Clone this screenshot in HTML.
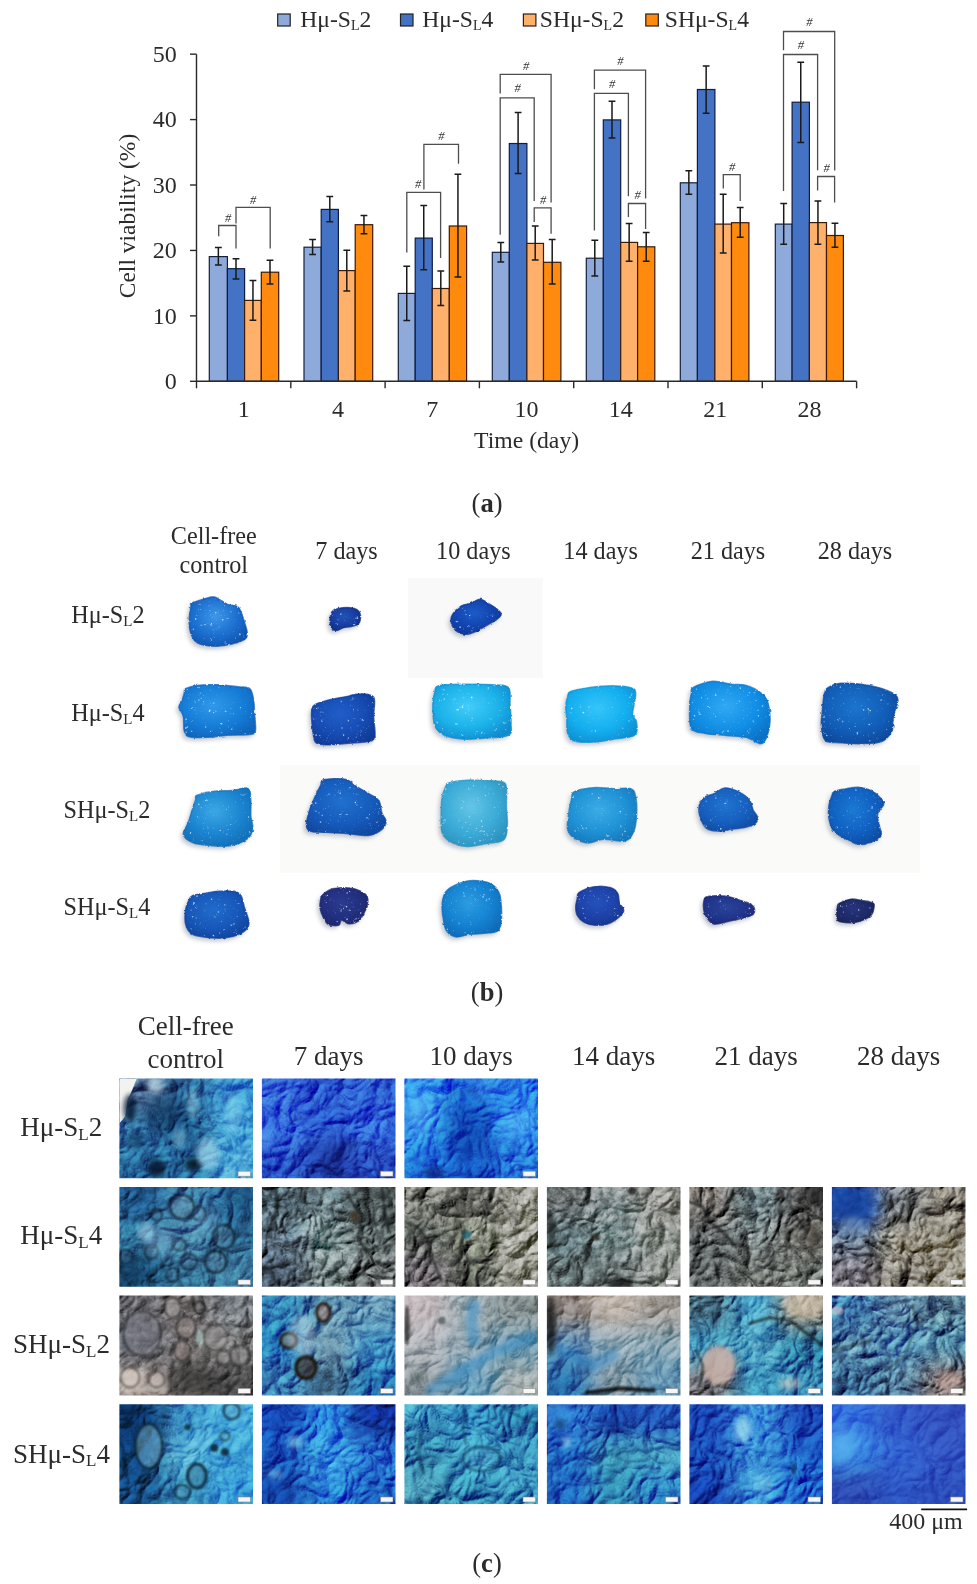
<!DOCTYPE html>
<html><head><meta charset="utf-8"><title>Figure</title>
<style>html,body{margin:0;padding:0;background:#fff;}body{width:977px;height:1584px;position:relative;overflow:hidden;font-family:'Liberation Serif', serif;}</style>
</head><body>
<div style="position:absolute;left:0;top:0;width:977px;height:1584px;opacity:0.995"><svg width="977" height="1584" viewBox="0 0 977 1584" style="position:absolute;left:0;top:0;font-family:'Liberation Serif', serif" fill="#2b2b2b"><defs><filter color-interpolation-filters="sRGB" id="bsh" x="-20%" y="-20%" width="140%" height="140%"><feGaussianBlur stdDeviation="2.2"/></filter><filter color-interpolation-filters="sRGB" id="bed" x="-10%" y="-10%" width="120%" height="120%"><feGaussianBlur stdDeviation="0.6"/></filter><filter color-interpolation-filters="sRGB" id="tbl" x="-30%" y="-30%" width="160%" height="160%"><feGaussianBlur stdDeviation="7"/></filter><filter color-interpolation-filters="sRGB" id="vein0" x="0" y="0" width="100%" height="100%" filterUnits="objectBoundingBox"><feTurbulence type="turbulence" baseFrequency="0.035" numOctaves="3" seed="3"/><feColorMatrix type="matrix" values="0 0 0 0 0.03  0 0 0 0 0.05  0 0 0 0 0.08  -9 0 0 0 1.0"/></filter><filter color-interpolation-filters="sRGB" id="grain0" x="0" y="0" width="100%" height="100%" filterUnits="objectBoundingBox"><feTurbulence type="fractalNoise" baseFrequency="0.7" numOctaves="1" seed="11"/><feColorMatrix type="matrix" values="0 0 0 0 1  0 0 0 0 1  0 0 0 0 1  2.2 0 0 0 -1.25"/></filter><filter color-interpolation-filters="sRGB" id="vein1" x="0" y="0" width="100%" height="100%" filterUnits="objectBoundingBox"><feTurbulence type="turbulence" baseFrequency="0.035" numOctaves="3" seed="4"/><feColorMatrix type="matrix" values="0 0 0 0 0.03  0 0 0 0 0.05  0 0 0 0 0.08  -9 0 0 0 1.0"/></filter><filter color-interpolation-filters="sRGB" id="grain1" x="0" y="0" width="100%" height="100%" filterUnits="objectBoundingBox"><feTurbulence type="fractalNoise" baseFrequency="0.7" numOctaves="1" seed="12"/><feColorMatrix type="matrix" values="0 0 0 0 1  0 0 0 0 1  0 0 0 0 1  2.2 0 0 0 -1.25"/></filter><filter color-interpolation-filters="sRGB" id="vein2" x="0" y="0" width="100%" height="100%" filterUnits="objectBoundingBox"><feTurbulence type="turbulence" baseFrequency="0.035" numOctaves="3" seed="5"/><feColorMatrix type="matrix" values="0 0 0 0 0.03  0 0 0 0 0.05  0 0 0 0 0.08  -9 0 0 0 1.0"/></filter><filter color-interpolation-filters="sRGB" id="grain2" x="0" y="0" width="100%" height="100%" filterUnits="objectBoundingBox"><feTurbulence type="fractalNoise" baseFrequency="0.7" numOctaves="1" seed="13"/><feColorMatrix type="matrix" values="0 0 0 0 1  0 0 0 0 1  0 0 0 0 1  2.2 0 0 0 -1.25"/></filter><filter color-interpolation-filters="sRGB" id="vein3" x="0" y="0" width="100%" height="100%" filterUnits="objectBoundingBox"><feTurbulence type="turbulence" baseFrequency="0.035" numOctaves="3" seed="6"/><feColorMatrix type="matrix" values="0 0 0 0 0.03  0 0 0 0 0.05  0 0 0 0 0.08  -9 0 0 0 1.0"/></filter><filter color-interpolation-filters="sRGB" id="grain3" x="0" y="0" width="100%" height="100%" filterUnits="objectBoundingBox"><feTurbulence type="fractalNoise" baseFrequency="0.7" numOctaves="1" seed="14"/><feColorMatrix type="matrix" values="0 0 0 0 1  0 0 0 0 1  0 0 0 0 1  2.2 0 0 0 -1.25"/></filter><filter color-interpolation-filters="sRGB" id="vein4" x="0" y="0" width="100%" height="100%" filterUnits="objectBoundingBox"><feTurbulence type="turbulence" baseFrequency="0.035" numOctaves="3" seed="7"/><feColorMatrix type="matrix" values="0 0 0 0 0.03  0 0 0 0 0.05  0 0 0 0 0.08  -9 0 0 0 1.0"/></filter><filter color-interpolation-filters="sRGB" id="grain4" x="0" y="0" width="100%" height="100%" filterUnits="objectBoundingBox"><feTurbulence type="fractalNoise" baseFrequency="0.7" numOctaves="1" seed="15"/><feColorMatrix type="matrix" values="0 0 0 0 1  0 0 0 0 1  0 0 0 0 1  2.2 0 0 0 -1.25"/></filter><filter color-interpolation-filters="sRGB" id="vein5" x="0" y="0" width="100%" height="100%" filterUnits="objectBoundingBox"><feTurbulence type="turbulence" baseFrequency="0.035" numOctaves="3" seed="8"/><feColorMatrix type="matrix" values="0 0 0 0 0.03  0 0 0 0 0.05  0 0 0 0 0.08  -9 0 0 0 1.0"/></filter><filter color-interpolation-filters="sRGB" id="grain5" x="0" y="0" width="100%" height="100%" filterUnits="objectBoundingBox"><feTurbulence type="fractalNoise" baseFrequency="0.7" numOctaves="1" seed="16"/><feColorMatrix type="matrix" values="0 0 0 0 1  0 0 0 0 1  0 0 0 0 1  2.2 0 0 0 -1.25"/></filter><filter color-interpolation-filters="sRGB" id="vein6" x="0" y="0" width="100%" height="100%" filterUnits="objectBoundingBox"><feTurbulence type="turbulence" baseFrequency="0.035" numOctaves="3" seed="9"/><feColorMatrix type="matrix" values="0 0 0 0 0.03  0 0 0 0 0.05  0 0 0 0 0.08  -9 0 0 0 1.0"/></filter><filter color-interpolation-filters="sRGB" id="grain6" x="0" y="0" width="100%" height="100%" filterUnits="objectBoundingBox"><feTurbulence type="fractalNoise" baseFrequency="0.7" numOctaves="1" seed="17"/><feColorMatrix type="matrix" values="0 0 0 0 1  0 0 0 0 1  0 0 0 0 1  2.2 0 0 0 -1.25"/></filter><filter color-interpolation-filters="sRGB" id="vein7" x="0" y="0" width="100%" height="100%" filterUnits="objectBoundingBox"><feTurbulence type="turbulence" baseFrequency="0.035" numOctaves="3" seed="10"/><feColorMatrix type="matrix" values="0 0 0 0 0.03  0 0 0 0 0.05  0 0 0 0 0.08  -9 0 0 0 1.0"/></filter><filter color-interpolation-filters="sRGB" id="grain7" x="0" y="0" width="100%" height="100%" filterUnits="objectBoundingBox"><feTurbulence type="fractalNoise" baseFrequency="0.7" numOctaves="1" seed="18"/><feColorMatrix type="matrix" values="0 0 0 0 1  0 0 0 0 1  0 0 0 0 1  2.2 0 0 0 -1.25"/></filter><filter color-interpolation-filters="sRGB" id="vein8" x="0" y="0" width="100%" height="100%" filterUnits="objectBoundingBox"><feTurbulence type="turbulence" baseFrequency="0.035" numOctaves="3" seed="11"/><feColorMatrix type="matrix" values="0 0 0 0 0.03  0 0 0 0 0.05  0 0 0 0 0.08  -9 0 0 0 1.0"/></filter><filter color-interpolation-filters="sRGB" id="grain8" x="0" y="0" width="100%" height="100%" filterUnits="objectBoundingBox"><feTurbulence type="fractalNoise" baseFrequency="0.7" numOctaves="1" seed="19"/><feColorMatrix type="matrix" values="0 0 0 0 1  0 0 0 0 1  0 0 0 0 1  2.2 0 0 0 -1.25"/></filter><filter color-interpolation-filters="sRGB" id="vein9" x="0" y="0" width="100%" height="100%" filterUnits="objectBoundingBox"><feTurbulence type="turbulence" baseFrequency="0.035" numOctaves="3" seed="12"/><feColorMatrix type="matrix" values="0 0 0 0 0.03  0 0 0 0 0.05  0 0 0 0 0.08  -9 0 0 0 1.0"/></filter><filter color-interpolation-filters="sRGB" id="grain9" x="0" y="0" width="100%" height="100%" filterUnits="objectBoundingBox"><feTurbulence type="fractalNoise" baseFrequency="0.7" numOctaves="1" seed="20"/><feColorMatrix type="matrix" values="0 0 0 0 1  0 0 0 0 1  0 0 0 0 1  2.2 0 0 0 -1.25"/></filter><filter color-interpolation-filters="sRGB" id="vein10" x="0" y="0" width="100%" height="100%" filterUnits="objectBoundingBox"><feTurbulence type="turbulence" baseFrequency="0.035" numOctaves="3" seed="13"/><feColorMatrix type="matrix" values="0 0 0 0 0.03  0 0 0 0 0.05  0 0 0 0 0.08  -9 0 0 0 1.0"/></filter><filter color-interpolation-filters="sRGB" id="grain10" x="0" y="0" width="100%" height="100%" filterUnits="objectBoundingBox"><feTurbulence type="fractalNoise" baseFrequency="0.7" numOctaves="1" seed="21"/><feColorMatrix type="matrix" values="0 0 0 0 1  0 0 0 0 1  0 0 0 0 1  2.2 0 0 0 -1.25"/></filter><filter color-interpolation-filters="sRGB" id="vein11" x="0" y="0" width="100%" height="100%" filterUnits="objectBoundingBox"><feTurbulence type="turbulence" baseFrequency="0.035" numOctaves="3" seed="14"/><feColorMatrix type="matrix" values="0 0 0 0 0.03  0 0 0 0 0.05  0 0 0 0 0.08  -9 0 0 0 1.0"/></filter><filter color-interpolation-filters="sRGB" id="grain11" x="0" y="0" width="100%" height="100%" filterUnits="objectBoundingBox"><feTurbulence type="fractalNoise" baseFrequency="0.7" numOctaves="1" seed="22"/><feColorMatrix type="matrix" values="0 0 0 0 1  0 0 0 0 1  0 0 0 0 1  2.2 0 0 0 -1.25"/></filter><filter color-interpolation-filters="sRGB" id="vein12" x="0" y="0" width="100%" height="100%" filterUnits="objectBoundingBox"><feTurbulence type="turbulence" baseFrequency="0.035" numOctaves="3" seed="15"/><feColorMatrix type="matrix" values="0 0 0 0 0.03  0 0 0 0 0.05  0 0 0 0 0.08  -9 0 0 0 1.0"/></filter><filter color-interpolation-filters="sRGB" id="grain12" x="0" y="0" width="100%" height="100%" filterUnits="objectBoundingBox"><feTurbulence type="fractalNoise" baseFrequency="0.7" numOctaves="1" seed="23"/><feColorMatrix type="matrix" values="0 0 0 0 1  0 0 0 0 1  0 0 0 0 1  2.2 0 0 0 -1.25"/></filter><filter color-interpolation-filters="sRGB" id="vein13" x="0" y="0" width="100%" height="100%" filterUnits="objectBoundingBox"><feTurbulence type="turbulence" baseFrequency="0.035" numOctaves="3" seed="16"/><feColorMatrix type="matrix" values="0 0 0 0 0.03  0 0 0 0 0.05  0 0 0 0 0.08  -9 0 0 0 1.0"/></filter><filter color-interpolation-filters="sRGB" id="grain13" x="0" y="0" width="100%" height="100%" filterUnits="objectBoundingBox"><feTurbulence type="fractalNoise" baseFrequency="0.7" numOctaves="1" seed="24"/><feColorMatrix type="matrix" values="0 0 0 0 1  0 0 0 0 1  0 0 0 0 1  2.2 0 0 0 -1.25"/></filter><filter color-interpolation-filters="sRGB" id="vein14" x="0" y="0" width="100%" height="100%" filterUnits="objectBoundingBox"><feTurbulence type="turbulence" baseFrequency="0.035" numOctaves="3" seed="17"/><feColorMatrix type="matrix" values="0 0 0 0 0.03  0 0 0 0 0.05  0 0 0 0 0.08  -9 0 0 0 1.0"/></filter><filter color-interpolation-filters="sRGB" id="grain14" x="0" y="0" width="100%" height="100%" filterUnits="objectBoundingBox"><feTurbulence type="fractalNoise" baseFrequency="0.7" numOctaves="1" seed="25"/><feColorMatrix type="matrix" values="0 0 0 0 1  0 0 0 0 1  0 0 0 0 1  2.2 0 0 0 -1.25"/></filter><filter color-interpolation-filters="sRGB" id="vein15" x="0" y="0" width="100%" height="100%" filterUnits="objectBoundingBox"><feTurbulence type="turbulence" baseFrequency="0.035" numOctaves="3" seed="18"/><feColorMatrix type="matrix" values="0 0 0 0 0.03  0 0 0 0 0.05  0 0 0 0 0.08  -9 0 0 0 1.0"/></filter><filter color-interpolation-filters="sRGB" id="grain15" x="0" y="0" width="100%" height="100%" filterUnits="objectBoundingBox"><feTurbulence type="fractalNoise" baseFrequency="0.7" numOctaves="1" seed="26"/><feColorMatrix type="matrix" values="0 0 0 0 1  0 0 0 0 1  0 0 0 0 1  2.2 0 0 0 -1.25"/></filter><filter color-interpolation-filters="sRGB" id="vein16" x="0" y="0" width="100%" height="100%" filterUnits="objectBoundingBox"><feTurbulence type="turbulence" baseFrequency="0.035" numOctaves="3" seed="19"/><feColorMatrix type="matrix" values="0 0 0 0 0.03  0 0 0 0 0.05  0 0 0 0 0.08  -9 0 0 0 1.0"/></filter><filter color-interpolation-filters="sRGB" id="grain16" x="0" y="0" width="100%" height="100%" filterUnits="objectBoundingBox"><feTurbulence type="fractalNoise" baseFrequency="0.7" numOctaves="1" seed="27"/><feColorMatrix type="matrix" values="0 0 0 0 1  0 0 0 0 1  0 0 0 0 1  2.2 0 0 0 -1.25"/></filter><filter color-interpolation-filters="sRGB" id="vein17" x="0" y="0" width="100%" height="100%" filterUnits="objectBoundingBox"><feTurbulence type="turbulence" baseFrequency="0.035" numOctaves="3" seed="20"/><feColorMatrix type="matrix" values="0 0 0 0 0.03  0 0 0 0 0.05  0 0 0 0 0.08  -9 0 0 0 1.0"/></filter><filter color-interpolation-filters="sRGB" id="grain17" x="0" y="0" width="100%" height="100%" filterUnits="objectBoundingBox"><feTurbulence type="fractalNoise" baseFrequency="0.7" numOctaves="1" seed="28"/><feColorMatrix type="matrix" values="0 0 0 0 1  0 0 0 0 1  0 0 0 0 1  2.2 0 0 0 -1.25"/></filter><filter color-interpolation-filters="sRGB" id="vein18" x="0" y="0" width="100%" height="100%" filterUnits="objectBoundingBox"><feTurbulence type="turbulence" baseFrequency="0.035" numOctaves="3" seed="21"/><feColorMatrix type="matrix" values="0 0 0 0 0.03  0 0 0 0 0.05  0 0 0 0 0.08  -9 0 0 0 1.0"/></filter><filter color-interpolation-filters="sRGB" id="grain18" x="0" y="0" width="100%" height="100%" filterUnits="objectBoundingBox"><feTurbulence type="fractalNoise" baseFrequency="0.7" numOctaves="1" seed="29"/><feColorMatrix type="matrix" values="0 0 0 0 1  0 0 0 0 1  0 0 0 0 1  2.2 0 0 0 -1.25"/></filter><filter color-interpolation-filters="sRGB" id="vein19" x="0" y="0" width="100%" height="100%" filterUnits="objectBoundingBox"><feTurbulence type="turbulence" baseFrequency="0.035" numOctaves="3" seed="22"/><feColorMatrix type="matrix" values="0 0 0 0 0.03  0 0 0 0 0.05  0 0 0 0 0.08  -9 0 0 0 1.0"/></filter><filter color-interpolation-filters="sRGB" id="grain19" x="0" y="0" width="100%" height="100%" filterUnits="objectBoundingBox"><feTurbulence type="fractalNoise" baseFrequency="0.7" numOctaves="1" seed="30"/><feColorMatrix type="matrix" values="0 0 0 0 1  0 0 0 0 1  0 0 0 0 1  2.2 0 0 0 -1.25"/></filter><filter color-interpolation-filters="sRGB" id="vein20" x="0" y="0" width="100%" height="100%" filterUnits="objectBoundingBox"><feTurbulence type="turbulence" baseFrequency="0.035" numOctaves="3" seed="23"/><feColorMatrix type="matrix" values="0 0 0 0 0.03  0 0 0 0 0.05  0 0 0 0 0.08  -9 0 0 0 1.0"/></filter><filter color-interpolation-filters="sRGB" id="grain20" x="0" y="0" width="100%" height="100%" filterUnits="objectBoundingBox"><feTurbulence type="fractalNoise" baseFrequency="0.7" numOctaves="1" seed="31"/><feColorMatrix type="matrix" values="0 0 0 0 1  0 0 0 0 1  0 0 0 0 1  2.2 0 0 0 -1.25"/></filter><filter color-interpolation-filters="sRGB" id="vein21" x="0" y="0" width="100%" height="100%" filterUnits="objectBoundingBox"><feTurbulence type="turbulence" baseFrequency="0.035" numOctaves="3" seed="24"/><feColorMatrix type="matrix" values="0 0 0 0 0.03  0 0 0 0 0.05  0 0 0 0 0.08  -9 0 0 0 1.0"/></filter><filter color-interpolation-filters="sRGB" id="grain21" x="0" y="0" width="100%" height="100%" filterUnits="objectBoundingBox"><feTurbulence type="fractalNoise" baseFrequency="0.7" numOctaves="1" seed="32"/><feColorMatrix type="matrix" values="0 0 0 0 1  0 0 0 0 1  0 0 0 0 1  2.2 0 0 0 -1.25"/></filter><filter color-interpolation-filters="sRGB" id="vein22" x="0" y="0" width="100%" height="100%" filterUnits="objectBoundingBox"><feTurbulence type="turbulence" baseFrequency="0.035" numOctaves="3" seed="25"/><feColorMatrix type="matrix" values="0 0 0 0 0.03  0 0 0 0 0.05  0 0 0 0 0.08  -9 0 0 0 1.0"/></filter><filter color-interpolation-filters="sRGB" id="grain22" x="0" y="0" width="100%" height="100%" filterUnits="objectBoundingBox"><feTurbulence type="fractalNoise" baseFrequency="0.7" numOctaves="1" seed="33"/><feColorMatrix type="matrix" values="0 0 0 0 1  0 0 0 0 1  0 0 0 0 1  2.2 0 0 0 -1.25"/></filter><filter color-interpolation-filters="sRGB" id="vein23" x="0" y="0" width="100%" height="100%" filterUnits="objectBoundingBox"><feTurbulence type="turbulence" baseFrequency="0.035" numOctaves="3" seed="26"/><feColorMatrix type="matrix" values="0 0 0 0 0.03  0 0 0 0 0.05  0 0 0 0 0.08  -9 0 0 0 1.0"/></filter><filter color-interpolation-filters="sRGB" id="grain23" x="0" y="0" width="100%" height="100%" filterUnits="objectBoundingBox"><feTurbulence type="fractalNoise" baseFrequency="0.7" numOctaves="1" seed="34"/><feColorMatrix type="matrix" values="0 0 0 0 1  0 0 0 0 1  0 0 0 0 1  2.2 0 0 0 -1.25"/></filter><filter color-interpolation-filters="sRGB" id="tbl2" x="-30%" y="-30%" width="160%" height="160%"><feGaussianBlur stdDeviation="2.5"/></filter><filter color-interpolation-filters="sRGB" id="rough" x="-10%" y="-10%" width="120%" height="120%"><feTurbulence type="fractalNoise" baseFrequency="0.3" numOctaves="2" seed="5" result="n"/><feDisplacementMap in="SourceGraphic" in2="n" scale="2.5" xChannelSelector="R" yChannelSelector="G"/></filter><filter color-interpolation-filters="sRGB" id="speck" x="0" y="0" width="100%" height="100%" filterUnits="objectBoundingBox"><feTurbulence type="fractalNoise" baseFrequency="0.6" numOctaves="1" seed="9"/><feColorMatrix type="matrix" values="0 0 0 0 0.85  0 0 0 0 0.93  0 0 0 0 1  12 0 0 0 -8.2"/></filter><filter color-interpolation-filters="sRGB" id="mott" x="0" y="0" width="100%" height="100%" filterUnits="objectBoundingBox"><feTurbulence type="fractalNoise" baseFrequency="0.15" numOctaves="2" seed="21"/><feColorMatrix type="matrix" values="2 0 0 0 -0.5  2 0 0 0 -0.5  2 0 0 0 -0.5  0 0 0 0 1"/></filter><clipPath id="bc0"><path d="M192.0 603.0C195.4 601.5 207.4 597.7 211.8 597.0C216.2 596.3 215.7 597.6 218.3 598.8C220.9 600.0 224.3 603.0 227.5 604.3C230.7 605.6 235.3 605.2 237.6 606.6C239.9 608.0 240.1 609.8 241.3 612.6C242.5 615.5 244.0 620.3 245.0 623.7C246.0 627.1 247.3 630.3 247.3 632.9C247.3 635.5 247.5 637.4 245.0 639.3C242.5 641.1 236.8 642.8 232.1 644.0C227.3 645.2 221.4 646.1 216.5 646.3C211.6 646.4 206.3 645.9 202.6 644.9C198.9 643.9 196.5 642.9 194.3 640.3C192.2 637.7 190.5 633.2 189.7 629.2C188.9 625.2 189.1 620.1 189.3 616.3C189.5 612.5 190.7 608.4 191.1 606.2C191.5 604.0 188.6 604.5 192.0 603.0Z"/></clipPath><radialGradient id="bg0" cx="0.45" cy="0.4" r="0.65"><stop offset="0" stop-color="#3d97e9"/><stop offset="0.6" stop-color="#1b6ece"/><stop offset="1" stop-color="#1053af"/></radialGradient><clipPath id="bc1"><path d="M333.5 610.2C335.5 609.0 339.1 608.0 342.5 607.7C345.9 607.4 351.0 607.5 353.8 608.2C356.6 608.9 358.3 610.2 359.4 611.9C360.5 613.6 360.7 616.5 360.5 618.6C360.3 620.7 359.8 623.0 358.3 624.3C356.8 625.6 353.9 625.9 351.5 626.5C349.1 627.1 346.0 627.0 343.6 627.7C341.2 628.4 338.9 630.3 336.9 630.5C334.9 630.7 333.0 630.3 331.8 628.8C330.6 627.3 330.1 623.9 329.9 621.5C329.7 619.1 330.1 616.6 330.7 614.7C331.3 612.8 331.5 611.4 333.5 610.2Z"/></clipPath><radialGradient id="bg1" cx="0.45" cy="0.4" r="0.65"><stop offset="0" stop-color="#2252b7"/><stop offset="0.6" stop-color="#173ea2"/><stop offset="1" stop-color="#102e85"/></radialGradient><clipPath id="bc2"><path d="M452.2 615.1C453.9 612.1 458.4 607.8 461.5 605.8C464.6 603.8 467.7 604.4 470.8 603.3C473.9 602.2 477.1 599.2 480.1 599.3C483.1 599.3 485.8 601.9 488.7 603.6C491.6 605.3 495.2 607.5 497.3 609.3C499.4 611.1 501.5 612.6 501.3 614.4C501.1 616.2 498.5 618.2 495.9 620.1C493.3 622.0 489.2 623.9 485.9 625.8C482.5 627.7 479.1 630.2 475.8 631.6C472.5 633.0 468.9 634.4 465.8 634.4C462.7 634.4 459.6 633.4 457.2 631.6C454.8 629.8 452.3 626.5 451.5 623.7C450.7 621.0 450.5 618.1 452.2 615.1Z"/></clipPath><radialGradient id="bg2" cx="0.45" cy="0.4" r="0.65"><stop offset="0" stop-color="#1c5cc8"/><stop offset="0.6" stop-color="#1243af"/><stop offset="1" stop-color="#0d3692"/></radialGradient><clipPath id="bc3"><path d="M185.6 688.6C188.1 687.2 193.7 685.9 199.2 685.2C204.7 684.6 212.1 684.5 218.6 684.7C225.1 685.0 232.9 686.1 238.1 686.7C243.3 687.4 247.1 686.5 249.7 688.6C252.3 690.7 252.8 695.1 253.6 699.3C254.4 703.5 254.3 708.9 254.6 713.9C254.9 718.9 256.1 726.1 255.6 729.5C255.1 732.9 256.2 733.3 251.7 734.3C247.1 735.3 235.4 734.8 228.3 735.3C221.2 735.8 215.1 736.9 208.9 737.2C202.8 737.5 195.5 738.0 191.4 737.2C187.3 736.4 186.0 736.0 184.6 732.4C183.2 728.8 184.1 720.0 183.1 715.8C182.1 711.6 179.0 709.5 178.8 707.1C178.6 704.7 180.8 703.6 181.7 701.3C182.6 699.0 183.4 695.6 184.1 693.5C184.8 691.4 183.1 690.0 185.6 688.6Z"/></clipPath><radialGradient id="bg3" cx="0.45" cy="0.4" r="0.65"><stop offset="0" stop-color="#3099e9"/><stop offset="0.6" stop-color="#157dd7"/><stop offset="1" stop-color="#1064bb"/></radialGradient><clipPath id="bc4"><path d="M314.7 704.9C317.4 702.9 322.4 701.7 327.6 700.3C332.8 698.9 340.7 697.7 346.1 696.6C351.5 695.5 355.6 693.9 359.9 693.8C364.2 693.6 369.4 694.5 371.9 695.7C374.3 696.9 374.3 697.7 374.6 701.2C374.9 704.7 373.6 711.3 373.7 716.8C373.8 722.3 375.4 730.3 375.1 734.3C374.8 738.3 376.6 739.2 371.8 740.8C367.0 742.3 353.8 742.9 346.1 743.6C338.4 744.3 330.9 745.1 325.8 744.9C320.7 744.7 317.9 744.8 315.7 742.6C313.5 740.4 313.6 736.7 312.9 731.6C312.2 726.5 311.2 716.7 311.5 712.2C311.8 707.8 312.0 706.9 314.7 704.9Z"/></clipPath><radialGradient id="bg4" cx="0.45" cy="0.4" r="0.65"><stop offset="0" stop-color="#215ec8"/><stop offset="0.6" stop-color="#164cb4"/><stop offset="1" stop-color="#113a96"/></radialGradient><clipPath id="bc5"><path d="M438.6 685.7C443.5 684.3 454.8 684.4 463.9 684.2C473.0 684.0 485.7 684.1 493.1 684.7C500.6 685.3 505.8 684.4 508.6 687.6C511.4 690.9 509.7 698.2 510.1 704.2C510.5 710.2 511.4 718.4 511.1 723.6C510.9 728.8 513.2 732.9 508.6 735.3C504.0 737.7 490.8 737.6 483.3 738.2C475.9 738.9 470.4 739.7 463.9 739.2C457.4 738.7 449.3 737.6 444.4 735.3C439.5 733.0 436.6 730.8 434.7 725.6C432.8 720.4 432.8 709.7 432.8 704.2C432.8 698.7 433.7 695.6 434.7 692.5C435.7 689.4 433.7 687.1 438.6 685.7Z"/></clipPath><radialGradient id="bg5" cx="0.45" cy="0.4" r="0.65"><stop offset="0" stop-color="#43ccfa"/><stop offset="0.6" stop-color="#1bb2e9"/><stop offset="1" stop-color="#0f8bd0"/></radialGradient><clipPath id="bc6"><path d="M570.6 691.5C574.2 690.0 582.2 688.6 589.0 687.6C595.8 686.6 604.4 685.7 611.4 685.7C618.4 685.7 626.8 686.5 630.8 687.6C634.8 688.7 635.2 689.4 635.7 692.5C636.2 695.6 634.3 702.5 633.8 706.1C633.3 709.7 632.3 711.1 632.8 713.9C633.3 716.6 636.4 719.0 636.7 722.6C637.0 726.2 638.6 732.5 634.7 735.3C630.8 738.1 620.1 738.1 613.3 739.2C606.5 740.3 600.4 741.8 593.9 742.1C587.4 742.4 578.8 742.6 574.4 741.1C570.0 739.6 568.9 737.0 567.6 733.3C566.3 729.6 567.0 723.3 566.7 718.8C566.4 714.3 565.6 709.8 565.7 706.1C565.9 702.4 566.8 698.8 567.6 696.4C568.4 694.0 567.0 693.0 570.6 691.5Z"/></clipPath><radialGradient id="bg6" cx="0.45" cy="0.4" r="0.65"><stop offset="0" stop-color="#35c5fa"/><stop offset="0.6" stop-color="#14afef"/><stop offset="1" stop-color="#0d90d4"/></radialGradient><clipPath id="bc7"><path d="M693.3 687.4C696.9 685.4 706.5 681.8 712.8 681.3C719.1 680.8 725.6 683.6 731.2 684.3C736.8 685.0 741.4 683.9 746.5 685.4C751.6 686.9 758.3 690.6 761.9 693.5C765.5 696.4 766.6 698.2 768.0 702.8C769.4 707.4 770.3 715.6 770.1 721.2C769.9 726.8 768.5 732.8 767.0 736.5C765.5 740.2 764.3 743.5 760.9 743.7C757.5 743.9 752.3 739.0 746.5 737.6C740.7 736.2 732.9 736.2 726.1 735.5C719.3 734.8 711.4 734.7 705.6 733.5C699.8 732.3 693.9 732.9 691.3 728.3C688.6 723.7 689.7 711.6 689.7 705.8C689.7 700.0 690.7 696.6 691.3 693.5C691.9 690.4 689.7 689.4 693.3 687.4Z"/></clipPath><radialGradient id="bg7" cx="0.45" cy="0.4" r="0.65"><stop offset="0" stop-color="#31a8f3"/><stop offset="0.6" stop-color="#108ee5"/><stop offset="1" stop-color="#0a71c8"/></radialGradient><clipPath id="bc8"><path d="M828.4 687.4C831.1 685.7 835.2 683.8 840.7 683.3C846.2 682.8 854.4 683.4 861.2 684.3C868.0 685.1 876.0 686.7 881.6 688.4C887.2 690.1 892.3 692.5 895.0 694.6C897.7 696.7 898.0 698.0 898.0 700.7C898.0 703.4 895.9 707.5 895.0 710.9C894.1 714.3 893.4 717.8 892.9 721.2C892.4 724.6 893.8 728.0 891.9 731.4C890.0 734.8 886.7 739.5 881.6 741.6C876.5 743.7 868.0 743.5 861.2 743.7C854.4 743.9 846.7 743.2 840.7 742.7C834.7 742.2 828.6 743.3 825.4 740.6C822.2 737.9 821.8 731.2 821.3 726.3C820.8 721.3 821.8 716.4 822.3 710.9C822.8 705.4 823.3 697.4 824.3 693.5C825.3 689.6 825.7 689.1 828.4 687.4Z"/></clipPath><radialGradient id="bg8" cx="0.45" cy="0.4" r="0.65"><stop offset="0" stop-color="#1c75cc"/><stop offset="0.6" stop-color="#115eb9"/><stop offset="1" stop-color="#0e489a"/></radialGradient><clipPath id="bc9"><path d="M196.6 795.5C199.5 794.1 207.2 792.2 213.0 791.4C218.8 790.5 225.6 790.9 231.4 790.4C237.2 789.9 244.6 786.6 247.8 788.3C251.1 790.0 250.4 796.0 250.9 800.6C251.4 805.2 250.6 811.3 250.9 815.9C251.2 820.5 253.4 824.4 252.9 828.2C252.4 832.0 251.4 835.6 247.8 838.5C244.2 841.4 237.6 844.4 231.4 845.6C225.2 846.8 217.4 846.1 210.9 845.6C204.4 845.1 197.1 844.5 192.5 842.6C187.9 840.7 184.0 837.8 183.3 834.4C182.6 831.0 186.9 826.4 188.4 822.1C189.9 817.8 191.3 812.5 192.5 808.8C193.7 805.0 194.9 801.8 195.6 799.6C196.3 797.4 193.7 796.9 196.6 795.5Z"/></clipPath><radialGradient id="bg9" cx="0.45" cy="0.4" r="0.65"><stop offset="0" stop-color="#3ba7e5"/><stop offset="0.6" stop-color="#1b84d0"/><stop offset="1" stop-color="#126eb7"/></radialGradient><clipPath id="bc10"><path d="M323.7 779.7C327.8 778.7 339.8 778.1 345.2 779.2C350.6 780.3 352.5 784.0 356.4 786.4C360.3 788.8 364.9 791.1 368.7 793.5C372.4 795.9 376.7 797.5 378.9 800.7C381.1 804.0 380.8 809.6 382.0 813.0C383.2 816.4 386.1 818.5 386.1 821.2C386.1 823.9 384.9 827.0 382.0 829.4C379.1 831.8 374.7 834.8 368.7 835.5C362.7 836.2 353.4 834.0 346.2 833.5C339.0 833.0 331.7 832.8 325.7 832.4C319.7 832.0 313.6 832.6 310.4 831.4C307.2 830.2 306.5 828.7 306.3 825.3C306.1 821.9 307.8 816.0 309.3 811.0C310.8 806.0 313.6 799.9 315.5 795.6C317.4 791.3 319.2 788.0 320.6 785.4C322.0 782.8 319.6 780.7 323.7 779.7Z"/></clipPath><radialGradient id="bg10" cx="0.45" cy="0.4" r="0.65"><stop offset="0" stop-color="#2070ce"/><stop offset="0.6" stop-color="#155bbc"/><stop offset="1" stop-color="#1047a0"/></radialGradient><clipPath id="bc11"><path d="M448.4 782.9C451.9 781.8 460.6 780.5 466.8 780.1C473.0 779.7 479.3 780.3 485.3 780.6C491.3 780.9 499.3 780.7 502.8 782.0C506.3 783.3 505.9 784.3 506.5 788.4C507.1 792.5 506.4 800.6 506.5 806.8C506.6 812.9 507.9 819.8 507.4 825.3C506.9 830.8 507.4 836.9 503.7 840.0C500.0 843.1 491.4 842.6 485.3 843.7C479.2 844.8 472.6 846.8 466.8 846.5C461.0 846.2 454.4 844.1 450.3 841.8C446.2 839.5 443.5 836.9 442.0 832.6C440.5 828.3 441.1 821.9 441.1 816.1C441.1 810.3 441.2 802.5 442.0 797.6C442.8 792.7 444.6 789.1 445.7 786.6C446.8 784.1 444.9 784.0 448.4 782.9Z"/></clipPath><radialGradient id="bg11" cx="0.45" cy="0.4" r="0.65"><stop offset="0" stop-color="#65c5e5"/><stop offset="0.6" stop-color="#3babd7"/><stop offset="1" stop-color="#2d92bf"/></radialGradient><clipPath id="bc12"><path d="M574.4 791.5C578.1 789.5 587.4 788.1 593.9 787.6C600.4 787.1 607.1 788.4 613.3 788.6C619.4 788.8 627.1 787.3 630.8 788.6C634.5 789.9 634.7 792.2 635.7 796.4C636.7 800.6 637.0 808.1 636.7 813.9C636.4 819.7 635.8 826.9 633.8 831.4C631.8 835.9 630.0 839.8 625.0 841.1C620.0 842.4 609.8 838.9 603.6 839.2C597.5 839.5 593.0 843.3 588.1 843.1C583.2 842.9 577.8 840.5 574.4 838.2C571.0 835.9 568.6 833.5 567.6 829.5C566.6 825.5 568.0 818.9 568.6 813.9C569.2 808.9 570.5 803.0 571.5 799.3C572.5 795.6 570.7 793.5 574.4 791.5Z"/></clipPath><radialGradient id="bg12" cx="0.45" cy="0.4" r="0.65"><stop offset="0" stop-color="#3bace5"/><stop offset="0.6" stop-color="#1f92d6"/><stop offset="1" stop-color="#1677bb"/></radialGradient><clipPath id="bc13"><path d="M703.4 798.0C706.0 795.5 711.0 795.1 714.5 793.4C718.0 791.7 720.6 788.2 724.6 787.9C728.6 787.6 734.2 789.6 738.4 791.6C742.5 793.6 747.0 796.8 749.5 799.9C752.0 803.0 751.8 807.1 753.2 810.0C754.6 812.9 757.5 815.1 757.8 817.4C758.1 819.7 757.1 822.1 755.0 823.8C752.9 825.5 748.9 826.6 744.9 827.5C740.9 828.4 735.2 828.7 731.1 829.3C727.0 829.9 723.9 831.2 720.0 831.2C716.1 831.2 711.1 831.0 708.0 829.3C704.9 827.6 703.1 824.6 701.6 821.1C700.1 817.6 698.5 812.1 698.8 808.2C699.1 804.4 700.8 800.5 703.4 798.0Z"/></clipPath><radialGradient id="bg13" cx="0.45" cy="0.4" r="0.65"><stop offset="0" stop-color="#2074d0"/><stop offset="0.6" stop-color="#165fbf"/><stop offset="1" stop-color="#104ba2"/></radialGradient><clipPath id="bc14"><path d="M834.1 791.5C836.4 790.2 841.4 789.6 845.5 788.9C849.6 788.2 854.1 786.9 858.5 787.2C862.9 787.5 867.8 788.8 871.6 790.7C875.4 792.6 879.1 796.2 881.1 798.5C883.1 800.8 884.3 802.0 883.7 804.6C883.1 807.2 878.3 810.7 877.6 814.2C876.9 817.7 878.8 821.9 879.4 825.5C880.0 829.1 882.4 833.1 881.1 835.9C879.8 838.6 875.1 840.5 871.6 842.0C868.1 843.5 863.8 844.8 860.2 844.6C856.6 844.5 854.1 843.3 849.8 841.1C845.4 838.9 837.6 835.4 834.1 831.6C830.6 827.8 829.8 822.9 828.9 818.5C828.0 814.1 828.5 809.1 828.9 805.5C829.3 801.9 830.6 799.1 831.5 796.8C832.4 794.5 831.8 792.8 834.1 791.5Z"/></clipPath><radialGradient id="bg14" cx="0.45" cy="0.4" r="0.65"><stop offset="0" stop-color="#1b79d4"/><stop offset="0.6" stop-color="#1061c1"/><stop offset="1" stop-color="#0e4ba2"/></radialGradient><clipPath id="bc15"><path d="M192.4 895.7C195.3 894.2 201.2 893.8 205.5 893.1C209.8 892.4 213.7 891.6 218.5 891.3C223.3 891.0 230.4 890.6 234.2 891.3C238.0 892.0 239.4 893.0 241.1 895.7C242.8 898.5 243.3 903.4 244.6 907.8C245.9 912.1 248.7 918.2 249.0 921.8C249.3 925.4 248.5 927.3 246.3 929.6C244.1 931.9 240.5 934.2 235.9 935.7C231.3 937.2 224.3 938.1 218.5 938.3C212.7 938.4 205.7 937.5 201.1 936.6C196.5 935.7 193.3 935.3 190.7 933.1C188.1 930.9 186.3 927.3 185.4 923.5C184.5 919.7 185.0 914.1 185.4 910.5C185.8 906.9 186.9 904.3 188.1 901.8C189.3 899.3 189.5 897.2 192.4 895.7Z"/></clipPath><radialGradient id="bg15" cx="0.45" cy="0.4" r="0.65"><stop offset="0" stop-color="#206ccc"/><stop offset="0.6" stop-color="#1757b9"/><stop offset="1" stop-color="#10439c"/></radialGradient><clipPath id="bc16"><path d="M322.9 894.5C324.9 892.8 328.5 889.8 332.9 888.7C337.3 887.6 344.8 887.6 349.4 888.0C353.9 888.4 357.2 889.5 360.2 890.9C363.2 892.3 366.1 894.2 367.3 896.6C368.5 899.0 367.9 902.3 367.3 905.2C366.7 908.1 365.1 911.2 363.7 913.8C362.3 916.4 361.1 919.3 358.7 921.0C356.3 922.7 352.3 924.0 349.4 923.9C346.5 923.8 343.3 920.1 341.5 920.3C339.7 920.5 340.8 924.6 338.7 925.3C336.6 926.0 331.1 925.8 328.6 924.6C326.1 923.4 325.0 920.9 323.6 918.1C322.2 915.4 320.5 911.3 320.0 908.1C319.5 904.9 320.2 901.1 320.7 898.8C321.2 896.5 320.9 896.2 322.9 894.5Z"/></clipPath><radialGradient id="bg16" cx="0.45" cy="0.4" r="0.65"><stop offset="0" stop-color="#2b3990"/><stop offset="0.6" stop-color="#222f7f"/><stop offset="1" stop-color="#1c256a"/></radialGradient><clipPath id="bc17"><path d="M447.4 890.0C451.4 886.4 460.7 882.8 466.5 881.3C472.3 879.8 477.8 880.7 482.2 881.3C486.6 881.9 489.9 883.0 492.6 884.8C495.4 886.5 497.2 888.5 498.7 891.8C500.1 895.1 500.9 900.0 501.3 904.8C501.7 909.6 501.9 916.1 501.3 920.5C500.7 924.9 501.1 928.7 497.9 930.9C494.7 933.1 487.0 932.9 482.2 933.5C477.4 934.1 473.5 933.8 469.2 934.4C464.9 935.0 459.9 937.6 456.1 937.0C452.3 936.4 448.7 934.1 446.5 930.9C444.3 927.7 443.8 922.5 443.1 917.9C442.4 913.3 441.5 907.8 442.2 903.1C442.9 898.5 443.3 893.6 447.4 890.0Z"/></clipPath><radialGradient id="bg17" cx="0.45" cy="0.4" r="0.65"><stop offset="0" stop-color="#2c9ce1"/><stop offset="0.6" stop-color="#1482d1"/><stop offset="1" stop-color="#1069b7"/></radialGradient><clipPath id="bc18"><path d="M579.3 892.3C582.3 890.3 589.7 887.3 595.1 886.6C600.5 885.9 607.8 886.8 611.6 888.0C615.4 889.2 616.7 891.4 618.0 893.8C619.3 896.2 618.5 899.7 619.5 902.4C620.5 905.1 623.8 907.8 623.8 910.2C623.8 912.6 622.1 914.4 619.5 916.7C616.9 919.0 612.1 922.5 608.0 923.9C603.9 925.3 599.1 925.5 595.1 925.3C591.1 925.0 587.3 924.1 584.3 922.4C581.3 920.7 578.6 917.9 577.2 915.3C575.8 912.7 575.7 909.5 575.7 906.7C575.7 904.0 576.6 901.2 577.2 898.8C577.8 896.4 576.3 894.3 579.3 892.3Z"/></clipPath><radialGradient id="bg18" cx="0.45" cy="0.4" r="0.65"><stop offset="0" stop-color="#2452bb"/><stop offset="0.6" stop-color="#1d42a8"/><stop offset="1" stop-color="#16348d"/></radialGradient><clipPath id="bc19"><path d="M703.9 900.5C704.6 898.0 704.6 897.1 708.0 896.4C711.4 895.6 719.8 895.6 724.4 896.0C729.0 896.4 732.1 897.6 735.9 898.8C739.7 899.9 744.3 901.5 747.3 902.9C750.3 904.3 752.9 905.1 753.9 907.0C754.9 908.9 755.3 912.5 753.1 914.4C750.9 916.3 745.2 917.3 740.8 918.5C736.4 919.7 731.2 920.8 726.8 921.8C722.4 922.8 717.7 924.6 714.6 924.2C711.5 923.8 709.8 921.5 708.0 919.3C706.2 917.1 704.6 914.2 703.9 911.1C703.2 908.0 703.2 903.0 703.9 900.5Z"/></clipPath><radialGradient id="bg19" cx="0.45" cy="0.4" r="0.65"><stop offset="0" stop-color="#2a439a"/><stop offset="0.6" stop-color="#21348b"/><stop offset="1" stop-color="#1b2974"/></radialGradient><clipPath id="bc20"><path d="M839.1 903.4C841.4 902.1 847.0 899.6 850.8 899.1C854.6 898.6 858.1 899.8 861.8 900.4C865.5 901.0 870.8 901.7 872.9 902.8C875.0 903.9 874.3 905.1 874.1 907.1C873.9 909.1 873.2 912.5 871.7 914.5C870.2 916.5 867.8 918.1 864.9 919.4C862.0 920.7 857.9 922.0 854.5 922.5C851.1 923.0 847.5 922.8 844.7 922.5C841.9 922.2 839.2 922.1 837.9 920.6C836.6 919.1 836.8 915.5 836.7 913.3C836.6 911.0 836.9 908.8 837.3 907.1C837.7 905.5 836.9 904.7 839.1 903.4Z"/></clipPath><radialGradient id="bg20" cx="0.45" cy="0.4" r="0.65"><stop offset="0" stop-color="#26347d"/><stop offset="0.6" stop-color="#1f2a6a"/><stop offset="1" stop-color="#192359"/></radialGradient><filter color-interpolation-filters="sRGB" id="gbl" x="-20%" y="-20%" width="140%" height="140%"><feGaussianBlur stdDeviation="11"/></filter><filter color-interpolation-filters="sRGB" id="fb1" x="-50%" y="-50%" width="200%" height="200%"><feGaussianBlur stdDeviation="2.5"/></filter><filter color-interpolation-filters="sRGB" id="fb2" x="-50%" y="-50%" width="200%" height="200%"><feGaussianBlur stdDeviation="7"/></filter><filter color-interpolation-filters="sRGB" id="fb0" x="-50%" y="-50%" width="200%" height="200%"><feGaussianBlur stdDeviation="1.1"/></filter><filter color-interpolation-filters="sRGB" id="cr0" x="0" y="0" width="100%" height="100%" filterUnits="objectBoundingBox"><feTurbulence type="turbulence" baseFrequency="0.032" numOctaves="3" seed="60" result="n"/><feDiffuseLighting in="n" surfaceScale="5" lighting-color="#fff" diffuseConstant="0.72"><feDistantLight azimuth="225" elevation="45"/></feDiffuseLighting></filter><filter color-interpolation-filters="sRGB" id="nz0" x="0" y="0" width="100%" height="100%" filterUnits="objectBoundingBox"><feTurbulence type="fractalNoise" baseFrequency="0.13" numOctaves="3" seed="40"/><feColorMatrix type="matrix" values="2.2 0 0 0 -0.6  2.2 0 0 0 -0.6  2.2 0 0 0 -0.6  0 0 0 0 1"/></filter><filter color-interpolation-filters="sRGB" id="cr1" x="0" y="0" width="100%" height="100%" filterUnits="objectBoundingBox"><feTurbulence type="turbulence" baseFrequency="0.032" numOctaves="3" seed="61" result="n"/><feDiffuseLighting in="n" surfaceScale="5" lighting-color="#fff" diffuseConstant="0.72"><feDistantLight azimuth="225" elevation="45"/></feDiffuseLighting></filter><filter color-interpolation-filters="sRGB" id="nz1" x="0" y="0" width="100%" height="100%" filterUnits="objectBoundingBox"><feTurbulence type="fractalNoise" baseFrequency="0.13" numOctaves="3" seed="41"/><feColorMatrix type="matrix" values="2.2 0 0 0 -0.6  2.2 0 0 0 -0.6  2.2 0 0 0 -0.6  0 0 0 0 1"/></filter><filter color-interpolation-filters="sRGB" id="cr2" x="0" y="0" width="100%" height="100%" filterUnits="objectBoundingBox"><feTurbulence type="turbulence" baseFrequency="0.032" numOctaves="3" seed="62" result="n"/><feDiffuseLighting in="n" surfaceScale="5" lighting-color="#fff" diffuseConstant="0.72"><feDistantLight azimuth="225" elevation="45"/></feDiffuseLighting></filter><filter color-interpolation-filters="sRGB" id="nz2" x="0" y="0" width="100%" height="100%" filterUnits="objectBoundingBox"><feTurbulence type="fractalNoise" baseFrequency="0.13" numOctaves="3" seed="42"/><feColorMatrix type="matrix" values="2.2 0 0 0 -0.6  2.2 0 0 0 -0.6  2.2 0 0 0 -0.6  0 0 0 0 1"/></filter><filter color-interpolation-filters="sRGB" id="cr3" x="0" y="0" width="100%" height="100%" filterUnits="objectBoundingBox"><feTurbulence type="turbulence" baseFrequency="0.032" numOctaves="3" seed="63" result="n"/><feDiffuseLighting in="n" surfaceScale="5" lighting-color="#fff" diffuseConstant="0.72"><feDistantLight azimuth="225" elevation="45"/></feDiffuseLighting></filter><filter color-interpolation-filters="sRGB" id="nz3" x="0" y="0" width="100%" height="100%" filterUnits="objectBoundingBox"><feTurbulence type="fractalNoise" baseFrequency="0.13" numOctaves="3" seed="43"/><feColorMatrix type="matrix" values="2.2 0 0 0 -0.6  2.2 0 0 0 -0.6  2.2 0 0 0 -0.6  0 0 0 0 1"/></filter><filter color-interpolation-filters="sRGB" id="cr4" x="0" y="0" width="100%" height="100%" filterUnits="objectBoundingBox"><feTurbulence type="turbulence" baseFrequency="0.032" numOctaves="3" seed="64" result="n"/><feDiffuseLighting in="n" surfaceScale="5" lighting-color="#fff" diffuseConstant="0.72"><feDistantLight azimuth="225" elevation="45"/></feDiffuseLighting></filter><filter color-interpolation-filters="sRGB" id="nz4" x="0" y="0" width="100%" height="100%" filterUnits="objectBoundingBox"><feTurbulence type="fractalNoise" baseFrequency="0.13" numOctaves="3" seed="44"/><feColorMatrix type="matrix" values="2.2 0 0 0 -0.6  2.2 0 0 0 -0.6  2.2 0 0 0 -0.6  0 0 0 0 1"/></filter><filter color-interpolation-filters="sRGB" id="cr5" x="0" y="0" width="100%" height="100%" filterUnits="objectBoundingBox"><feTurbulence type="turbulence" baseFrequency="0.032" numOctaves="3" seed="65" result="n"/><feDiffuseLighting in="n" surfaceScale="5" lighting-color="#fff" diffuseConstant="0.72"><feDistantLight azimuth="225" elevation="45"/></feDiffuseLighting></filter><filter color-interpolation-filters="sRGB" id="nz5" x="0" y="0" width="100%" height="100%" filterUnits="objectBoundingBox"><feTurbulence type="fractalNoise" baseFrequency="0.13" numOctaves="3" seed="45"/><feColorMatrix type="matrix" values="2.2 0 0 0 -0.6  2.2 0 0 0 -0.6  2.2 0 0 0 -0.6  0 0 0 0 1"/></filter><filter color-interpolation-filters="sRGB" id="cr6" x="0" y="0" width="100%" height="100%" filterUnits="objectBoundingBox"><feTurbulence type="turbulence" baseFrequency="0.032" numOctaves="3" seed="66" result="n"/><feDiffuseLighting in="n" surfaceScale="5" lighting-color="#fff" diffuseConstant="0.72"><feDistantLight azimuth="225" elevation="45"/></feDiffuseLighting></filter><filter color-interpolation-filters="sRGB" id="nz6" x="0" y="0" width="100%" height="100%" filterUnits="objectBoundingBox"><feTurbulence type="fractalNoise" baseFrequency="0.13" numOctaves="3" seed="46"/><feColorMatrix type="matrix" values="2.2 0 0 0 -0.6  2.2 0 0 0 -0.6  2.2 0 0 0 -0.6  0 0 0 0 1"/></filter><filter color-interpolation-filters="sRGB" id="cr7" x="0" y="0" width="100%" height="100%" filterUnits="objectBoundingBox"><feTurbulence type="turbulence" baseFrequency="0.032" numOctaves="3" seed="67" result="n"/><feDiffuseLighting in="n" surfaceScale="5" lighting-color="#fff" diffuseConstant="0.72"><feDistantLight azimuth="225" elevation="45"/></feDiffuseLighting></filter><filter color-interpolation-filters="sRGB" id="nz7" x="0" y="0" width="100%" height="100%" filterUnits="objectBoundingBox"><feTurbulence type="fractalNoise" baseFrequency="0.13" numOctaves="3" seed="47"/><feColorMatrix type="matrix" values="2.2 0 0 0 -0.6  2.2 0 0 0 -0.6  2.2 0 0 0 -0.6  0 0 0 0 1"/></filter><filter color-interpolation-filters="sRGB" id="cr8" x="0" y="0" width="100%" height="100%" filterUnits="objectBoundingBox"><feTurbulence type="turbulence" baseFrequency="0.032" numOctaves="3" seed="68" result="n"/><feDiffuseLighting in="n" surfaceScale="5" lighting-color="#fff" diffuseConstant="0.72"><feDistantLight azimuth="225" elevation="45"/></feDiffuseLighting></filter><filter color-interpolation-filters="sRGB" id="nz8" x="0" y="0" width="100%" height="100%" filterUnits="objectBoundingBox"><feTurbulence type="fractalNoise" baseFrequency="0.13" numOctaves="3" seed="48"/><feColorMatrix type="matrix" values="2.2 0 0 0 -0.6  2.2 0 0 0 -0.6  2.2 0 0 0 -0.6  0 0 0 0 1"/></filter><filter color-interpolation-filters="sRGB" id="cr9" x="0" y="0" width="100%" height="100%" filterUnits="objectBoundingBox"><feTurbulence type="turbulence" baseFrequency="0.032" numOctaves="3" seed="69" result="n"/><feDiffuseLighting in="n" surfaceScale="5" lighting-color="#fff" diffuseConstant="0.72"><feDistantLight azimuth="225" elevation="45"/></feDiffuseLighting></filter><filter color-interpolation-filters="sRGB" id="nz9" x="0" y="0" width="100%" height="100%" filterUnits="objectBoundingBox"><feTurbulence type="fractalNoise" baseFrequency="0.13" numOctaves="3" seed="49"/><feColorMatrix type="matrix" values="2.2 0 0 0 -0.6  2.2 0 0 0 -0.6  2.2 0 0 0 -0.6  0 0 0 0 1"/></filter><filter color-interpolation-filters="sRGB" id="cr10" x="0" y="0" width="100%" height="100%" filterUnits="objectBoundingBox"><feTurbulence type="turbulence" baseFrequency="0.032" numOctaves="3" seed="70" result="n"/><feDiffuseLighting in="n" surfaceScale="5" lighting-color="#fff" diffuseConstant="0.72"><feDistantLight azimuth="225" elevation="45"/></feDiffuseLighting></filter><filter color-interpolation-filters="sRGB" id="nz10" x="0" y="0" width="100%" height="100%" filterUnits="objectBoundingBox"><feTurbulence type="fractalNoise" baseFrequency="0.13" numOctaves="3" seed="50"/><feColorMatrix type="matrix" values="2.2 0 0 0 -0.6  2.2 0 0 0 -0.6  2.2 0 0 0 -0.6  0 0 0 0 1"/></filter><filter color-interpolation-filters="sRGB" id="cr11" x="0" y="0" width="100%" height="100%" filterUnits="objectBoundingBox"><feTurbulence type="turbulence" baseFrequency="0.032" numOctaves="3" seed="71" result="n"/><feDiffuseLighting in="n" surfaceScale="5" lighting-color="#fff" diffuseConstant="0.72"><feDistantLight azimuth="225" elevation="45"/></feDiffuseLighting></filter><filter color-interpolation-filters="sRGB" id="nz11" x="0" y="0" width="100%" height="100%" filterUnits="objectBoundingBox"><feTurbulence type="fractalNoise" baseFrequency="0.13" numOctaves="3" seed="51"/><feColorMatrix type="matrix" values="2.2 0 0 0 -0.6  2.2 0 0 0 -0.6  2.2 0 0 0 -0.6  0 0 0 0 1"/></filter><filter color-interpolation-filters="sRGB" id="cr12" x="0" y="0" width="100%" height="100%" filterUnits="objectBoundingBox"><feTurbulence type="turbulence" baseFrequency="0.032" numOctaves="3" seed="72" result="n"/><feDiffuseLighting in="n" surfaceScale="5" lighting-color="#fff" diffuseConstant="0.72"><feDistantLight azimuth="225" elevation="45"/></feDiffuseLighting></filter><filter color-interpolation-filters="sRGB" id="nz12" x="0" y="0" width="100%" height="100%" filterUnits="objectBoundingBox"><feTurbulence type="fractalNoise" baseFrequency="0.13" numOctaves="3" seed="52"/><feColorMatrix type="matrix" values="2.2 0 0 0 -0.6  2.2 0 0 0 -0.6  2.2 0 0 0 -0.6  0 0 0 0 1"/></filter><filter color-interpolation-filters="sRGB" id="cr13" x="0" y="0" width="100%" height="100%" filterUnits="objectBoundingBox"><feTurbulence type="turbulence" baseFrequency="0.032" numOctaves="3" seed="73" result="n"/><feDiffuseLighting in="n" surfaceScale="5" lighting-color="#fff" diffuseConstant="0.72"><feDistantLight azimuth="225" elevation="45"/></feDiffuseLighting></filter><filter color-interpolation-filters="sRGB" id="nz13" x="0" y="0" width="100%" height="100%" filterUnits="objectBoundingBox"><feTurbulence type="fractalNoise" baseFrequency="0.13" numOctaves="3" seed="53"/><feColorMatrix type="matrix" values="2.2 0 0 0 -0.6  2.2 0 0 0 -0.6  2.2 0 0 0 -0.6  0 0 0 0 1"/></filter><filter color-interpolation-filters="sRGB" id="cr14" x="0" y="0" width="100%" height="100%" filterUnits="objectBoundingBox"><feTurbulence type="turbulence" baseFrequency="0.032" numOctaves="3" seed="74" result="n"/><feDiffuseLighting in="n" surfaceScale="5" lighting-color="#fff" diffuseConstant="0.72"><feDistantLight azimuth="225" elevation="45"/></feDiffuseLighting></filter><filter color-interpolation-filters="sRGB" id="nz14" x="0" y="0" width="100%" height="100%" filterUnits="objectBoundingBox"><feTurbulence type="fractalNoise" baseFrequency="0.13" numOctaves="3" seed="54"/><feColorMatrix type="matrix" values="2.2 0 0 0 -0.6  2.2 0 0 0 -0.6  2.2 0 0 0 -0.6  0 0 0 0 1"/></filter><filter color-interpolation-filters="sRGB" id="cr15" x="0" y="0" width="100%" height="100%" filterUnits="objectBoundingBox"><feTurbulence type="turbulence" baseFrequency="0.032" numOctaves="3" seed="75" result="n"/><feDiffuseLighting in="n" surfaceScale="5" lighting-color="#fff" diffuseConstant="0.72"><feDistantLight azimuth="225" elevation="45"/></feDiffuseLighting></filter><filter color-interpolation-filters="sRGB" id="nz15" x="0" y="0" width="100%" height="100%" filterUnits="objectBoundingBox"><feTurbulence type="fractalNoise" baseFrequency="0.13" numOctaves="3" seed="55"/><feColorMatrix type="matrix" values="2.2 0 0 0 -0.6  2.2 0 0 0 -0.6  2.2 0 0 0 -0.6  0 0 0 0 1"/></filter><filter color-interpolation-filters="sRGB" id="cr16" x="0" y="0" width="100%" height="100%" filterUnits="objectBoundingBox"><feTurbulence type="turbulence" baseFrequency="0.032" numOctaves="3" seed="76" result="n"/><feDiffuseLighting in="n" surfaceScale="5" lighting-color="#fff" diffuseConstant="0.72"><feDistantLight azimuth="225" elevation="45"/></feDiffuseLighting></filter><filter color-interpolation-filters="sRGB" id="nz16" x="0" y="0" width="100%" height="100%" filterUnits="objectBoundingBox"><feTurbulence type="fractalNoise" baseFrequency="0.13" numOctaves="3" seed="56"/><feColorMatrix type="matrix" values="2.2 0 0 0 -0.6  2.2 0 0 0 -0.6  2.2 0 0 0 -0.6  0 0 0 0 1"/></filter><filter color-interpolation-filters="sRGB" id="cr17" x="0" y="0" width="100%" height="100%" filterUnits="objectBoundingBox"><feTurbulence type="turbulence" baseFrequency="0.032" numOctaves="3" seed="77" result="n"/><feDiffuseLighting in="n" surfaceScale="5" lighting-color="#fff" diffuseConstant="0.72"><feDistantLight azimuth="225" elevation="45"/></feDiffuseLighting></filter><filter color-interpolation-filters="sRGB" id="nz17" x="0" y="0" width="100%" height="100%" filterUnits="objectBoundingBox"><feTurbulence type="fractalNoise" baseFrequency="0.13" numOctaves="3" seed="57"/><feColorMatrix type="matrix" values="2.2 0 0 0 -0.6  2.2 0 0 0 -0.6  2.2 0 0 0 -0.6  0 0 0 0 1"/></filter><filter color-interpolation-filters="sRGB" id="cr18" x="0" y="0" width="100%" height="100%" filterUnits="objectBoundingBox"><feTurbulence type="turbulence" baseFrequency="0.032" numOctaves="3" seed="78" result="n"/><feDiffuseLighting in="n" surfaceScale="5" lighting-color="#fff" diffuseConstant="0.72"><feDistantLight azimuth="225" elevation="45"/></feDiffuseLighting></filter><filter color-interpolation-filters="sRGB" id="nz18" x="0" y="0" width="100%" height="100%" filterUnits="objectBoundingBox"><feTurbulence type="fractalNoise" baseFrequency="0.13" numOctaves="3" seed="58"/><feColorMatrix type="matrix" values="2.2 0 0 0 -0.6  2.2 0 0 0 -0.6  2.2 0 0 0 -0.6  0 0 0 0 1"/></filter><filter color-interpolation-filters="sRGB" id="cr19" x="0" y="0" width="100%" height="100%" filterUnits="objectBoundingBox"><feTurbulence type="turbulence" baseFrequency="0.032" numOctaves="3" seed="79" result="n"/><feDiffuseLighting in="n" surfaceScale="5" lighting-color="#fff" diffuseConstant="0.72"><feDistantLight azimuth="225" elevation="45"/></feDiffuseLighting></filter><filter color-interpolation-filters="sRGB" id="nz19" x="0" y="0" width="100%" height="100%" filterUnits="objectBoundingBox"><feTurbulence type="fractalNoise" baseFrequency="0.13" numOctaves="3" seed="59"/><feColorMatrix type="matrix" values="2.2 0 0 0 -0.6  2.2 0 0 0 -0.6  2.2 0 0 0 -0.6  0 0 0 0 1"/></filter><filter color-interpolation-filters="sRGB" id="cr20" x="0" y="0" width="100%" height="100%" filterUnits="objectBoundingBox"><feTurbulence type="turbulence" baseFrequency="0.032" numOctaves="3" seed="80" result="n"/><feDiffuseLighting in="n" surfaceScale="5" lighting-color="#fff" diffuseConstant="0.72"><feDistantLight azimuth="225" elevation="45"/></feDiffuseLighting></filter><filter color-interpolation-filters="sRGB" id="nz20" x="0" y="0" width="100%" height="100%" filterUnits="objectBoundingBox"><feTurbulence type="fractalNoise" baseFrequency="0.13" numOctaves="3" seed="60"/><feColorMatrix type="matrix" values="2.2 0 0 0 -0.6  2.2 0 0 0 -0.6  2.2 0 0 0 -0.6  0 0 0 0 1"/></filter><filter color-interpolation-filters="sRGB" id="cr21" x="0" y="0" width="100%" height="100%" filterUnits="objectBoundingBox"><feTurbulence type="turbulence" baseFrequency="0.032" numOctaves="3" seed="81" result="n"/><feDiffuseLighting in="n" surfaceScale="5" lighting-color="#fff" diffuseConstant="0.72"><feDistantLight azimuth="225" elevation="45"/></feDiffuseLighting></filter><filter color-interpolation-filters="sRGB" id="nz21" x="0" y="0" width="100%" height="100%" filterUnits="objectBoundingBox"><feTurbulence type="fractalNoise" baseFrequency="0.13" numOctaves="3" seed="61"/><feColorMatrix type="matrix" values="2.2 0 0 0 -0.6  2.2 0 0 0 -0.6  2.2 0 0 0 -0.6  0 0 0 0 1"/></filter><filter color-interpolation-filters="sRGB" id="cr22" x="0" y="0" width="100%" height="100%" filterUnits="objectBoundingBox"><feTurbulence type="turbulence" baseFrequency="0.032" numOctaves="3" seed="82" result="n"/><feDiffuseLighting in="n" surfaceScale="5" lighting-color="#fff" diffuseConstant="0.72"><feDistantLight azimuth="225" elevation="45"/></feDiffuseLighting></filter><filter color-interpolation-filters="sRGB" id="nz22" x="0" y="0" width="100%" height="100%" filterUnits="objectBoundingBox"><feTurbulence type="fractalNoise" baseFrequency="0.13" numOctaves="3" seed="62"/><feColorMatrix type="matrix" values="2.2 0 0 0 -0.6  2.2 0 0 0 -0.6  2.2 0 0 0 -0.6  0 0 0 0 1"/></filter><filter color-interpolation-filters="sRGB" id="cr23" x="0" y="0" width="100%" height="100%" filterUnits="objectBoundingBox"><feTurbulence type="turbulence" baseFrequency="0.032" numOctaves="3" seed="83" result="n"/><feDiffuseLighting in="n" surfaceScale="5" lighting-color="#fff" diffuseConstant="0.72"><feDistantLight azimuth="225" elevation="45"/></feDiffuseLighting></filter><filter color-interpolation-filters="sRGB" id="nz23" x="0" y="0" width="100%" height="100%" filterUnits="objectBoundingBox"><feTurbulence type="fractalNoise" baseFrequency="0.13" numOctaves="3" seed="63"/><feColorMatrix type="matrix" values="2.2 0 0 0 -0.6  2.2 0 0 0 -0.6  2.2 0 0 0 -0.6  0 0 0 0 1"/></filter><clipPath id="tc00"><rect x="119.4" y="1078.4" width="133.6" height="99.8"/></clipPath><filter color-interpolation-filters="sRGB" id="fb0_00" filterUnits="userSpaceOnUse" x="104.4" y="1063.4" width="163.6" height="129.8"><feGaussianBlur stdDeviation="1.1"/></filter><filter color-interpolation-filters="sRGB" id="fb1_00" filterUnits="userSpaceOnUse" x="104.4" y="1063.4" width="163.6" height="129.8"><feGaussianBlur stdDeviation="2.5"/></filter><filter color-interpolation-filters="sRGB" id="fb2_00" filterUnits="userSpaceOnUse" x="104.4" y="1063.4" width="163.6" height="129.8"><feGaussianBlur stdDeviation="7"/></filter><filter color-interpolation-filters="sRGB" id="tf00" filterUnits="userSpaceOnUse" x="104.4" y="1063.4" width="163.6" height="129.8"><feGaussianBlur in="SourceGraphic" stdDeviation="11" result="b"/><feTurbulence type="turbulence" baseFrequency="0.032" numOctaves="3" seed="60" result="n0"/><feTurbulence type="fractalNoise" baseFrequency="0.02" numOctaves="2" seed="90" result="w"/><feDisplacementMap in="n0" in2="w" scale="28" xChannelSelector="R" yChannelSelector="G" result="n"/><feDiffuseLighting in="n" surfaceScale="6" lighting-color="#fff" diffuseConstant="0.72" result="l"><feDistantLight azimuth="225" elevation="45"/></feDiffuseLighting><feBlend mode="overlay" in="l" in2="b" result="o1"/><feComposite in="o1" in2="b" operator="arithmetic" k1="0" k2="0.8" k3="0.200" k4="0" result="m1"/><feTurbulence type="fractalNoise" baseFrequency="0.13" numOctaves="3" seed="40" result="n2"/><feColorMatrix in="n2" type="matrix" values="2.2 0 0 0 -0.6  2.2 0 0 0 -0.6  2.2 0 0 0 -0.6  0 0 0 0 1" result="g2"/><feBlend mode="overlay" in="g2" in2="m1" result="o2"/><feComposite in="o2" in2="m1" operator="arithmetic" k1="0" k2="0.125" k3="0.875" k4="0"/></filter><clipPath id="tc01"><rect x="261.9" y="1078.4" width="133.6" height="99.8"/></clipPath><filter color-interpolation-filters="sRGB" id="fb0_01" filterUnits="userSpaceOnUse" x="246.9" y="1063.4" width="163.6" height="129.8"><feGaussianBlur stdDeviation="1.1"/></filter><filter color-interpolation-filters="sRGB" id="fb1_01" filterUnits="userSpaceOnUse" x="246.9" y="1063.4" width="163.6" height="129.8"><feGaussianBlur stdDeviation="2.5"/></filter><filter color-interpolation-filters="sRGB" id="fb2_01" filterUnits="userSpaceOnUse" x="246.9" y="1063.4" width="163.6" height="129.8"><feGaussianBlur stdDeviation="7"/></filter><filter color-interpolation-filters="sRGB" id="tf01" filterUnits="userSpaceOnUse" x="246.9" y="1063.4" width="163.6" height="129.8"><feGaussianBlur in="SourceGraphic" stdDeviation="11" result="b"/><feTurbulence type="turbulence" baseFrequency="0.032" numOctaves="3" seed="61" result="n0"/><feTurbulence type="fractalNoise" baseFrequency="0.02" numOctaves="2" seed="91" result="w"/><feDisplacementMap in="n0" in2="w" scale="28" xChannelSelector="R" yChannelSelector="G" result="n"/><feDiffuseLighting in="n" surfaceScale="6" lighting-color="#fff" diffuseConstant="0.72" result="l"><feDistantLight azimuth="225" elevation="45"/></feDiffuseLighting><feBlend mode="overlay" in="l" in2="b" result="o1"/><feComposite in="o1" in2="b" operator="arithmetic" k1="0" k2="0.95" k3="0.050" k4="0" result="m1"/><feTurbulence type="fractalNoise" baseFrequency="0.13" numOctaves="3" seed="41" result="n2"/><feColorMatrix in="n2" type="matrix" values="2.2 0 0 0 -0.6  2.2 0 0 0 -0.6  2.2 0 0 0 -0.6  0 0 0 0 1" result="g2"/><feBlend mode="overlay" in="g2" in2="m1" result="o2"/><feComposite in="o2" in2="m1" operator="arithmetic" k1="0" k2="0.075" k3="0.925" k4="0"/></filter><clipPath id="tc02"><rect x="404.4" y="1078.4" width="133.6" height="99.8"/></clipPath><filter color-interpolation-filters="sRGB" id="fb0_02" filterUnits="userSpaceOnUse" x="389.4" y="1063.4" width="163.6" height="129.8"><feGaussianBlur stdDeviation="1.1"/></filter><filter color-interpolation-filters="sRGB" id="fb1_02" filterUnits="userSpaceOnUse" x="389.4" y="1063.4" width="163.6" height="129.8"><feGaussianBlur stdDeviation="2.5"/></filter><filter color-interpolation-filters="sRGB" id="fb2_02" filterUnits="userSpaceOnUse" x="389.4" y="1063.4" width="163.6" height="129.8"><feGaussianBlur stdDeviation="7"/></filter><filter color-interpolation-filters="sRGB" id="tf02" filterUnits="userSpaceOnUse" x="389.4" y="1063.4" width="163.6" height="129.8"><feGaussianBlur in="SourceGraphic" stdDeviation="11" result="b"/><feTurbulence type="turbulence" baseFrequency="0.032" numOctaves="3" seed="62" result="n0"/><feTurbulence type="fractalNoise" baseFrequency="0.02" numOctaves="2" seed="92" result="w"/><feDisplacementMap in="n0" in2="w" scale="28" xChannelSelector="R" yChannelSelector="G" result="n"/><feDiffuseLighting in="n" surfaceScale="6" lighting-color="#fff" diffuseConstant="0.72" result="l"><feDistantLight azimuth="225" elevation="45"/></feDiffuseLighting><feBlend mode="overlay" in="l" in2="b" result="o1"/><feComposite in="o1" in2="b" operator="arithmetic" k1="0" k2="0.9" k3="0.100" k4="0" result="m1"/><feTurbulence type="fractalNoise" baseFrequency="0.13" numOctaves="3" seed="42" result="n2"/><feColorMatrix in="n2" type="matrix" values="2.2 0 0 0 -0.6  2.2 0 0 0 -0.6  2.2 0 0 0 -0.6  0 0 0 0 1" result="g2"/><feBlend mode="overlay" in="g2" in2="m1" result="o2"/><feComposite in="o2" in2="m1" operator="arithmetic" k1="0" k2="0.075" k3="0.925" k4="0"/></filter><clipPath id="tc10"><rect x="119.4" y="1187.0" width="133.6" height="99.8"/></clipPath><filter color-interpolation-filters="sRGB" id="fb0_10" filterUnits="userSpaceOnUse" x="104.4" y="1172.0" width="163.6" height="129.8"><feGaussianBlur stdDeviation="1.1"/></filter><filter color-interpolation-filters="sRGB" id="fb1_10" filterUnits="userSpaceOnUse" x="104.4" y="1172.0" width="163.6" height="129.8"><feGaussianBlur stdDeviation="2.5"/></filter><filter color-interpolation-filters="sRGB" id="fb2_10" filterUnits="userSpaceOnUse" x="104.4" y="1172.0" width="163.6" height="129.8"><feGaussianBlur stdDeviation="7"/></filter><filter color-interpolation-filters="sRGB" id="tf10" filterUnits="userSpaceOnUse" x="104.4" y="1172.0" width="163.6" height="129.8"><feGaussianBlur in="SourceGraphic" stdDeviation="11" result="b"/><feTurbulence type="turbulence" baseFrequency="0.032" numOctaves="3" seed="66" result="n0"/><feTurbulence type="fractalNoise" baseFrequency="0.02" numOctaves="2" seed="96" result="w"/><feDisplacementMap in="n0" in2="w" scale="28" xChannelSelector="R" yChannelSelector="G" result="n"/><feDiffuseLighting in="n" surfaceScale="6" lighting-color="#fff" diffuseConstant="0.72" result="l"><feDistantLight azimuth="225" elevation="45"/></feDiffuseLighting><feBlend mode="overlay" in="l" in2="b" result="o1"/><feComposite in="o1" in2="b" operator="arithmetic" k1="0" k2="0.7" k3="0.300" k4="0" result="m1"/><feTurbulence type="fractalNoise" baseFrequency="0.13" numOctaves="3" seed="46" result="n2"/><feColorMatrix in="n2" type="matrix" values="2.2 0 0 0 -0.6  2.2 0 0 0 -0.6  2.2 0 0 0 -0.6  0 0 0 0 1" result="g2"/><feBlend mode="overlay" in="g2" in2="m1" result="o2"/><feComposite in="o2" in2="m1" operator="arithmetic" k1="0" k2="0.125" k3="0.875" k4="0"/></filter><clipPath id="tc11"><rect x="261.9" y="1187.0" width="133.6" height="99.8"/></clipPath><filter color-interpolation-filters="sRGB" id="fb0_11" filterUnits="userSpaceOnUse" x="246.9" y="1172.0" width="163.6" height="129.8"><feGaussianBlur stdDeviation="1.1"/></filter><filter color-interpolation-filters="sRGB" id="fb1_11" filterUnits="userSpaceOnUse" x="246.9" y="1172.0" width="163.6" height="129.8"><feGaussianBlur stdDeviation="2.5"/></filter><filter color-interpolation-filters="sRGB" id="fb2_11" filterUnits="userSpaceOnUse" x="246.9" y="1172.0" width="163.6" height="129.8"><feGaussianBlur stdDeviation="7"/></filter><filter color-interpolation-filters="sRGB" id="tf11" filterUnits="userSpaceOnUse" x="246.9" y="1172.0" width="163.6" height="129.8"><feGaussianBlur in="SourceGraphic" stdDeviation="11" result="b"/><feTurbulence type="turbulence" baseFrequency="0.032" numOctaves="3" seed="67" result="n0"/><feTurbulence type="fractalNoise" baseFrequency="0.02" numOctaves="2" seed="97" result="w"/><feDisplacementMap in="n0" in2="w" scale="28" xChannelSelector="R" yChannelSelector="G" result="n"/><feDiffuseLighting in="n" surfaceScale="6" lighting-color="#fff" diffuseConstant="0.72" result="l"><feDistantLight azimuth="225" elevation="45"/></feDiffuseLighting><feBlend mode="overlay" in="l" in2="b" result="o1"/><feComposite in="o1" in2="b" operator="arithmetic" k1="0" k2="1.0" k3="0.000" k4="0" result="m1"/><feTurbulence type="fractalNoise" baseFrequency="0.13" numOctaves="3" seed="47" result="n2"/><feColorMatrix in="n2" type="matrix" values="2.2 0 0 0 -0.6  2.2 0 0 0 -0.6  2.2 0 0 0 -0.6  0 0 0 0 1" result="g2"/><feBlend mode="overlay" in="g2" in2="m1" result="o2"/><feComposite in="o2" in2="m1" operator="arithmetic" k1="0" k2="0.250" k3="0.750" k4="0"/></filter><clipPath id="tc12"><rect x="404.4" y="1187.0" width="133.6" height="99.8"/></clipPath><filter color-interpolation-filters="sRGB" id="fb0_12" filterUnits="userSpaceOnUse" x="389.4" y="1172.0" width="163.6" height="129.8"><feGaussianBlur stdDeviation="1.1"/></filter><filter color-interpolation-filters="sRGB" id="fb1_12" filterUnits="userSpaceOnUse" x="389.4" y="1172.0" width="163.6" height="129.8"><feGaussianBlur stdDeviation="2.5"/></filter><filter color-interpolation-filters="sRGB" id="fb2_12" filterUnits="userSpaceOnUse" x="389.4" y="1172.0" width="163.6" height="129.8"><feGaussianBlur stdDeviation="7"/></filter><filter color-interpolation-filters="sRGB" id="tf12" filterUnits="userSpaceOnUse" x="389.4" y="1172.0" width="163.6" height="129.8"><feGaussianBlur in="SourceGraphic" stdDeviation="11" result="b"/><feTurbulence type="turbulence" baseFrequency="0.032" numOctaves="3" seed="68" result="n0"/><feTurbulence type="fractalNoise" baseFrequency="0.02" numOctaves="2" seed="98" result="w"/><feDisplacementMap in="n0" in2="w" scale="28" xChannelSelector="R" yChannelSelector="G" result="n"/><feDiffuseLighting in="n" surfaceScale="6" lighting-color="#fff" diffuseConstant="0.72" result="l"><feDistantLight azimuth="225" elevation="45"/></feDiffuseLighting><feBlend mode="overlay" in="l" in2="b" result="o1"/><feComposite in="o1" in2="b" operator="arithmetic" k1="0" k2="1.0" k3="0.000" k4="0" result="m1"/><feTurbulence type="fractalNoise" baseFrequency="0.13" numOctaves="3" seed="48" result="n2"/><feColorMatrix in="n2" type="matrix" values="2.2 0 0 0 -0.6  2.2 0 0 0 -0.6  2.2 0 0 0 -0.6  0 0 0 0 1" result="g2"/><feBlend mode="overlay" in="g2" in2="m1" result="o2"/><feComposite in="o2" in2="m1" operator="arithmetic" k1="0" k2="0.250" k3="0.750" k4="0"/></filter><clipPath id="tc13"><rect x="546.9" y="1187.0" width="133.6" height="99.8"/></clipPath><filter color-interpolation-filters="sRGB" id="fb0_13" filterUnits="userSpaceOnUse" x="531.9" y="1172.0" width="163.6" height="129.8"><feGaussianBlur stdDeviation="1.1"/></filter><filter color-interpolation-filters="sRGB" id="fb1_13" filterUnits="userSpaceOnUse" x="531.9" y="1172.0" width="163.6" height="129.8"><feGaussianBlur stdDeviation="2.5"/></filter><filter color-interpolation-filters="sRGB" id="fb2_13" filterUnits="userSpaceOnUse" x="531.9" y="1172.0" width="163.6" height="129.8"><feGaussianBlur stdDeviation="7"/></filter><filter color-interpolation-filters="sRGB" id="tf13" filterUnits="userSpaceOnUse" x="531.9" y="1172.0" width="163.6" height="129.8"><feGaussianBlur in="SourceGraphic" stdDeviation="11" result="b"/><feTurbulence type="turbulence" baseFrequency="0.032" numOctaves="3" seed="69" result="n0"/><feTurbulence type="fractalNoise" baseFrequency="0.02" numOctaves="2" seed="99" result="w"/><feDisplacementMap in="n0" in2="w" scale="28" xChannelSelector="R" yChannelSelector="G" result="n"/><feDiffuseLighting in="n" surfaceScale="6" lighting-color="#fff" diffuseConstant="0.72" result="l"><feDistantLight azimuth="225" elevation="45"/></feDiffuseLighting><feBlend mode="overlay" in="l" in2="b" result="o1"/><feComposite in="o1" in2="b" operator="arithmetic" k1="0" k2="0.8" k3="0.200" k4="0" result="m1"/><feTurbulence type="fractalNoise" baseFrequency="0.13" numOctaves="3" seed="49" result="n2"/><feColorMatrix in="n2" type="matrix" values="2.2 0 0 0 -0.6  2.2 0 0 0 -0.6  2.2 0 0 0 -0.6  0 0 0 0 1" result="g2"/><feBlend mode="overlay" in="g2" in2="m1" result="o2"/><feComposite in="o2" in2="m1" operator="arithmetic" k1="0" k2="0.250" k3="0.750" k4="0"/></filter><clipPath id="tc14"><rect x="689.4" y="1187.0" width="133.6" height="99.8"/></clipPath><filter color-interpolation-filters="sRGB" id="fb0_14" filterUnits="userSpaceOnUse" x="674.4" y="1172.0" width="163.6" height="129.8"><feGaussianBlur stdDeviation="1.1"/></filter><filter color-interpolation-filters="sRGB" id="fb1_14" filterUnits="userSpaceOnUse" x="674.4" y="1172.0" width="163.6" height="129.8"><feGaussianBlur stdDeviation="2.5"/></filter><filter color-interpolation-filters="sRGB" id="fb2_14" filterUnits="userSpaceOnUse" x="674.4" y="1172.0" width="163.6" height="129.8"><feGaussianBlur stdDeviation="7"/></filter><filter color-interpolation-filters="sRGB" id="tf14" filterUnits="userSpaceOnUse" x="674.4" y="1172.0" width="163.6" height="129.8"><feGaussianBlur in="SourceGraphic" stdDeviation="11" result="b"/><feTurbulence type="turbulence" baseFrequency="0.032" numOctaves="3" seed="70" result="n0"/><feTurbulence type="fractalNoise" baseFrequency="0.02" numOctaves="2" seed="100" result="w"/><feDisplacementMap in="n0" in2="w" scale="28" xChannelSelector="R" yChannelSelector="G" result="n"/><feDiffuseLighting in="n" surfaceScale="6" lighting-color="#fff" diffuseConstant="0.72" result="l"><feDistantLight azimuth="225" elevation="45"/></feDiffuseLighting><feBlend mode="overlay" in="l" in2="b" result="o1"/><feComposite in="o1" in2="b" operator="arithmetic" k1="0" k2="1.0" k3="0.000" k4="0" result="m1"/><feTurbulence type="fractalNoise" baseFrequency="0.13" numOctaves="3" seed="50" result="n2"/><feColorMatrix in="n2" type="matrix" values="2.2 0 0 0 -0.6  2.2 0 0 0 -0.6  2.2 0 0 0 -0.6  0 0 0 0 1" result="g2"/><feBlend mode="overlay" in="g2" in2="m1" result="o2"/><feComposite in="o2" in2="m1" operator="arithmetic" k1="0" k2="0.250" k3="0.750" k4="0"/></filter><clipPath id="tc15"><rect x="831.9" y="1187.0" width="133.6" height="99.8"/></clipPath><filter color-interpolation-filters="sRGB" id="fb0_15" filterUnits="userSpaceOnUse" x="816.9" y="1172.0" width="163.6" height="129.8"><feGaussianBlur stdDeviation="1.1"/></filter><filter color-interpolation-filters="sRGB" id="fb1_15" filterUnits="userSpaceOnUse" x="816.9" y="1172.0" width="163.6" height="129.8"><feGaussianBlur stdDeviation="2.5"/></filter><filter color-interpolation-filters="sRGB" id="fb2_15" filterUnits="userSpaceOnUse" x="816.9" y="1172.0" width="163.6" height="129.8"><feGaussianBlur stdDeviation="7"/></filter><filter color-interpolation-filters="sRGB" id="tf15" filterUnits="userSpaceOnUse" x="816.9" y="1172.0" width="163.6" height="129.8"><feGaussianBlur in="SourceGraphic" stdDeviation="11" result="b"/><feTurbulence type="turbulence" baseFrequency="0.032" numOctaves="3" seed="71" result="n0"/><feTurbulence type="fractalNoise" baseFrequency="0.02" numOctaves="2" seed="101" result="w"/><feDisplacementMap in="n0" in2="w" scale="28" xChannelSelector="R" yChannelSelector="G" result="n"/><feDiffuseLighting in="n" surfaceScale="6" lighting-color="#fff" diffuseConstant="0.72" result="l"><feDistantLight azimuth="225" elevation="45"/></feDiffuseLighting><feBlend mode="overlay" in="l" in2="b" result="o1"/><feComposite in="o1" in2="b" operator="arithmetic" k1="0" k2="1.0" k3="0.000" k4="0" result="m1"/><feTurbulence type="fractalNoise" baseFrequency="0.13" numOctaves="3" seed="51" result="n2"/><feColorMatrix in="n2" type="matrix" values="2.2 0 0 0 -0.6  2.2 0 0 0 -0.6  2.2 0 0 0 -0.6  0 0 0 0 1" result="g2"/><feBlend mode="overlay" in="g2" in2="m1" result="o2"/><feComposite in="o2" in2="m1" operator="arithmetic" k1="0" k2="0.225" k3="0.775" k4="0"/></filter><clipPath id="tc20"><rect x="119.4" y="1295.6" width="133.6" height="99.8"/></clipPath><filter color-interpolation-filters="sRGB" id="fb0_20" filterUnits="userSpaceOnUse" x="104.4" y="1280.6" width="163.6" height="129.8"><feGaussianBlur stdDeviation="1.1"/></filter><filter color-interpolation-filters="sRGB" id="fb1_20" filterUnits="userSpaceOnUse" x="104.4" y="1280.6" width="163.6" height="129.8"><feGaussianBlur stdDeviation="2.5"/></filter><filter color-interpolation-filters="sRGB" id="fb2_20" filterUnits="userSpaceOnUse" x="104.4" y="1280.6" width="163.6" height="129.8"><feGaussianBlur stdDeviation="7"/></filter><filter color-interpolation-filters="sRGB" id="tf20" filterUnits="userSpaceOnUse" x="104.4" y="1280.6" width="163.6" height="129.8"><feGaussianBlur in="SourceGraphic" stdDeviation="11" result="b"/><feTurbulence type="turbulence" baseFrequency="0.032" numOctaves="3" seed="72" result="n0"/><feTurbulence type="fractalNoise" baseFrequency="0.02" numOctaves="2" seed="102" result="w"/><feDisplacementMap in="n0" in2="w" scale="28" xChannelSelector="R" yChannelSelector="G" result="n"/><feDiffuseLighting in="n" surfaceScale="6" lighting-color="#fff" diffuseConstant="0.72" result="l"><feDistantLight azimuth="225" elevation="45"/></feDiffuseLighting><feBlend mode="overlay" in="l" in2="b" result="o1"/><feComposite in="o1" in2="b" operator="arithmetic" k1="0" k2="0.6" k3="0.400" k4="0" result="m1"/><feTurbulence type="fractalNoise" baseFrequency="0.13" numOctaves="3" seed="52" result="n2"/><feColorMatrix in="n2" type="matrix" values="2.2 0 0 0 -0.6  2.2 0 0 0 -0.6  2.2 0 0 0 -0.6  0 0 0 0 1" result="g2"/><feBlend mode="overlay" in="g2" in2="m1" result="o2"/><feComposite in="o2" in2="m1" operator="arithmetic" k1="0" k2="0.200" k3="0.800" k4="0"/></filter><clipPath id="tc21"><rect x="261.9" y="1295.6" width="133.6" height="99.8"/></clipPath><filter color-interpolation-filters="sRGB" id="fb0_21" filterUnits="userSpaceOnUse" x="246.9" y="1280.6" width="163.6" height="129.8"><feGaussianBlur stdDeviation="1.1"/></filter><filter color-interpolation-filters="sRGB" id="fb1_21" filterUnits="userSpaceOnUse" x="246.9" y="1280.6" width="163.6" height="129.8"><feGaussianBlur stdDeviation="2.5"/></filter><filter color-interpolation-filters="sRGB" id="fb2_21" filterUnits="userSpaceOnUse" x="246.9" y="1280.6" width="163.6" height="129.8"><feGaussianBlur stdDeviation="7"/></filter><filter color-interpolation-filters="sRGB" id="tf21" filterUnits="userSpaceOnUse" x="246.9" y="1280.6" width="163.6" height="129.8"><feGaussianBlur in="SourceGraphic" stdDeviation="11" result="b"/><feTurbulence type="turbulence" baseFrequency="0.032" numOctaves="3" seed="73" result="n0"/><feTurbulence type="fractalNoise" baseFrequency="0.02" numOctaves="2" seed="103" result="w"/><feDisplacementMap in="n0" in2="w" scale="28" xChannelSelector="R" yChannelSelector="G" result="n"/><feDiffuseLighting in="n" surfaceScale="6" lighting-color="#fff" diffuseConstant="0.72" result="l"><feDistantLight azimuth="225" elevation="45"/></feDiffuseLighting><feBlend mode="overlay" in="l" in2="b" result="o1"/><feComposite in="o1" in2="b" operator="arithmetic" k1="0" k2="0.8" k3="0.200" k4="0" result="m1"/><feTurbulence type="fractalNoise" baseFrequency="0.13" numOctaves="3" seed="53" result="n2"/><feColorMatrix in="n2" type="matrix" values="2.2 0 0 0 -0.6  2.2 0 0 0 -0.6  2.2 0 0 0 -0.6  0 0 0 0 1" result="g2"/><feBlend mode="overlay" in="g2" in2="m1" result="o2"/><feComposite in="o2" in2="m1" operator="arithmetic" k1="0" k2="0.150" k3="0.850" k4="0"/></filter><clipPath id="tc22"><rect x="404.4" y="1295.6" width="133.6" height="99.8"/></clipPath><filter color-interpolation-filters="sRGB" id="fb0_22" filterUnits="userSpaceOnUse" x="389.4" y="1280.6" width="163.6" height="129.8"><feGaussianBlur stdDeviation="1.1"/></filter><filter color-interpolation-filters="sRGB" id="fb1_22" filterUnits="userSpaceOnUse" x="389.4" y="1280.6" width="163.6" height="129.8"><feGaussianBlur stdDeviation="2.5"/></filter><filter color-interpolation-filters="sRGB" id="fb2_22" filterUnits="userSpaceOnUse" x="389.4" y="1280.6" width="163.6" height="129.8"><feGaussianBlur stdDeviation="7"/></filter><filter color-interpolation-filters="sRGB" id="tf22" filterUnits="userSpaceOnUse" x="389.4" y="1280.6" width="163.6" height="129.8"><feGaussianBlur in="SourceGraphic" stdDeviation="11" result="b"/><feTurbulence type="turbulence" baseFrequency="0.032" numOctaves="3" seed="74" result="n0"/><feTurbulence type="fractalNoise" baseFrequency="0.02" numOctaves="2" seed="104" result="w"/><feDisplacementMap in="n0" in2="w" scale="28" xChannelSelector="R" yChannelSelector="G" result="n"/><feDiffuseLighting in="n" surfaceScale="6" lighting-color="#fff" diffuseConstant="0.72" result="l"><feDistantLight azimuth="225" elevation="45"/></feDiffuseLighting><feBlend mode="overlay" in="l" in2="b" result="o1"/><feComposite in="o1" in2="b" operator="arithmetic" k1="0" k2="0.6" k3="0.400" k4="0" result="m1"/><feTurbulence type="fractalNoise" baseFrequency="0.13" numOctaves="3" seed="54" result="n2"/><feColorMatrix in="n2" type="matrix" values="2.2 0 0 0 -0.6  2.2 0 0 0 -0.6  2.2 0 0 0 -0.6  0 0 0 0 1" result="g2"/><feBlend mode="overlay" in="g2" in2="m1" result="o2"/><feComposite in="o2" in2="m1" operator="arithmetic" k1="0" k2="0.060" k3="0.940" k4="0"/></filter><clipPath id="tc23"><rect x="546.9" y="1295.6" width="133.6" height="99.8"/></clipPath><filter color-interpolation-filters="sRGB" id="fb0_23" filterUnits="userSpaceOnUse" x="531.9" y="1280.6" width="163.6" height="129.8"><feGaussianBlur stdDeviation="1.1"/></filter><filter color-interpolation-filters="sRGB" id="fb1_23" filterUnits="userSpaceOnUse" x="531.9" y="1280.6" width="163.6" height="129.8"><feGaussianBlur stdDeviation="2.5"/></filter><filter color-interpolation-filters="sRGB" id="fb2_23" filterUnits="userSpaceOnUse" x="531.9" y="1280.6" width="163.6" height="129.8"><feGaussianBlur stdDeviation="7"/></filter><filter color-interpolation-filters="sRGB" id="tf23" filterUnits="userSpaceOnUse" x="531.9" y="1280.6" width="163.6" height="129.8"><feGaussianBlur in="SourceGraphic" stdDeviation="11" result="b"/><feTurbulence type="turbulence" baseFrequency="0.032" numOctaves="3" seed="75" result="n0"/><feTurbulence type="fractalNoise" baseFrequency="0.02" numOctaves="2" seed="105" result="w"/><feDisplacementMap in="n0" in2="w" scale="28" xChannelSelector="R" yChannelSelector="G" result="n"/><feDiffuseLighting in="n" surfaceScale="6" lighting-color="#fff" diffuseConstant="0.72" result="l"><feDistantLight azimuth="225" elevation="45"/></feDiffuseLighting><feBlend mode="overlay" in="l" in2="b" result="o1"/><feComposite in="o1" in2="b" operator="arithmetic" k1="0" k2="0.6" k3="0.400" k4="0" result="m1"/><feTurbulence type="fractalNoise" baseFrequency="0.13" numOctaves="3" seed="55" result="n2"/><feColorMatrix in="n2" type="matrix" values="2.2 0 0 0 -0.6  2.2 0 0 0 -0.6  2.2 0 0 0 -0.6  0 0 0 0 1" result="g2"/><feBlend mode="overlay" in="g2" in2="m1" result="o2"/><feComposite in="o2" in2="m1" operator="arithmetic" k1="0" k2="0.060" k3="0.940" k4="0"/></filter><clipPath id="tc24"><rect x="689.4" y="1295.6" width="133.6" height="99.8"/></clipPath><filter color-interpolation-filters="sRGB" id="fb0_24" filterUnits="userSpaceOnUse" x="674.4" y="1280.6" width="163.6" height="129.8"><feGaussianBlur stdDeviation="1.1"/></filter><filter color-interpolation-filters="sRGB" id="fb1_24" filterUnits="userSpaceOnUse" x="674.4" y="1280.6" width="163.6" height="129.8"><feGaussianBlur stdDeviation="2.5"/></filter><filter color-interpolation-filters="sRGB" id="fb2_24" filterUnits="userSpaceOnUse" x="674.4" y="1280.6" width="163.6" height="129.8"><feGaussianBlur stdDeviation="7"/></filter><filter color-interpolation-filters="sRGB" id="tf24" filterUnits="userSpaceOnUse" x="674.4" y="1280.6" width="163.6" height="129.8"><feGaussianBlur in="SourceGraphic" stdDeviation="11" result="b"/><feTurbulence type="turbulence" baseFrequency="0.032" numOctaves="3" seed="76" result="n0"/><feTurbulence type="fractalNoise" baseFrequency="0.02" numOctaves="2" seed="106" result="w"/><feDisplacementMap in="n0" in2="w" scale="28" xChannelSelector="R" yChannelSelector="G" result="n"/><feDiffuseLighting in="n" surfaceScale="6" lighting-color="#fff" diffuseConstant="0.72" result="l"><feDistantLight azimuth="225" elevation="45"/></feDiffuseLighting><feBlend mode="overlay" in="l" in2="b" result="o1"/><feComposite in="o1" in2="b" operator="arithmetic" k1="0" k2="0.9" k3="0.100" k4="0" result="m1"/><feTurbulence type="fractalNoise" baseFrequency="0.13" numOctaves="3" seed="56" result="n2"/><feColorMatrix in="n2" type="matrix" values="2.2 0 0 0 -0.6  2.2 0 0 0 -0.6  2.2 0 0 0 -0.6  0 0 0 0 1" result="g2"/><feBlend mode="overlay" in="g2" in2="m1" result="o2"/><feComposite in="o2" in2="m1" operator="arithmetic" k1="0" k2="0.150" k3="0.850" k4="0"/></filter><clipPath id="tc25"><rect x="831.9" y="1295.6" width="133.6" height="99.8"/></clipPath><filter color-interpolation-filters="sRGB" id="fb0_25" filterUnits="userSpaceOnUse" x="816.9" y="1280.6" width="163.6" height="129.8"><feGaussianBlur stdDeviation="1.1"/></filter><filter color-interpolation-filters="sRGB" id="fb1_25" filterUnits="userSpaceOnUse" x="816.9" y="1280.6" width="163.6" height="129.8"><feGaussianBlur stdDeviation="2.5"/></filter><filter color-interpolation-filters="sRGB" id="fb2_25" filterUnits="userSpaceOnUse" x="816.9" y="1280.6" width="163.6" height="129.8"><feGaussianBlur stdDeviation="7"/></filter><filter color-interpolation-filters="sRGB" id="tf25" filterUnits="userSpaceOnUse" x="816.9" y="1280.6" width="163.6" height="129.8"><feGaussianBlur in="SourceGraphic" stdDeviation="11" result="b"/><feTurbulence type="turbulence" baseFrequency="0.032" numOctaves="3" seed="77" result="n0"/><feTurbulence type="fractalNoise" baseFrequency="0.02" numOctaves="2" seed="107" result="w"/><feDisplacementMap in="n0" in2="w" scale="28" xChannelSelector="R" yChannelSelector="G" result="n"/><feDiffuseLighting in="n" surfaceScale="6" lighting-color="#fff" diffuseConstant="0.72" result="l"><feDistantLight azimuth="225" elevation="45"/></feDiffuseLighting><feBlend mode="overlay" in="l" in2="b" result="o1"/><feComposite in="o1" in2="b" operator="arithmetic" k1="0" k2="1.0" k3="0.000" k4="0" result="m1"/><feTurbulence type="fractalNoise" baseFrequency="0.13" numOctaves="3" seed="57" result="n2"/><feColorMatrix in="n2" type="matrix" values="2.2 0 0 0 -0.6  2.2 0 0 0 -0.6  2.2 0 0 0 -0.6  0 0 0 0 1" result="g2"/><feBlend mode="overlay" in="g2" in2="m1" result="o2"/><feComposite in="o2" in2="m1" operator="arithmetic" k1="0" k2="0.225" k3="0.775" k4="0"/></filter><clipPath id="tc30"><rect x="119.4" y="1404.2" width="133.6" height="99.8"/></clipPath><filter color-interpolation-filters="sRGB" id="fb0_30" filterUnits="userSpaceOnUse" x="104.4" y="1389.2" width="163.6" height="129.8"><feGaussianBlur stdDeviation="1.1"/></filter><filter color-interpolation-filters="sRGB" id="fb1_30" filterUnits="userSpaceOnUse" x="104.4" y="1389.2" width="163.6" height="129.8"><feGaussianBlur stdDeviation="2.5"/></filter><filter color-interpolation-filters="sRGB" id="fb2_30" filterUnits="userSpaceOnUse" x="104.4" y="1389.2" width="163.6" height="129.8"><feGaussianBlur stdDeviation="7"/></filter><filter color-interpolation-filters="sRGB" id="tf30" filterUnits="userSpaceOnUse" x="104.4" y="1389.2" width="163.6" height="129.8"><feGaussianBlur in="SourceGraphic" stdDeviation="11" result="b"/><feTurbulence type="turbulence" baseFrequency="0.032" numOctaves="3" seed="78" result="n0"/><feTurbulence type="fractalNoise" baseFrequency="0.02" numOctaves="2" seed="108" result="w"/><feDisplacementMap in="n0" in2="w" scale="28" xChannelSelector="R" yChannelSelector="G" result="n"/><feDiffuseLighting in="n" surfaceScale="6" lighting-color="#fff" diffuseConstant="0.72" result="l"><feDistantLight azimuth="225" elevation="45"/></feDiffuseLighting><feBlend mode="overlay" in="l" in2="b" result="o1"/><feComposite in="o1" in2="b" operator="arithmetic" k1="0" k2="0.7" k3="0.300" k4="0" result="m1"/><feTurbulence type="fractalNoise" baseFrequency="0.13" numOctaves="3" seed="58" result="n2"/><feColorMatrix in="n2" type="matrix" values="2.2 0 0 0 -0.6  2.2 0 0 0 -0.6  2.2 0 0 0 -0.6  0 0 0 0 1" result="g2"/><feBlend mode="overlay" in="g2" in2="m1" result="o2"/><feComposite in="o2" in2="m1" operator="arithmetic" k1="0" k2="0.100" k3="0.900" k4="0"/></filter><clipPath id="tc31"><rect x="261.9" y="1404.2" width="133.6" height="99.8"/></clipPath><filter color-interpolation-filters="sRGB" id="fb0_31" filterUnits="userSpaceOnUse" x="246.9" y="1389.2" width="163.6" height="129.8"><feGaussianBlur stdDeviation="1.1"/></filter><filter color-interpolation-filters="sRGB" id="fb1_31" filterUnits="userSpaceOnUse" x="246.9" y="1389.2" width="163.6" height="129.8"><feGaussianBlur stdDeviation="2.5"/></filter><filter color-interpolation-filters="sRGB" id="fb2_31" filterUnits="userSpaceOnUse" x="246.9" y="1389.2" width="163.6" height="129.8"><feGaussianBlur stdDeviation="7"/></filter><filter color-interpolation-filters="sRGB" id="tf31" filterUnits="userSpaceOnUse" x="246.9" y="1389.2" width="163.6" height="129.8"><feGaussianBlur in="SourceGraphic" stdDeviation="11" result="b"/><feTurbulence type="turbulence" baseFrequency="0.032" numOctaves="3" seed="79" result="n0"/><feTurbulence type="fractalNoise" baseFrequency="0.02" numOctaves="2" seed="109" result="w"/><feDisplacementMap in="n0" in2="w" scale="28" xChannelSelector="R" yChannelSelector="G" result="n"/><feDiffuseLighting in="n" surfaceScale="6" lighting-color="#fff" diffuseConstant="0.72" result="l"><feDistantLight azimuth="225" elevation="45"/></feDiffuseLighting><feBlend mode="overlay" in="l" in2="b" result="o1"/><feComposite in="o1" in2="b" operator="arithmetic" k1="0" k2="0.9" k3="0.100" k4="0" result="m1"/><feTurbulence type="fractalNoise" baseFrequency="0.13" numOctaves="3" seed="59" result="n2"/><feColorMatrix in="n2" type="matrix" values="2.2 0 0 0 -0.6  2.2 0 0 0 -0.6  2.2 0 0 0 -0.6  0 0 0 0 1" result="g2"/><feBlend mode="overlay" in="g2" in2="m1" result="o2"/><feComposite in="o2" in2="m1" operator="arithmetic" k1="0" k2="0.100" k3="0.900" k4="0"/></filter><clipPath id="tc32"><rect x="404.4" y="1404.2" width="133.6" height="99.8"/></clipPath><filter color-interpolation-filters="sRGB" id="fb0_32" filterUnits="userSpaceOnUse" x="389.4" y="1389.2" width="163.6" height="129.8"><feGaussianBlur stdDeviation="1.1"/></filter><filter color-interpolation-filters="sRGB" id="fb1_32" filterUnits="userSpaceOnUse" x="389.4" y="1389.2" width="163.6" height="129.8"><feGaussianBlur stdDeviation="2.5"/></filter><filter color-interpolation-filters="sRGB" id="fb2_32" filterUnits="userSpaceOnUse" x="389.4" y="1389.2" width="163.6" height="129.8"><feGaussianBlur stdDeviation="7"/></filter><filter color-interpolation-filters="sRGB" id="tf32" filterUnits="userSpaceOnUse" x="389.4" y="1389.2" width="163.6" height="129.8"><feGaussianBlur in="SourceGraphic" stdDeviation="11" result="b"/><feTurbulence type="turbulence" baseFrequency="0.032" numOctaves="3" seed="80" result="n0"/><feTurbulence type="fractalNoise" baseFrequency="0.02" numOctaves="2" seed="110" result="w"/><feDisplacementMap in="n0" in2="w" scale="28" xChannelSelector="R" yChannelSelector="G" result="n"/><feDiffuseLighting in="n" surfaceScale="6" lighting-color="#fff" diffuseConstant="0.72" result="l"><feDistantLight azimuth="225" elevation="45"/></feDiffuseLighting><feBlend mode="overlay" in="l" in2="b" result="o1"/><feComposite in="o1" in2="b" operator="arithmetic" k1="0" k2="1.0" k3="0.000" k4="0" result="m1"/><feTurbulence type="fractalNoise" baseFrequency="0.13" numOctaves="3" seed="60" result="n2"/><feColorMatrix in="n2" type="matrix" values="2.2 0 0 0 -0.6  2.2 0 0 0 -0.6  2.2 0 0 0 -0.6  0 0 0 0 1" result="g2"/><feBlend mode="overlay" in="g2" in2="m1" result="o2"/><feComposite in="o2" in2="m1" operator="arithmetic" k1="0" k2="0.075" k3="0.925" k4="0"/></filter><clipPath id="tc33"><rect x="546.9" y="1404.2" width="133.6" height="99.8"/></clipPath><filter color-interpolation-filters="sRGB" id="fb0_33" filterUnits="userSpaceOnUse" x="531.9" y="1389.2" width="163.6" height="129.8"><feGaussianBlur stdDeviation="1.1"/></filter><filter color-interpolation-filters="sRGB" id="fb1_33" filterUnits="userSpaceOnUse" x="531.9" y="1389.2" width="163.6" height="129.8"><feGaussianBlur stdDeviation="2.5"/></filter><filter color-interpolation-filters="sRGB" id="fb2_33" filterUnits="userSpaceOnUse" x="531.9" y="1389.2" width="163.6" height="129.8"><feGaussianBlur stdDeviation="7"/></filter><filter color-interpolation-filters="sRGB" id="tf33" filterUnits="userSpaceOnUse" x="531.9" y="1389.2" width="163.6" height="129.8"><feGaussianBlur in="SourceGraphic" stdDeviation="11" result="b"/><feTurbulence type="turbulence" baseFrequency="0.032" numOctaves="3" seed="81" result="n0"/><feTurbulence type="fractalNoise" baseFrequency="0.02" numOctaves="2" seed="111" result="w"/><feDisplacementMap in="n0" in2="w" scale="28" xChannelSelector="R" yChannelSelector="G" result="n"/><feDiffuseLighting in="n" surfaceScale="6" lighting-color="#fff" diffuseConstant="0.72" result="l"><feDistantLight azimuth="225" elevation="45"/></feDiffuseLighting><feBlend mode="overlay" in="l" in2="b" result="o1"/><feComposite in="o1" in2="b" operator="arithmetic" k1="0" k2="0.8" k3="0.200" k4="0" result="m1"/><feTurbulence type="fractalNoise" baseFrequency="0.13" numOctaves="3" seed="61" result="n2"/><feColorMatrix in="n2" type="matrix" values="2.2 0 0 0 -0.6  2.2 0 0 0 -0.6  2.2 0 0 0 -0.6  0 0 0 0 1" result="g2"/><feBlend mode="overlay" in="g2" in2="m1" result="o2"/><feComposite in="o2" in2="m1" operator="arithmetic" k1="0" k2="0.100" k3="0.900" k4="0"/></filter><clipPath id="tc34"><rect x="689.4" y="1404.2" width="133.6" height="99.8"/></clipPath><filter color-interpolation-filters="sRGB" id="fb0_34" filterUnits="userSpaceOnUse" x="674.4" y="1389.2" width="163.6" height="129.8"><feGaussianBlur stdDeviation="1.1"/></filter><filter color-interpolation-filters="sRGB" id="fb1_34" filterUnits="userSpaceOnUse" x="674.4" y="1389.2" width="163.6" height="129.8"><feGaussianBlur stdDeviation="2.5"/></filter><filter color-interpolation-filters="sRGB" id="fb2_34" filterUnits="userSpaceOnUse" x="674.4" y="1389.2" width="163.6" height="129.8"><feGaussianBlur stdDeviation="7"/></filter><filter color-interpolation-filters="sRGB" id="tf34" filterUnits="userSpaceOnUse" x="674.4" y="1389.2" width="163.6" height="129.8"><feGaussianBlur in="SourceGraphic" stdDeviation="11" result="b"/><feTurbulence type="turbulence" baseFrequency="0.032" numOctaves="3" seed="82" result="n0"/><feTurbulence type="fractalNoise" baseFrequency="0.02" numOctaves="2" seed="112" result="w"/><feDisplacementMap in="n0" in2="w" scale="28" xChannelSelector="R" yChannelSelector="G" result="n"/><feDiffuseLighting in="n" surfaceScale="6" lighting-color="#fff" diffuseConstant="0.72" result="l"><feDistantLight azimuth="225" elevation="45"/></feDiffuseLighting><feBlend mode="overlay" in="l" in2="b" result="o1"/><feComposite in="o1" in2="b" operator="arithmetic" k1="0" k2="0.9" k3="0.100" k4="0" result="m1"/><feTurbulence type="fractalNoise" baseFrequency="0.13" numOctaves="3" seed="62" result="n2"/><feColorMatrix in="n2" type="matrix" values="2.2 0 0 0 -0.6  2.2 0 0 0 -0.6  2.2 0 0 0 -0.6  0 0 0 0 1" result="g2"/><feBlend mode="overlay" in="g2" in2="m1" result="o2"/><feComposite in="o2" in2="m1" operator="arithmetic" k1="0" k2="0.100" k3="0.900" k4="0"/></filter><clipPath id="tc35"><rect x="831.9" y="1404.2" width="133.6" height="99.8"/></clipPath><filter color-interpolation-filters="sRGB" id="fb0_35" filterUnits="userSpaceOnUse" x="816.9" y="1389.2" width="163.6" height="129.8"><feGaussianBlur stdDeviation="1.1"/></filter><filter color-interpolation-filters="sRGB" id="fb1_35" filterUnits="userSpaceOnUse" x="816.9" y="1389.2" width="163.6" height="129.8"><feGaussianBlur stdDeviation="2.5"/></filter><filter color-interpolation-filters="sRGB" id="fb2_35" filterUnits="userSpaceOnUse" x="816.9" y="1389.2" width="163.6" height="129.8"><feGaussianBlur stdDeviation="7"/></filter><filter color-interpolation-filters="sRGB" id="tf35" filterUnits="userSpaceOnUse" x="816.9" y="1389.2" width="163.6" height="129.8"><feGaussianBlur in="SourceGraphic" stdDeviation="11" result="b"/><feTurbulence type="turbulence" baseFrequency="0.032" numOctaves="3" seed="83" result="n0"/><feTurbulence type="fractalNoise" baseFrequency="0.02" numOctaves="2" seed="113" result="w"/><feDisplacementMap in="n0" in2="w" scale="28" xChannelSelector="R" yChannelSelector="G" result="n"/><feDiffuseLighting in="n" surfaceScale="6" lighting-color="#fff" diffuseConstant="0.72" result="l"><feDistantLight azimuth="225" elevation="45"/></feDiffuseLighting><feBlend mode="overlay" in="l" in2="b" result="o1"/><feComposite in="o1" in2="b" operator="arithmetic" k1="0" k2="0.35" k3="0.650" k4="0" result="m1"/><feTurbulence type="fractalNoise" baseFrequency="0.13" numOctaves="3" seed="63" result="n2"/><feColorMatrix in="n2" type="matrix" values="2.2 0 0 0 -0.6  2.2 0 0 0 -0.6  2.2 0 0 0 -0.6  0 0 0 0 1" result="g2"/><feBlend mode="overlay" in="g2" in2="m1" result="o2"/><feComposite in="o2" in2="m1" operator="arithmetic" k1="0" k2="0.050" k3="0.950" k4="0"/></filter></defs><rect x="209.30" y="256.60" width="18.10" height="124.70" fill="#8eaadb" stroke="#14203c" stroke-width="1.2"/><rect x="227.40" y="268.70" width="17.20" height="112.60" fill="#4472c4" stroke="#0f1d42" stroke-width="1.2"/><rect x="244.60" y="300.40" width="16.70" height="80.90" fill="#ffb16c" stroke="#3a1c0a" stroke-width="1.2"/><rect x="261.30" y="272.20" width="17.40" height="109.10" fill="#ff8a0d" stroke="#3a1a06" stroke-width="1.2"/><rect x="304.00" y="247.20" width="17.20" height="134.10" fill="#8eaadb" stroke="#14203c" stroke-width="1.2"/><rect x="321.20" y="209.40" width="17.20" height="171.90" fill="#4472c4" stroke="#0f1d42" stroke-width="1.2"/><rect x="338.40" y="270.60" width="16.80" height="110.70" fill="#ffb16c" stroke="#3a1c0a" stroke-width="1.2"/><rect x="355.20" y="224.70" width="17.50" height="156.60" fill="#ff8a0d" stroke="#3a1a06" stroke-width="1.2"/><rect x="398.30" y="293.40" width="16.90" height="87.90" fill="#8eaadb" stroke="#14203c" stroke-width="1.2"/><rect x="415.20" y="238.10" width="17.10" height="143.20" fill="#4472c4" stroke="#0f1d42" stroke-width="1.2"/><rect x="432.30" y="288.50" width="17.00" height="92.80" fill="#ffb16c" stroke="#3a1c0a" stroke-width="1.2"/><rect x="449.30" y="226.00" width="17.30" height="155.30" fill="#ff8a0d" stroke="#3a1a06" stroke-width="1.2"/><rect x="492.30" y="252.30" width="17.00" height="129.00" fill="#8eaadb" stroke="#14203c" stroke-width="1.2"/><rect x="509.30" y="143.50" width="17.60" height="237.80" fill="#4472c4" stroke="#0f1d42" stroke-width="1.2"/><rect x="526.90" y="243.40" width="16.60" height="137.90" fill="#ffb16c" stroke="#3a1c0a" stroke-width="1.2"/><rect x="543.50" y="262.30" width="17.40" height="119.00" fill="#ff8a0d" stroke="#3a1a06" stroke-width="1.2"/><rect x="586.30" y="258.20" width="17.00" height="123.10" fill="#8eaadb" stroke="#14203c" stroke-width="1.2"/><rect x="603.30" y="119.90" width="17.40" height="261.40" fill="#4472c4" stroke="#0f1d42" stroke-width="1.2"/><rect x="620.70" y="242.40" width="16.90" height="138.90" fill="#ffb16c" stroke="#3a1c0a" stroke-width="1.2"/><rect x="637.60" y="246.80" width="17.20" height="134.50" fill="#ff8a0d" stroke="#3a1a06" stroke-width="1.2"/><rect x="680.30" y="182.80" width="17.10" height="198.50" fill="#8eaadb" stroke="#14203c" stroke-width="1.2"/><rect x="697.40" y="89.50" width="17.50" height="291.80" fill="#4472c4" stroke="#0f1d42" stroke-width="1.2"/><rect x="714.90" y="224.10" width="16.60" height="157.20" fill="#ffb16c" stroke="#3a1c0a" stroke-width="1.2"/><rect x="731.50" y="222.70" width="17.40" height="158.60" fill="#ff8a0d" stroke="#3a1a06" stroke-width="1.2"/><rect x="775.30" y="224.10" width="16.80" height="157.20" fill="#8eaadb" stroke="#14203c" stroke-width="1.2"/><rect x="792.10" y="102.20" width="17.30" height="279.10" fill="#4472c4" stroke="#0f1d42" stroke-width="1.2"/><rect x="809.40" y="222.60" width="17.10" height="158.70" fill="#ffb16c" stroke="#3a1c0a" stroke-width="1.2"/><rect x="826.50" y="235.50" width="16.90" height="145.80" fill="#ff8a0d" stroke="#3a1a06" stroke-width="1.2"/><path d="M218.35 247.40V265.00M214.95 247.40H221.75M214.95 265.00H221.75" stroke="#1a1a1a" stroke-width="1.5" fill="none"/><path d="M236.00 258.70V279.10M232.60 258.70H239.40M232.60 279.10H239.40" stroke="#1a1a1a" stroke-width="1.5" fill="none"/><path d="M252.95 280.50V320.30M249.55 280.50H256.35M249.55 320.30H256.35" stroke="#1a1a1a" stroke-width="1.5" fill="none"/><path d="M270.00 260.30V284.00M266.60 260.30H273.40M266.60 284.00H273.40" stroke="#1a1a1a" stroke-width="1.5" fill="none"/><path d="M312.60 239.40V254.40M309.20 239.40H316.00M309.20 254.40H316.00" stroke="#1a1a1a" stroke-width="1.5" fill="none"/><path d="M329.80 196.40V221.70M326.40 196.40H333.20M326.40 221.70H333.20" stroke="#1a1a1a" stroke-width="1.5" fill="none"/><path d="M346.80 250.30V290.90M343.40 250.30H350.20M343.40 290.90H350.20" stroke="#1a1a1a" stroke-width="1.5" fill="none"/><path d="M363.95 215.50V233.70M360.55 215.50H367.35M360.55 233.70H367.35" stroke="#1a1a1a" stroke-width="1.5" fill="none"/><path d="M406.75 266.30V320.50M403.35 266.30H410.15M403.35 320.50H410.15" stroke="#1a1a1a" stroke-width="1.5" fill="none"/><path d="M423.75 205.60V269.80M420.35 205.60H427.15M420.35 269.80H427.15" stroke="#1a1a1a" stroke-width="1.5" fill="none"/><path d="M440.80 270.90V305.50M437.40 270.90H444.20M437.40 305.50H444.20" stroke="#1a1a1a" stroke-width="1.5" fill="none"/><path d="M457.95 174.20V277.00M454.55 174.20H461.35M454.55 277.00H461.35" stroke="#1a1a1a" stroke-width="1.5" fill="none"/><path d="M500.80 242.40V262.00M497.40 242.40H504.20M497.40 262.00H504.20" stroke="#1a1a1a" stroke-width="1.5" fill="none"/><path d="M518.10 112.60V173.60M514.70 112.60H521.50M514.70 173.60H521.50" stroke="#1a1a1a" stroke-width="1.5" fill="none"/><path d="M535.20 226.00V260.00M531.80 226.00H538.60M531.80 260.00H538.60" stroke="#1a1a1a" stroke-width="1.5" fill="none"/><path d="M552.20 239.50V284.10M548.80 239.50H555.60M548.80 284.10H555.60" stroke="#1a1a1a" stroke-width="1.5" fill="none"/><path d="M594.80 240.30V276.10M591.40 240.30H598.20M591.40 276.10H598.20" stroke="#1a1a1a" stroke-width="1.5" fill="none"/><path d="M612.00 101.30V138.10M608.60 101.30H615.40M608.60 138.10H615.40" stroke="#1a1a1a" stroke-width="1.5" fill="none"/><path d="M629.15 223.40V261.30M625.75 223.40H632.55M625.75 261.30H632.55" stroke="#1a1a1a" stroke-width="1.5" fill="none"/><path d="M646.20 232.60V261.30M642.80 232.60H649.60M642.80 261.30H649.60" stroke="#1a1a1a" stroke-width="1.5" fill="none"/><path d="M688.85 170.70V194.20M685.45 170.70H692.25M685.45 194.20H692.25" stroke="#1a1a1a" stroke-width="1.5" fill="none"/><path d="M706.15 66.00V113.30M702.75 66.00H709.55M702.75 113.30H709.55" stroke="#1a1a1a" stroke-width="1.5" fill="none"/><path d="M723.20 194.20V252.90M719.80 194.20H726.60M719.80 252.90H726.60" stroke="#1a1a1a" stroke-width="1.5" fill="none"/><path d="M740.20 207.60V237.20M736.80 207.60H743.60M736.80 237.20H743.60" stroke="#1a1a1a" stroke-width="1.5" fill="none"/><path d="M783.70 203.40V244.30M780.30 203.40H787.10M780.30 244.30H787.10" stroke="#1a1a1a" stroke-width="1.5" fill="none"/><path d="M800.75 62.20V142.40M797.35 62.20H804.15M797.35 142.40H804.15" stroke="#1a1a1a" stroke-width="1.5" fill="none"/><path d="M817.95 200.90V244.30M814.55 200.90H821.35M814.55 244.30H821.35" stroke="#1a1a1a" stroke-width="1.5" fill="none"/><path d="M834.95 223.20V247.20M831.55 223.20H838.35M831.55 247.20H838.35" stroke="#1a1a1a" stroke-width="1.5" fill="none"/><path d="M218.7 236.3V225.5H236.0V248.6" stroke="#4d4d4d" stroke-width="1.3" fill="none"/><text x="228.0" y="222.0" font-size="12.5" text-anchor="middle" fill="#333" font-style="italic">#</text><path d="M236.0 223.5V207.4H270.2V248.6" stroke="#4d4d4d" stroke-width="1.3" fill="none"/><text x="253.1" y="203.5" font-size="12.5" text-anchor="middle" fill="#333" font-style="italic">#</text><path d="M406.8 252.6V192.4H440.6V258.1" stroke="#4d4d4d" stroke-width="1.3" fill="none"/><text x="418.1" y="188.1" font-size="12.5" text-anchor="middle" fill="#333" font-style="italic">#</text><path d="M423.9 189.6V144.4H458.5V163.8" stroke="#4d4d4d" stroke-width="1.3" fill="none"/><text x="441.4" y="140.2" font-size="12.5" text-anchor="middle" fill="#333" font-style="italic">#</text><path d="M500.2 93.5V74.4H551.1V202.4" stroke="#4d4d4d" stroke-width="1.3" fill="none"/><text x="526.0" y="69.7" font-size="12.5" text-anchor="middle" fill="#333" font-style="italic">#</text><path d="M500.2 234.7V97.8H534.2V200.9" stroke="#4d4d4d" stroke-width="1.3" fill="none"/><text x="517.7" y="92.2" font-size="12.5" text-anchor="middle" fill="#333" font-style="italic">#</text><path d="M534.2 221.9V207.8H551.1V233.7" stroke="#4d4d4d" stroke-width="1.3" fill="none"/><text x="543.0" y="204.0" font-size="12.5" text-anchor="middle" fill="#333" font-style="italic">#</text><path d="M594.4 89.2V70.1H645.6V198.5" stroke="#4d4d4d" stroke-width="1.3" fill="none"/><text x="620.3" y="65.0" font-size="12.5" text-anchor="middle" fill="#333" font-style="italic">#</text><path d="M594.4 230.6V93.3H628.4V196.3" stroke="#4d4d4d" stroke-width="1.3" fill="none"/><text x="612.0" y="88.0" font-size="12.5" text-anchor="middle" fill="#333" font-style="italic">#</text><path d="M628.4 217.0V203.5H645.6V229.0" stroke="#4d4d4d" stroke-width="1.3" fill="none"/><text x="637.5" y="199.2" font-size="12.5" text-anchor="middle" fill="#333" font-style="italic">#</text><path d="M723.3 188.6V174.6H740.2V200.9" stroke="#4d4d4d" stroke-width="1.3" fill="none"/><text x="732.2" y="170.7" font-size="12.5" text-anchor="middle" fill="#333" font-style="italic">#</text><path d="M783.5 50.2V31.5H834.7V170.6" stroke="#4d4d4d" stroke-width="1.3" fill="none"/><text x="809.3" y="26.1" font-size="12.5" text-anchor="middle" fill="#333" font-style="italic">#</text><path d="M783.5 191.0V54.5H817.6V170.2" stroke="#4d4d4d" stroke-width="1.3" fill="none"/><text x="800.9" y="48.6" font-size="12.5" text-anchor="middle" fill="#333" font-style="italic">#</text><path d="M817.6 190.4V176.5H834.6V202.4" stroke="#4d4d4d" stroke-width="1.3" fill="none"/><text x="826.6" y="171.8" font-size="12.5" text-anchor="middle" fill="#333" font-style="italic">#</text><path d="M196.5 54.2V381.3H856.6" stroke="#2a2a2a" stroke-width="1.4" fill="none"/><path d="M190.0 381.30H196.5" stroke="#2a2a2a" stroke-width="1.4"/><text x="176.7" y="389.1" font-size="24" text-anchor="end" font-weight="normal" >0</text><path d="M190.0 315.87H196.5" stroke="#2a2a2a" stroke-width="1.4"/><text x="176.7" y="323.67" font-size="24" text-anchor="end" font-weight="normal" >10</text><path d="M190.0 250.44H196.5" stroke="#2a2a2a" stroke-width="1.4"/><text x="176.7" y="258.24" font-size="24" text-anchor="end" font-weight="normal" >20</text><path d="M190.0 185.01H196.5" stroke="#2a2a2a" stroke-width="1.4"/><text x="176.7" y="192.81000000000003" font-size="24" text-anchor="end" font-weight="normal" >30</text><path d="M190.0 119.58H196.5" stroke="#2a2a2a" stroke-width="1.4"/><text x="176.7" y="127.37999999999998" font-size="24" text-anchor="end" font-weight="normal" >40</text><path d="M190.0 54.15H196.5" stroke="#2a2a2a" stroke-width="1.4"/><text x="176.7" y="61.949999999999974" font-size="24" text-anchor="end" font-weight="normal" >50</text><path d="M196.50 381.3V388.3" stroke="#2a2a2a" stroke-width="1.4"/><path d="M290.80 381.3V388.3" stroke="#2a2a2a" stroke-width="1.4"/><path d="M385.10 381.3V388.3" stroke="#2a2a2a" stroke-width="1.4"/><path d="M479.40 381.3V388.3" stroke="#2a2a2a" stroke-width="1.4"/><path d="M573.70 381.3V388.3" stroke="#2a2a2a" stroke-width="1.4"/><path d="M668.00 381.3V388.3" stroke="#2a2a2a" stroke-width="1.4"/><path d="M762.30 381.3V388.3" stroke="#2a2a2a" stroke-width="1.4"/><path d="M856.60 381.3V388.3" stroke="#2a2a2a" stroke-width="1.4"/><text x="243.65" y="417.4" font-size="24" text-anchor="middle" font-weight="normal" >1</text><text x="337.95" y="417.4" font-size="24" text-anchor="middle" font-weight="normal" >4</text><text x="432.25" y="417.4" font-size="24" text-anchor="middle" font-weight="normal" >7</text><text x="526.55" y="417.4" font-size="24" text-anchor="middle" font-weight="normal" >10</text><text x="620.85" y="417.4" font-size="24" text-anchor="middle" font-weight="normal" >14</text><text x="715.15" y="417.4" font-size="24" text-anchor="middle" font-weight="normal" >21</text><text x="809.45" y="417.4" font-size="24" text-anchor="middle" font-weight="normal" >28</text><text x="526.6" y="447.9" font-size="23.7" text-anchor="middle" font-weight="normal" >Time (day)</text><text transform="translate(135 216) rotate(-90)" font-size="23.5" text-anchor="middle">Cell viability (%)</text><rect x="277.7" y="14" width="12.5" height="12" fill="#8eaadb" stroke="#222" stroke-width="1.2"/><text x="300.3" y="27" font-size="23.6">Hμ-S<tspan font-size="14" dy="2.6">L</tspan><tspan dy="-2.6">2</tspan></text><rect x="400.5" y="14" width="12.5" height="12" fill="#4472c4" stroke="#222" stroke-width="1.2"/><text x="422.3" y="27" font-size="23.6">Hμ-S<tspan font-size="14" dy="2.6">L</tspan><tspan dy="-2.6">4</tspan></text><rect x="523.4" y="14" width="12.5" height="12" fill="#ffb16c" stroke="#222" stroke-width="1.2"/><text x="539.8" y="27" font-size="23.6">SHμ-S<tspan font-size="14" dy="2.6">L</tspan><tspan dy="-2.6">2</tspan></text><rect x="645.8" y="14" width="12.5" height="12" fill="#ff8a0d" stroke="#222" stroke-width="1.2"/><text x="664.8" y="27" font-size="23.6">SHμ-S<tspan font-size="14" dy="2.6">L</tspan><tspan dy="-2.6">4</tspan></text><text x="487" y="511.5" font-size="26.5" text-anchor="middle">(<tspan font-weight="bold">a</tspan>)</text><rect x="408" y="578" width="135" height="100" fill="#f9f9f9"/><rect x="280" y="765" width="640" height="108" fill="#fafaf9"/><path d="M192.0 603.0C195.4 601.5 207.4 597.7 211.8 597.0C216.2 596.3 215.7 597.6 218.3 598.8C220.9 600.0 224.3 603.0 227.5 604.3C230.7 605.6 235.3 605.2 237.6 606.6C239.9 608.0 240.1 609.8 241.3 612.6C242.5 615.5 244.0 620.3 245.0 623.7C246.0 627.1 247.3 630.3 247.3 632.9C247.3 635.5 247.5 637.4 245.0 639.3C242.5 641.1 236.8 642.8 232.1 644.0C227.3 645.2 221.4 646.1 216.5 646.3C211.6 646.4 206.3 645.9 202.6 644.9C198.9 643.9 196.5 642.9 194.3 640.3C192.2 637.7 190.5 633.2 189.7 629.2C188.9 625.2 189.1 620.1 189.3 616.3C189.5 612.5 190.7 608.4 191.1 606.2C191.5 604.0 188.6 604.5 192.0 603.0Z" transform="translate(-2.5 3)" fill="#7a8494" opacity="0.45" filter="url(#bsh)"/><g filter="url(#rough)"><path d="M192.0 603.0C195.4 601.5 207.4 597.7 211.8 597.0C216.2 596.3 215.7 597.6 218.3 598.8C220.9 600.0 224.3 603.0 227.5 604.3C230.7 605.6 235.3 605.2 237.6 606.6C239.9 608.0 240.1 609.8 241.3 612.6C242.5 615.5 244.0 620.3 245.0 623.7C246.0 627.1 247.3 630.3 247.3 632.9C247.3 635.5 247.5 637.4 245.0 639.3C242.5 641.1 236.8 642.8 232.1 644.0C227.3 645.2 221.4 646.1 216.5 646.3C211.6 646.4 206.3 645.9 202.6 644.9C198.9 643.9 196.5 642.9 194.3 640.3C192.2 637.7 190.5 633.2 189.7 629.2C188.9 625.2 189.1 620.1 189.3 616.3C189.5 612.5 190.7 608.4 191.1 606.2C191.5 604.0 188.6 604.5 192.0 603.0Z" fill="url(#bg0)"/><g clip-path="url(#bc0)"><rect x="187.3" y="595.0" width="62.0" height="53.3" filter="url(#speck)" opacity="0.25"/><circle cx="208.8" cy="605.8" r="0.73" fill="#dff0ff" opacity="0.39"/><circle cx="220.2" cy="615.6" r="0.43" fill="#dff0ff" opacity="0.60"/><circle cx="193.3" cy="618.6" r="0.43" fill="#dff0ff" opacity="0.40"/><circle cx="214.2" cy="636.5" r="0.46" fill="#dff0ff" opacity="0.46"/><circle cx="225.2" cy="641.9" r="0.69" fill="#dff0ff" opacity="0.55"/><circle cx="244.0" cy="601.1" r="0.83" fill="#dff0ff" opacity="0.49"/><circle cx="199.1" cy="604.3" r="0.55" fill="#dff0ff" opacity="0.76"/><circle cx="201.1" cy="625.3" r="0.72" fill="#dff0ff" opacity="0.54"/><circle cx="220.9" cy="601.8" r="0.43" fill="#dff0ff" opacity="0.45"/><circle cx="228.0" cy="618.4" r="0.56" fill="#dff0ff" opacity="0.64"/><circle cx="215.8" cy="612.6" r="0.80" fill="#dff0ff" opacity="0.70"/><circle cx="204.5" cy="625.0" r="0.66" fill="#dff0ff" opacity="0.79"/><circle cx="230.7" cy="612.0" r="0.89" fill="#dff0ff" opacity="0.41"/><circle cx="213.9" cy="633.3" r="0.48" fill="#dff0ff" opacity="0.59"/><circle cx="193.4" cy="629.3" r="0.78" fill="#dff0ff" opacity="0.64"/><circle cx="238.6" cy="613.2" r="0.75" fill="#dff0ff" opacity="0.65"/><circle cx="222.6" cy="619.7" r="0.82" fill="#dff0ff" opacity="0.82"/><circle cx="216.9" cy="629.1" r="0.43" fill="#dff0ff" opacity="0.70"/><circle cx="226.2" cy="644.0" r="0.81" fill="#dff0ff" opacity="0.49"/><circle cx="212.1" cy="629.3" r="0.41" fill="#dff0ff" opacity="0.58"/><circle cx="200.4" cy="604.3" r="0.43" fill="#dff0ff" opacity="0.73"/><circle cx="198.3" cy="610.2" r="0.60" fill="#dff0ff" opacity="0.79"/><circle cx="195.7" cy="619.3" r="0.67" fill="#dff0ff" opacity="0.79"/><circle cx="235.5" cy="638.1" r="0.54" fill="#dff0ff" opacity="0.56"/><circle cx="210.7" cy="639.1" r="0.88" fill="#dff0ff" opacity="0.43"/><circle cx="200.8" cy="609.5" r="0.52" fill="#dff0ff" opacity="0.59"/><circle cx="223.1" cy="610.9" r="0.40" fill="#dff0ff" opacity="0.56"/><circle cx="211.2" cy="624.7" r="0.88" fill="#dff0ff" opacity="0.70"/><circle cx="219.1" cy="627.0" r="0.74" fill="#dff0ff" opacity="0.38"/><circle cx="239.9" cy="634.3" r="0.84" fill="#dff0ff" opacity="0.75"/><circle cx="212.5" cy="617.1" r="0.45" fill="#dff0ff" opacity="0.67"/><circle cx="194.7" cy="602.1" r="0.50" fill="#dff0ff" opacity="0.43"/><circle cx="209.7" cy="601.4" r="0.40" fill="#dff0ff" opacity="0.43"/><circle cx="196.8" cy="615.5" r="0.41" fill="#dff0ff" opacity="0.79"/><circle cx="224.5" cy="605.7" r="0.53" fill="#dff0ff" opacity="0.52"/><circle cx="211.0" cy="604.6" r="0.82" fill="#dff0ff" opacity="0.85"/><circle cx="216.5" cy="620.9" r="0.44" fill="#dff0ff" opacity="0.40"/><circle cx="209.8" cy="611.0" r="0.81" fill="#dff0ff" opacity="0.43"/><circle cx="192.5" cy="642.1" r="0.66" fill="#dff0ff" opacity="0.42"/><circle cx="220.6" cy="600.2" r="0.66" fill="#dff0ff" opacity="0.84"/></g><path d="M192.0 603.0C195.4 601.5 207.4 597.7 211.8 597.0C216.2 596.3 215.7 597.6 218.3 598.8C220.9 600.0 224.3 603.0 227.5 604.3C230.7 605.6 235.3 605.2 237.6 606.6C239.9 608.0 240.1 609.8 241.3 612.6C242.5 615.5 244.0 620.3 245.0 623.7C246.0 627.1 247.3 630.3 247.3 632.9C247.3 635.5 247.5 637.4 245.0 639.3C242.5 641.1 236.8 642.8 232.1 644.0C227.3 645.2 221.4 646.1 216.5 646.3C211.6 646.4 206.3 645.9 202.6 644.9C198.9 643.9 196.5 642.9 194.3 640.3C192.2 637.7 190.5 633.2 189.7 629.2C188.9 625.2 189.1 620.1 189.3 616.3C189.5 612.5 190.7 608.4 191.1 606.2C191.5 604.0 188.6 604.5 192.0 603.0Z" fill="none" stroke="#1053af" stroke-width="1.4" opacity="0.7" filter="url(#bed)"/></g><path d="M333.5 610.2C335.5 609.0 339.1 608.0 342.5 607.7C345.9 607.4 351.0 607.5 353.8 608.2C356.6 608.9 358.3 610.2 359.4 611.9C360.5 613.6 360.7 616.5 360.5 618.6C360.3 620.7 359.8 623.0 358.3 624.3C356.8 625.6 353.9 625.9 351.5 626.5C349.1 627.1 346.0 627.0 343.6 627.7C341.2 628.4 338.9 630.3 336.9 630.5C334.9 630.7 333.0 630.3 331.8 628.8C330.6 627.3 330.1 623.9 329.9 621.5C329.7 619.1 330.1 616.6 330.7 614.7C331.3 612.8 331.5 611.4 333.5 610.2Z" transform="translate(-2.5 3)" fill="#7a8494" opacity="0.45" filter="url(#bsh)"/><g filter="url(#rough)"><path d="M333.5 610.2C335.5 609.0 339.1 608.0 342.5 607.7C345.9 607.4 351.0 607.5 353.8 608.2C356.6 608.9 358.3 610.2 359.4 611.9C360.5 613.6 360.7 616.5 360.5 618.6C360.3 620.7 359.8 623.0 358.3 624.3C356.8 625.6 353.9 625.9 351.5 626.5C349.1 627.1 346.0 627.0 343.6 627.7C341.2 628.4 338.9 630.3 336.9 630.5C334.9 630.7 333.0 630.3 331.8 628.8C330.6 627.3 330.1 623.9 329.9 621.5C329.7 619.1 330.1 616.6 330.7 614.7C331.3 612.8 331.5 611.4 333.5 610.2Z" fill="url(#bg1)"/><g clip-path="url(#bc1)"><rect x="327.9" y="605.7" width="34.6" height="26.8" filter="url(#speck)" opacity="0.25"/><circle cx="354.9" cy="622.8" r="0.53" fill="#dff0ff" opacity="0.53"/><circle cx="336.3" cy="624.2" r="0.67" fill="#dff0ff" opacity="0.74"/><circle cx="340.7" cy="613.9" r="0.81" fill="#dff0ff" opacity="0.84"/><circle cx="354.6" cy="624.9" r="0.81" fill="#dff0ff" opacity="0.72"/><circle cx="337.9" cy="619.4" r="0.58" fill="#dff0ff" opacity="0.36"/><circle cx="332.6" cy="615.0" r="0.53" fill="#dff0ff" opacity="0.70"/><circle cx="357.3" cy="618.1" r="0.87" fill="#dff0ff" opacity="0.84"/><circle cx="357.3" cy="616.6" r="0.51" fill="#dff0ff" opacity="0.46"/></g><path d="M333.5 610.2C335.5 609.0 339.1 608.0 342.5 607.7C345.9 607.4 351.0 607.5 353.8 608.2C356.6 608.9 358.3 610.2 359.4 611.9C360.5 613.6 360.7 616.5 360.5 618.6C360.3 620.7 359.8 623.0 358.3 624.3C356.8 625.6 353.9 625.9 351.5 626.5C349.1 627.1 346.0 627.0 343.6 627.7C341.2 628.4 338.9 630.3 336.9 630.5C334.9 630.7 333.0 630.3 331.8 628.8C330.6 627.3 330.1 623.9 329.9 621.5C329.7 619.1 330.1 616.6 330.7 614.7C331.3 612.8 331.5 611.4 333.5 610.2Z" fill="none" stroke="#102e85" stroke-width="1.4" opacity="0.7" filter="url(#bed)"/></g><path d="M452.2 615.1C453.9 612.1 458.4 607.8 461.5 605.8C464.6 603.8 467.7 604.4 470.8 603.3C473.9 602.2 477.1 599.2 480.1 599.3C483.1 599.3 485.8 601.9 488.7 603.6C491.6 605.3 495.2 607.5 497.3 609.3C499.4 611.1 501.5 612.6 501.3 614.4C501.1 616.2 498.5 618.2 495.9 620.1C493.3 622.0 489.2 623.9 485.9 625.8C482.5 627.7 479.1 630.2 475.8 631.6C472.5 633.0 468.9 634.4 465.8 634.4C462.7 634.4 459.6 633.4 457.2 631.6C454.8 629.8 452.3 626.5 451.5 623.7C450.7 621.0 450.5 618.1 452.2 615.1Z" transform="translate(-2.5 3)" fill="#7a8494" opacity="0.45" filter="url(#bsh)"/><g filter="url(#rough)"><path d="M452.2 615.1C453.9 612.1 458.4 607.8 461.5 605.8C464.6 603.8 467.7 604.4 470.8 603.3C473.9 602.2 477.1 599.2 480.1 599.3C483.1 599.3 485.8 601.9 488.7 603.6C491.6 605.3 495.2 607.5 497.3 609.3C499.4 611.1 501.5 612.6 501.3 614.4C501.1 616.2 498.5 618.2 495.9 620.1C493.3 622.0 489.2 623.9 485.9 625.8C482.5 627.7 479.1 630.2 475.8 631.6C472.5 633.0 468.9 634.4 465.8 634.4C462.7 634.4 459.6 633.4 457.2 631.6C454.8 629.8 452.3 626.5 451.5 623.7C450.7 621.0 450.5 618.1 452.2 615.1Z" fill="url(#bg2)"/><g clip-path="url(#bc2)"><rect x="449.5" y="597.3" width="53.8" height="39.1" filter="url(#speck)" opacity="0.25"/><circle cx="462.5" cy="607.7" r="0.71" fill="#dff0ff" opacity="0.80"/><circle cx="492.0" cy="616.2" r="0.73" fill="#dff0ff" opacity="0.75"/><circle cx="457.4" cy="621.8" r="0.85" fill="#dff0ff" opacity="0.74"/><circle cx="487.9" cy="616.2" r="0.49" fill="#dff0ff" opacity="0.74"/><circle cx="468.7" cy="626.2" r="0.89" fill="#dff0ff" opacity="0.55"/><circle cx="471.9" cy="630.7" r="0.76" fill="#dff0ff" opacity="0.44"/><circle cx="459.3" cy="606.0" r="0.85" fill="#dff0ff" opacity="0.75"/><circle cx="460.2" cy="627.0" r="0.89" fill="#dff0ff" opacity="0.68"/><circle cx="469.5" cy="618.4" r="0.47" fill="#dff0ff" opacity="0.36"/><circle cx="498.0" cy="621.5" r="0.66" fill="#dff0ff" opacity="0.82"/><circle cx="473.4" cy="628.4" r="0.81" fill="#dff0ff" opacity="0.46"/><circle cx="465.0" cy="610.4" r="0.52" fill="#dff0ff" opacity="0.64"/><circle cx="465.4" cy="614.3" r="0.47" fill="#dff0ff" opacity="0.81"/><circle cx="469.7" cy="615.5" r="0.69" fill="#dff0ff" opacity="0.80"/></g><path d="M452.2 615.1C453.9 612.1 458.4 607.8 461.5 605.8C464.6 603.8 467.7 604.4 470.8 603.3C473.9 602.2 477.1 599.2 480.1 599.3C483.1 599.3 485.8 601.9 488.7 603.6C491.6 605.3 495.2 607.5 497.3 609.3C499.4 611.1 501.5 612.6 501.3 614.4C501.1 616.2 498.5 618.2 495.9 620.1C493.3 622.0 489.2 623.9 485.9 625.8C482.5 627.7 479.1 630.2 475.8 631.6C472.5 633.0 468.9 634.4 465.8 634.4C462.7 634.4 459.6 633.4 457.2 631.6C454.8 629.8 452.3 626.5 451.5 623.7C450.7 621.0 450.5 618.1 452.2 615.1Z" fill="none" stroke="#0d3692" stroke-width="1.4" opacity="0.7" filter="url(#bed)"/></g><path d="M185.6 688.6C188.1 687.2 193.7 685.9 199.2 685.2C204.7 684.6 212.1 684.5 218.6 684.7C225.1 685.0 232.9 686.1 238.1 686.7C243.3 687.4 247.1 686.5 249.7 688.6C252.3 690.7 252.8 695.1 253.6 699.3C254.4 703.5 254.3 708.9 254.6 713.9C254.9 718.9 256.1 726.1 255.6 729.5C255.1 732.9 256.2 733.3 251.7 734.3C247.1 735.3 235.4 734.8 228.3 735.3C221.2 735.8 215.1 736.9 208.9 737.2C202.8 737.5 195.5 738.0 191.4 737.2C187.3 736.4 186.0 736.0 184.6 732.4C183.2 728.8 184.1 720.0 183.1 715.8C182.1 711.6 179.0 709.5 178.8 707.1C178.6 704.7 180.8 703.6 181.7 701.3C182.6 699.0 183.4 695.6 184.1 693.5C184.8 691.4 183.1 690.0 185.6 688.6Z" transform="translate(-2.5 3)" fill="#7a8494" opacity="0.45" filter="url(#bsh)"/><g filter="url(#rough)"><path d="M185.6 688.6C188.1 687.2 193.7 685.9 199.2 685.2C204.7 684.6 212.1 684.5 218.6 684.7C225.1 685.0 232.9 686.1 238.1 686.7C243.3 687.4 247.1 686.5 249.7 688.6C252.3 690.7 252.8 695.1 253.6 699.3C254.4 703.5 254.3 708.9 254.6 713.9C254.9 718.9 256.1 726.1 255.6 729.5C255.1 732.9 256.2 733.3 251.7 734.3C247.1 735.3 235.4 734.8 228.3 735.3C221.2 735.8 215.1 736.9 208.9 737.2C202.8 737.5 195.5 738.0 191.4 737.2C187.3 736.4 186.0 736.0 184.6 732.4C183.2 728.8 184.1 720.0 183.1 715.8C182.1 711.6 179.0 709.5 178.8 707.1C178.6 704.7 180.8 703.6 181.7 701.3C182.6 699.0 183.4 695.6 184.1 693.5C184.8 691.4 183.1 690.0 185.6 688.6Z" fill="url(#bg3)"/><g clip-path="url(#bc3)"><rect x="176.8" y="682.7" width="80.8" height="56.5" filter="url(#speck)" opacity="0.25"/><circle cx="211.4" cy="731.2" r="0.65" fill="#dff0ff" opacity="0.62"/><circle cx="218.9" cy="687.6" r="0.62" fill="#dff0ff" opacity="0.44"/><circle cx="181.1" cy="725.5" r="0.49" fill="#dff0ff" opacity="0.59"/><circle cx="233.6" cy="713.7" r="0.56" fill="#dff0ff" opacity="0.61"/><circle cx="221.2" cy="724.7" r="0.45" fill="#dff0ff" opacity="0.63"/><circle cx="198.9" cy="700.1" r="0.79" fill="#dff0ff" opacity="0.60"/><circle cx="221.7" cy="723.6" r="0.86" fill="#dff0ff" opacity="0.57"/><circle cx="225.4" cy="711.2" r="0.66" fill="#dff0ff" opacity="0.70"/><circle cx="213.7" cy="712.6" r="0.64" fill="#dff0ff" opacity="0.82"/><circle cx="231.7" cy="729.2" r="0.87" fill="#dff0ff" opacity="0.48"/><circle cx="221.5" cy="732.4" r="0.82" fill="#dff0ff" opacity="0.42"/><circle cx="189.7" cy="708.1" r="0.44" fill="#dff0ff" opacity="0.47"/><circle cx="186.1" cy="719.2" r="0.79" fill="#dff0ff" opacity="0.80"/><circle cx="192.0" cy="721.4" r="0.73" fill="#dff0ff" opacity="0.42"/><circle cx="245.1" cy="733.6" r="0.51" fill="#dff0ff" opacity="0.83"/><circle cx="209.8" cy="710.3" r="0.89" fill="#dff0ff" opacity="0.77"/><circle cx="192.6" cy="707.6" r="0.66" fill="#dff0ff" opacity="0.52"/><circle cx="195.1" cy="702.1" r="0.76" fill="#dff0ff" opacity="0.36"/><circle cx="221.1" cy="708.1" r="0.41" fill="#dff0ff" opacity="0.52"/><circle cx="226.2" cy="711.5" r="0.43" fill="#dff0ff" opacity="0.84"/><circle cx="238.2" cy="733.8" r="0.45" fill="#dff0ff" opacity="0.48"/><circle cx="183.7" cy="724.5" r="0.54" fill="#dff0ff" opacity="0.41"/><circle cx="211.5" cy="730.9" r="0.81" fill="#dff0ff" opacity="0.48"/><circle cx="191.7" cy="731.3" r="0.69" fill="#dff0ff" opacity="0.70"/><circle cx="187.3" cy="689.5" r="0.74" fill="#dff0ff" opacity="0.56"/><circle cx="186.1" cy="732.2" r="0.72" fill="#dff0ff" opacity="0.75"/><circle cx="186.9" cy="728.2" r="0.43" fill="#dff0ff" opacity="0.78"/><circle cx="213.8" cy="703.1" r="0.68" fill="#dff0ff" opacity="0.81"/><circle cx="200.3" cy="693.0" r="0.66" fill="#dff0ff" opacity="0.47"/><circle cx="188.8" cy="694.5" r="0.43" fill="#dff0ff" opacity="0.45"/><circle cx="203.5" cy="701.5" r="0.78" fill="#dff0ff" opacity="0.49"/><circle cx="217.2" cy="695.3" r="0.57" fill="#dff0ff" opacity="0.36"/><circle cx="199.0" cy="687.4" r="0.77" fill="#dff0ff" opacity="0.63"/><circle cx="194.6" cy="709.7" r="0.87" fill="#dff0ff" opacity="0.40"/><circle cx="240.4" cy="707.7" r="0.65" fill="#dff0ff" opacity="0.77"/><circle cx="209.4" cy="711.3" r="0.74" fill="#dff0ff" opacity="0.84"/><circle cx="205.7" cy="727.1" r="0.75" fill="#dff0ff" opacity="0.67"/><circle cx="210.3" cy="703.6" r="0.43" fill="#dff0ff" opacity="0.41"/><circle cx="185.9" cy="722.6" r="0.53" fill="#dff0ff" opacity="0.43"/><circle cx="187.0" cy="727.5" r="0.84" fill="#dff0ff" opacity="0.69"/><circle cx="201.3" cy="698.4" r="0.55" fill="#dff0ff" opacity="0.58"/><circle cx="192.3" cy="708.3" r="0.53" fill="#dff0ff" opacity="0.83"/><circle cx="251.6" cy="713.2" r="0.52" fill="#dff0ff" opacity="0.83"/><circle cx="203.3" cy="704.0" r="0.40" fill="#dff0ff" opacity="0.54"/><circle cx="215.4" cy="711.1" r="0.50" fill="#dff0ff" opacity="0.60"/></g><path d="M185.6 688.6C188.1 687.2 193.7 685.9 199.2 685.2C204.7 684.6 212.1 684.5 218.6 684.7C225.1 685.0 232.9 686.1 238.1 686.7C243.3 687.4 247.1 686.5 249.7 688.6C252.3 690.7 252.8 695.1 253.6 699.3C254.4 703.5 254.3 708.9 254.6 713.9C254.9 718.9 256.1 726.1 255.6 729.5C255.1 732.9 256.2 733.3 251.7 734.3C247.1 735.3 235.4 734.8 228.3 735.3C221.2 735.8 215.1 736.9 208.9 737.2C202.8 737.5 195.5 738.0 191.4 737.2C187.3 736.4 186.0 736.0 184.6 732.4C183.2 728.8 184.1 720.0 183.1 715.8C182.1 711.6 179.0 709.5 178.8 707.1C178.6 704.7 180.8 703.6 181.7 701.3C182.6 699.0 183.4 695.6 184.1 693.5C184.8 691.4 183.1 690.0 185.6 688.6Z" fill="none" stroke="#1064bb" stroke-width="1.4" opacity="0.7" filter="url(#bed)"/></g><path d="M314.7 704.9C317.4 702.9 322.4 701.7 327.6 700.3C332.8 698.9 340.7 697.7 346.1 696.6C351.5 695.5 355.6 693.9 359.9 693.8C364.2 693.6 369.4 694.5 371.9 695.7C374.3 696.9 374.3 697.7 374.6 701.2C374.9 704.7 373.6 711.3 373.7 716.8C373.8 722.3 375.4 730.3 375.1 734.3C374.8 738.3 376.6 739.2 371.8 740.8C367.0 742.3 353.8 742.9 346.1 743.6C338.4 744.3 330.9 745.1 325.8 744.9C320.7 744.7 317.9 744.8 315.7 742.6C313.5 740.4 313.6 736.7 312.9 731.6C312.2 726.5 311.2 716.7 311.5 712.2C311.8 707.8 312.0 706.9 314.7 704.9Z" transform="translate(-2.5 3)" fill="#7a8494" opacity="0.45" filter="url(#bsh)"/><g filter="url(#rough)"><path d="M314.7 704.9C317.4 702.9 322.4 701.7 327.6 700.3C332.8 698.9 340.7 697.7 346.1 696.6C351.5 695.5 355.6 693.9 359.9 693.8C364.2 693.6 369.4 694.5 371.9 695.7C374.3 696.9 374.3 697.7 374.6 701.2C374.9 704.7 373.6 711.3 373.7 716.8C373.8 722.3 375.4 730.3 375.1 734.3C374.8 738.3 376.6 739.2 371.8 740.8C367.0 742.3 353.8 742.9 346.1 743.6C338.4 744.3 330.9 745.1 325.8 744.9C320.7 744.7 317.9 744.8 315.7 742.6C313.5 740.4 313.6 736.7 312.9 731.6C312.2 726.5 311.2 716.7 311.5 712.2C311.8 707.8 312.0 706.9 314.7 704.9Z" fill="url(#bg4)"/><g clip-path="url(#bc4)"><rect x="309.5" y="691.8" width="67.6" height="55.1" filter="url(#speck)" opacity="0.25"/><circle cx="313.8" cy="708.2" r="0.44" fill="#dff0ff" opacity="0.55"/><circle cx="316.0" cy="696.9" r="0.55" fill="#dff0ff" opacity="0.47"/><circle cx="348.4" cy="720.7" r="0.78" fill="#dff0ff" opacity="0.68"/><circle cx="356.2" cy="737.2" r="0.59" fill="#dff0ff" opacity="0.51"/><circle cx="372.2" cy="702.8" r="0.76" fill="#dff0ff" opacity="0.67"/><circle cx="316.1" cy="735.1" r="0.85" fill="#dff0ff" opacity="0.66"/><circle cx="357.2" cy="734.1" r="0.47" fill="#dff0ff" opacity="0.61"/><circle cx="343.6" cy="735.1" r="0.80" fill="#dff0ff" opacity="0.76"/><circle cx="348.3" cy="737.9" r="0.74" fill="#dff0ff" opacity="0.70"/><circle cx="327.2" cy="697.3" r="0.47" fill="#dff0ff" opacity="0.53"/><circle cx="319.8" cy="735.2" r="0.68" fill="#dff0ff" opacity="0.66"/><circle cx="350.8" cy="727.9" r="0.64" fill="#dff0ff" opacity="0.35"/><circle cx="361.0" cy="731.0" r="0.65" fill="#dff0ff" opacity="0.62"/><circle cx="352.8" cy="698.9" r="0.77" fill="#dff0ff" opacity="0.48"/><circle cx="317.9" cy="708.3" r="0.76" fill="#dff0ff" opacity="0.45"/><circle cx="357.6" cy="741.8" r="0.65" fill="#dff0ff" opacity="0.54"/><circle cx="342.0" cy="728.0" r="0.78" fill="#dff0ff" opacity="0.66"/><circle cx="351.8" cy="699.4" r="0.47" fill="#dff0ff" opacity="0.48"/><circle cx="357.8" cy="710.1" r="0.68" fill="#dff0ff" opacity="0.36"/><circle cx="317.1" cy="708.5" r="0.74" fill="#dff0ff" opacity="0.70"/><circle cx="353.8" cy="709.5" r="0.66" fill="#dff0ff" opacity="0.58"/><circle cx="341.3" cy="701.4" r="0.85" fill="#dff0ff" opacity="0.45"/><circle cx="371.8" cy="739.9" r="0.41" fill="#dff0ff" opacity="0.58"/><circle cx="362.4" cy="741.4" r="0.62" fill="#dff0ff" opacity="0.48"/><circle cx="326.0" cy="740.3" r="0.51" fill="#dff0ff" opacity="0.64"/><circle cx="321.9" cy="720.5" r="0.88" fill="#dff0ff" opacity="0.42"/><circle cx="362.4" cy="719.8" r="0.84" fill="#dff0ff" opacity="0.70"/><circle cx="327.3" cy="738.1" r="0.64" fill="#dff0ff" opacity="0.36"/><circle cx="313.7" cy="719.0" r="0.63" fill="#dff0ff" opacity="0.50"/><circle cx="321.9" cy="712.0" r="0.56" fill="#dff0ff" opacity="0.77"/></g><path d="M314.7 704.9C317.4 702.9 322.4 701.7 327.6 700.3C332.8 698.9 340.7 697.7 346.1 696.6C351.5 695.5 355.6 693.9 359.9 693.8C364.2 693.6 369.4 694.5 371.9 695.7C374.3 696.9 374.3 697.7 374.6 701.2C374.9 704.7 373.6 711.3 373.7 716.8C373.8 722.3 375.4 730.3 375.1 734.3C374.8 738.3 376.6 739.2 371.8 740.8C367.0 742.3 353.8 742.9 346.1 743.6C338.4 744.3 330.9 745.1 325.8 744.9C320.7 744.7 317.9 744.8 315.7 742.6C313.5 740.4 313.6 736.7 312.9 731.6C312.2 726.5 311.2 716.7 311.5 712.2C311.8 707.8 312.0 706.9 314.7 704.9Z" fill="none" stroke="#113a96" stroke-width="1.4" opacity="0.7" filter="url(#bed)"/></g><path d="M438.6 685.7C443.5 684.3 454.8 684.4 463.9 684.2C473.0 684.0 485.7 684.1 493.1 684.7C500.6 685.3 505.8 684.4 508.6 687.6C511.4 690.9 509.7 698.2 510.1 704.2C510.5 710.2 511.4 718.4 511.1 723.6C510.9 728.8 513.2 732.9 508.6 735.3C504.0 737.7 490.8 737.6 483.3 738.2C475.9 738.9 470.4 739.7 463.9 739.2C457.4 738.7 449.3 737.6 444.4 735.3C439.5 733.0 436.6 730.8 434.7 725.6C432.8 720.4 432.8 709.7 432.8 704.2C432.8 698.7 433.7 695.6 434.7 692.5C435.7 689.4 433.7 687.1 438.6 685.7Z" transform="translate(-2.5 3)" fill="#7a8494" opacity="0.45" filter="url(#bsh)"/><g filter="url(#rough)"><path d="M438.6 685.7C443.5 684.3 454.8 684.4 463.9 684.2C473.0 684.0 485.7 684.1 493.1 684.7C500.6 685.3 505.8 684.4 508.6 687.6C511.4 690.9 509.7 698.2 510.1 704.2C510.5 710.2 511.4 718.4 511.1 723.6C510.9 728.8 513.2 732.9 508.6 735.3C504.0 737.7 490.8 737.6 483.3 738.2C475.9 738.9 470.4 739.7 463.9 739.2C457.4 738.7 449.3 737.6 444.4 735.3C439.5 733.0 436.6 730.8 434.7 725.6C432.8 720.4 432.8 709.7 432.8 704.2C432.8 698.7 433.7 695.6 434.7 692.5C435.7 689.4 433.7 687.1 438.6 685.7Z" fill="url(#bg5)"/><g clip-path="url(#bc5)"><rect x="430.8" y="682.2" width="82.3" height="59.0" filter="url(#speck)" opacity="0.25"/><circle cx="434.9" cy="724.5" r="0.82" fill="#dff0ff" opacity="0.41"/><circle cx="503.6" cy="722.6" r="0.85" fill="#dff0ff" opacity="0.49"/><circle cx="462.5" cy="706.2" r="0.90" fill="#dff0ff" opacity="0.64"/><circle cx="461.6" cy="708.0" r="0.54" fill="#dff0ff" opacity="0.37"/><circle cx="442.4" cy="728.8" r="0.54" fill="#dff0ff" opacity="0.82"/><circle cx="453.3" cy="699.8" r="0.66" fill="#dff0ff" opacity="0.44"/><circle cx="462.5" cy="735.0" r="0.84" fill="#dff0ff" opacity="0.76"/><circle cx="481.7" cy="732.8" r="0.87" fill="#dff0ff" opacity="0.62"/><circle cx="488.3" cy="688.7" r="0.77" fill="#dff0ff" opacity="0.58"/><circle cx="490.7" cy="719.1" r="0.54" fill="#dff0ff" opacity="0.37"/><circle cx="503.7" cy="692.7" r="0.64" fill="#dff0ff" opacity="0.52"/><circle cx="456.9" cy="723.9" r="0.89" fill="#dff0ff" opacity="0.48"/><circle cx="483.5" cy="701.5" r="0.68" fill="#dff0ff" opacity="0.55"/><circle cx="447.2" cy="694.4" r="0.50" fill="#dff0ff" opacity="0.80"/><circle cx="471.7" cy="697.4" r="0.85" fill="#dff0ff" opacity="0.85"/><circle cx="468.2" cy="693.3" r="0.50" fill="#dff0ff" opacity="0.40"/><circle cx="460.2" cy="690.8" r="0.52" fill="#dff0ff" opacity="0.48"/><circle cx="477.1" cy="731.4" r="0.77" fill="#dff0ff" opacity="0.56"/><circle cx="465.6" cy="712.9" r="0.59" fill="#dff0ff" opacity="0.52"/><circle cx="439.4" cy="700.4" r="0.88" fill="#dff0ff" opacity="0.41"/><circle cx="472.2" cy="718.3" r="0.83" fill="#dff0ff" opacity="0.46"/><circle cx="454.9" cy="698.9" r="0.60" fill="#dff0ff" opacity="0.57"/><circle cx="505.7" cy="729.5" r="0.84" fill="#dff0ff" opacity="0.36"/><circle cx="437.2" cy="722.4" r="0.85" fill="#dff0ff" opacity="0.59"/><circle cx="478.4" cy="686.2" r="0.60" fill="#dff0ff" opacity="0.81"/><circle cx="496.1" cy="729.8" r="0.89" fill="#dff0ff" opacity="0.47"/><circle cx="442.9" cy="694.1" r="0.66" fill="#dff0ff" opacity="0.69"/><circle cx="504.8" cy="723.0" r="0.72" fill="#dff0ff" opacity="0.73"/><circle cx="468.8" cy="714.3" r="0.42" fill="#dff0ff" opacity="0.74"/><circle cx="452.1" cy="733.1" r="0.72" fill="#dff0ff" opacity="0.50"/><circle cx="444.3" cy="699.0" r="0.72" fill="#dff0ff" opacity="0.70"/><circle cx="443.1" cy="689.8" r="0.66" fill="#dff0ff" opacity="0.64"/><circle cx="463.6" cy="697.6" r="0.70" fill="#dff0ff" opacity="0.36"/><circle cx="457.2" cy="709.7" r="0.88" fill="#dff0ff" opacity="0.67"/><circle cx="500.5" cy="710.4" r="0.52" fill="#dff0ff" opacity="0.47"/><circle cx="506.2" cy="722.1" r="0.55" fill="#dff0ff" opacity="0.36"/><circle cx="471.8" cy="720.6" r="0.61" fill="#dff0ff" opacity="0.48"/><circle cx="484.4" cy="733.4" r="0.51" fill="#dff0ff" opacity="0.37"/><circle cx="459.9" cy="707.6" r="0.74" fill="#dff0ff" opacity="0.45"/><circle cx="494.0" cy="723.9" r="0.65" fill="#dff0ff" opacity="0.45"/></g><path d="M438.6 685.7C443.5 684.3 454.8 684.4 463.9 684.2C473.0 684.0 485.7 684.1 493.1 684.7C500.6 685.3 505.8 684.4 508.6 687.6C511.4 690.9 509.7 698.2 510.1 704.2C510.5 710.2 511.4 718.4 511.1 723.6C510.9 728.8 513.2 732.9 508.6 735.3C504.0 737.7 490.8 737.6 483.3 738.2C475.9 738.9 470.4 739.7 463.9 739.2C457.4 738.7 449.3 737.6 444.4 735.3C439.5 733.0 436.6 730.8 434.7 725.6C432.8 720.4 432.8 709.7 432.8 704.2C432.8 698.7 433.7 695.6 434.7 692.5C435.7 689.4 433.7 687.1 438.6 685.7Z" fill="none" stroke="#0f8bd0" stroke-width="1.4" opacity="0.7" filter="url(#bed)"/></g><path d="M570.6 691.5C574.2 690.0 582.2 688.6 589.0 687.6C595.8 686.6 604.4 685.7 611.4 685.7C618.4 685.7 626.8 686.5 630.8 687.6C634.8 688.7 635.2 689.4 635.7 692.5C636.2 695.6 634.3 702.5 633.8 706.1C633.3 709.7 632.3 711.1 632.8 713.9C633.3 716.6 636.4 719.0 636.7 722.6C637.0 726.2 638.6 732.5 634.7 735.3C630.8 738.1 620.1 738.1 613.3 739.2C606.5 740.3 600.4 741.8 593.9 742.1C587.4 742.4 578.8 742.6 574.4 741.1C570.0 739.6 568.9 737.0 567.6 733.3C566.3 729.6 567.0 723.3 566.7 718.8C566.4 714.3 565.6 709.8 565.7 706.1C565.9 702.4 566.8 698.8 567.6 696.4C568.4 694.0 567.0 693.0 570.6 691.5Z" transform="translate(-2.5 3)" fill="#7a8494" opacity="0.45" filter="url(#bsh)"/><g filter="url(#rough)"><path d="M570.6 691.5C574.2 690.0 582.2 688.6 589.0 687.6C595.8 686.6 604.4 685.7 611.4 685.7C618.4 685.7 626.8 686.5 630.8 687.6C634.8 688.7 635.2 689.4 635.7 692.5C636.2 695.6 634.3 702.5 633.8 706.1C633.3 709.7 632.3 711.1 632.8 713.9C633.3 716.6 636.4 719.0 636.7 722.6C637.0 726.2 638.6 732.5 634.7 735.3C630.8 738.1 620.1 738.1 613.3 739.2C606.5 740.3 600.4 741.8 593.9 742.1C587.4 742.4 578.8 742.6 574.4 741.1C570.0 739.6 568.9 737.0 567.6 733.3C566.3 729.6 567.0 723.3 566.7 718.8C566.4 714.3 565.6 709.8 565.7 706.1C565.9 702.4 566.8 698.8 567.6 696.4C568.4 694.0 567.0 693.0 570.6 691.5Z" fill="url(#bg6)"/><g clip-path="url(#bc6)"><rect x="563.7" y="683.7" width="75.0" height="60.4" filter="url(#speck)" opacity="0.25"/><circle cx="632.7" cy="704.0" r="0.81" fill="#dff0ff" opacity="0.47"/><circle cx="582.5" cy="727.5" r="0.55" fill="#dff0ff" opacity="0.83"/><circle cx="600.9" cy="697.5" r="0.51" fill="#dff0ff" opacity="0.56"/><circle cx="612.3" cy="737.4" r="0.47" fill="#dff0ff" opacity="0.55"/><circle cx="582.0" cy="738.7" r="0.47" fill="#dff0ff" opacity="0.38"/><circle cx="571.7" cy="708.3" r="0.85" fill="#dff0ff" opacity="0.79"/><circle cx="616.8" cy="740.0" r="0.87" fill="#dff0ff" opacity="0.51"/><circle cx="580.1" cy="736.7" r="0.77" fill="#dff0ff" opacity="0.37"/><circle cx="612.2" cy="707.5" r="0.59" fill="#dff0ff" opacity="0.52"/><circle cx="579.0" cy="687.9" r="0.54" fill="#dff0ff" opacity="0.53"/><circle cx="631.7" cy="694.2" r="0.88" fill="#dff0ff" opacity="0.45"/><circle cx="591.6" cy="730.8" r="0.81" fill="#dff0ff" opacity="0.57"/><circle cx="571.0" cy="712.5" r="0.59" fill="#dff0ff" opacity="0.81"/><circle cx="580.6" cy="706.8" r="0.85" fill="#dff0ff" opacity="0.37"/><circle cx="595.2" cy="730.2" r="0.78" fill="#dff0ff" opacity="0.37"/><circle cx="570.0" cy="691.0" r="0.86" fill="#dff0ff" opacity="0.48"/><circle cx="617.8" cy="734.8" r="0.57" fill="#dff0ff" opacity="0.49"/><circle cx="631.9" cy="720.0" r="0.53" fill="#dff0ff" opacity="0.71"/><circle cx="588.9" cy="702.1" r="0.40" fill="#dff0ff" opacity="0.73"/><circle cx="629.1" cy="720.9" r="0.87" fill="#dff0ff" opacity="0.36"/><circle cx="583.4" cy="712.6" r="0.88" fill="#dff0ff" opacity="0.83"/><circle cx="593.6" cy="700.9" r="0.61" fill="#dff0ff" opacity="0.60"/><circle cx="629.9" cy="697.3" r="0.80" fill="#dff0ff" opacity="0.72"/><circle cx="622.8" cy="728.2" r="0.70" fill="#dff0ff" opacity="0.51"/><circle cx="589.1" cy="706.7" r="0.79" fill="#dff0ff" opacity="0.39"/></g><path d="M570.6 691.5C574.2 690.0 582.2 688.6 589.0 687.6C595.8 686.6 604.4 685.7 611.4 685.7C618.4 685.7 626.8 686.5 630.8 687.6C634.8 688.7 635.2 689.4 635.7 692.5C636.2 695.6 634.3 702.5 633.8 706.1C633.3 709.7 632.3 711.1 632.8 713.9C633.3 716.6 636.4 719.0 636.7 722.6C637.0 726.2 638.6 732.5 634.7 735.3C630.8 738.1 620.1 738.1 613.3 739.2C606.5 740.3 600.4 741.8 593.9 742.1C587.4 742.4 578.8 742.6 574.4 741.1C570.0 739.6 568.9 737.0 567.6 733.3C566.3 729.6 567.0 723.3 566.7 718.8C566.4 714.3 565.6 709.8 565.7 706.1C565.9 702.4 566.8 698.8 567.6 696.4C568.4 694.0 567.0 693.0 570.6 691.5Z" fill="none" stroke="#0d90d4" stroke-width="1.4" opacity="0.7" filter="url(#bed)"/></g><path d="M693.3 687.4C696.9 685.4 706.5 681.8 712.8 681.3C719.1 680.8 725.6 683.6 731.2 684.3C736.8 685.0 741.4 683.9 746.5 685.4C751.6 686.9 758.3 690.6 761.9 693.5C765.5 696.4 766.6 698.2 768.0 702.8C769.4 707.4 770.3 715.6 770.1 721.2C769.9 726.8 768.5 732.8 767.0 736.5C765.5 740.2 764.3 743.5 760.9 743.7C757.5 743.9 752.3 739.0 746.5 737.6C740.7 736.2 732.9 736.2 726.1 735.5C719.3 734.8 711.4 734.7 705.6 733.5C699.8 732.3 693.9 732.9 691.3 728.3C688.6 723.7 689.7 711.6 689.7 705.8C689.7 700.0 690.7 696.6 691.3 693.5C691.9 690.4 689.7 689.4 693.3 687.4Z" transform="translate(-2.5 3)" fill="#7a8494" opacity="0.45" filter="url(#bsh)"/><g filter="url(#rough)"><path d="M693.3 687.4C696.9 685.4 706.5 681.8 712.8 681.3C719.1 680.8 725.6 683.6 731.2 684.3C736.8 685.0 741.4 683.9 746.5 685.4C751.6 686.9 758.3 690.6 761.9 693.5C765.5 696.4 766.6 698.2 768.0 702.8C769.4 707.4 770.3 715.6 770.1 721.2C769.9 726.8 768.5 732.8 767.0 736.5C765.5 740.2 764.3 743.5 760.9 743.7C757.5 743.9 752.3 739.0 746.5 737.6C740.7 736.2 732.9 736.2 726.1 735.5C719.3 734.8 711.4 734.7 705.6 733.5C699.8 732.3 693.9 732.9 691.3 728.3C688.6 723.7 689.7 711.6 689.7 705.8C689.7 700.0 690.7 696.6 691.3 693.5C691.9 690.4 689.7 689.4 693.3 687.4Z" fill="url(#bg7)"/><g clip-path="url(#bc7)"><rect x="687.7" y="679.3" width="84.4" height="66.4" filter="url(#speck)" opacity="0.25"/><circle cx="706.8" cy="727.3" r="0.52" fill="#dff0ff" opacity="0.38"/><circle cx="694.3" cy="715.6" r="0.56" fill="#dff0ff" opacity="0.84"/><circle cx="759.2" cy="741.0" r="0.53" fill="#dff0ff" opacity="0.39"/><circle cx="699.1" cy="712.4" r="0.75" fill="#dff0ff" opacity="0.57"/><circle cx="709.6" cy="707.6" r="0.71" fill="#dff0ff" opacity="0.69"/><circle cx="748.8" cy="732.8" r="0.73" fill="#dff0ff" opacity="0.41"/><circle cx="755.9" cy="700.5" r="0.68" fill="#dff0ff" opacity="0.54"/><circle cx="748.1" cy="694.9" r="0.52" fill="#dff0ff" opacity="0.47"/><circle cx="703.4" cy="734.9" r="0.69" fill="#dff0ff" opacity="0.51"/><circle cx="722.0" cy="741.3" r="0.65" fill="#dff0ff" opacity="0.47"/><circle cx="753.5" cy="721.5" r="0.90" fill="#dff0ff" opacity="0.40"/><circle cx="728.0" cy="731.1" r="0.82" fill="#dff0ff" opacity="0.81"/><circle cx="694.8" cy="700.5" r="0.46" fill="#dff0ff" opacity="0.44"/><circle cx="766.0" cy="717.4" r="0.87" fill="#dff0ff" opacity="0.54"/><circle cx="757.9" cy="709.5" r="0.53" fill="#dff0ff" opacity="0.74"/><circle cx="764.0" cy="689.5" r="0.70" fill="#dff0ff" opacity="0.66"/><circle cx="708.3" cy="704.8" r="0.47" fill="#dff0ff" opacity="0.45"/><circle cx="711.2" cy="718.3" r="0.73" fill="#dff0ff" opacity="0.45"/><circle cx="692.6" cy="702.4" r="0.74" fill="#dff0ff" opacity="0.44"/><circle cx="715.6" cy="695.2" r="0.80" fill="#dff0ff" opacity="0.62"/><circle cx="696.5" cy="689.2" r="0.60" fill="#dff0ff" opacity="0.63"/><circle cx="740.5" cy="688.6" r="0.48" fill="#dff0ff" opacity="0.70"/><circle cx="723.0" cy="699.8" r="0.55" fill="#dff0ff" opacity="0.83"/><circle cx="715.6" cy="716.4" r="0.58" fill="#dff0ff" opacity="0.56"/><circle cx="757.7" cy="741.5" r="0.58" fill="#dff0ff" opacity="0.45"/><circle cx="747.3" cy="695.2" r="0.40" fill="#dff0ff" opacity="0.80"/><circle cx="724.1" cy="731.2" r="0.60" fill="#dff0ff" opacity="0.79"/><circle cx="726.9" cy="692.8" r="0.41" fill="#dff0ff" opacity="0.63"/><circle cx="740.6" cy="736.4" r="0.44" fill="#dff0ff" opacity="0.66"/><circle cx="720.0" cy="712.8" r="0.47" fill="#dff0ff" opacity="0.49"/><circle cx="731.5" cy="737.3" r="0.45" fill="#dff0ff" opacity="0.60"/><circle cx="753.2" cy="739.8" r="0.50" fill="#dff0ff" opacity="0.41"/><circle cx="763.8" cy="740.3" r="0.64" fill="#dff0ff" opacity="0.38"/><circle cx="762.5" cy="706.0" r="0.85" fill="#dff0ff" opacity="0.66"/><circle cx="754.7" cy="692.7" r="0.79" fill="#dff0ff" opacity="0.46"/><circle cx="722.6" cy="732.7" r="0.81" fill="#dff0ff" opacity="0.44"/><circle cx="708.4" cy="706.6" r="0.66" fill="#dff0ff" opacity="0.54"/><circle cx="701.1" cy="697.7" r="0.76" fill="#dff0ff" opacity="0.80"/><circle cx="694.8" cy="716.1" r="0.78" fill="#dff0ff" opacity="0.37"/><circle cx="755.7" cy="690.2" r="0.70" fill="#dff0ff" opacity="0.63"/><circle cx="739.6" cy="701.2" r="0.61" fill="#dff0ff" opacity="0.64"/><circle cx="724.2" cy="721.8" r="0.62" fill="#dff0ff" opacity="0.57"/><circle cx="693.5" cy="719.4" r="0.64" fill="#dff0ff" opacity="0.47"/><circle cx="750.0" cy="728.9" r="0.63" fill="#dff0ff" opacity="0.44"/><circle cx="727.9" cy="689.6" r="0.46" fill="#dff0ff" opacity="0.57"/><circle cx="698.7" cy="709.1" r="0.66" fill="#dff0ff" opacity="0.37"/><circle cx="740.3" cy="688.1" r="0.77" fill="#dff0ff" opacity="0.74"/><circle cx="730.8" cy="686.5" r="0.65" fill="#dff0ff" opacity="0.54"/><circle cx="764.3" cy="691.3" r="0.83" fill="#dff0ff" opacity="0.85"/><circle cx="747.6" cy="730.9" r="0.50" fill="#dff0ff" opacity="0.84"/><circle cx="729.3" cy="739.2" r="0.86" fill="#dff0ff" opacity="0.43"/><circle cx="751.9" cy="737.6" r="0.43" fill="#dff0ff" opacity="0.53"/><circle cx="749.5" cy="692.6" r="0.85" fill="#dff0ff" opacity="0.49"/><circle cx="754.0" cy="691.7" r="0.65" fill="#dff0ff" opacity="0.81"/><circle cx="707.6" cy="698.7" r="0.65" fill="#dff0ff" opacity="0.51"/><circle cx="694.5" cy="693.9" r="0.48" fill="#dff0ff" opacity="0.82"/><circle cx="743.6" cy="735.6" r="0.48" fill="#dff0ff" opacity="0.74"/><circle cx="700.5" cy="714.3" r="0.72" fill="#dff0ff" opacity="0.53"/><circle cx="758.4" cy="715.7" r="0.69" fill="#dff0ff" opacity="0.79"/><circle cx="699.7" cy="741.3" r="0.71" fill="#dff0ff" opacity="0.55"/></g><path d="M693.3 687.4C696.9 685.4 706.5 681.8 712.8 681.3C719.1 680.8 725.6 683.6 731.2 684.3C736.8 685.0 741.4 683.9 746.5 685.4C751.6 686.9 758.3 690.6 761.9 693.5C765.5 696.4 766.6 698.2 768.0 702.8C769.4 707.4 770.3 715.6 770.1 721.2C769.9 726.8 768.5 732.8 767.0 736.5C765.5 740.2 764.3 743.5 760.9 743.7C757.5 743.9 752.3 739.0 746.5 737.6C740.7 736.2 732.9 736.2 726.1 735.5C719.3 734.8 711.4 734.7 705.6 733.5C699.8 732.3 693.9 732.9 691.3 728.3C688.6 723.7 689.7 711.6 689.7 705.8C689.7 700.0 690.7 696.6 691.3 693.5C691.9 690.4 689.7 689.4 693.3 687.4Z" fill="none" stroke="#0a71c8" stroke-width="1.4" opacity="0.7" filter="url(#bed)"/></g><path d="M828.4 687.4C831.1 685.7 835.2 683.8 840.7 683.3C846.2 682.8 854.4 683.4 861.2 684.3C868.0 685.1 876.0 686.7 881.6 688.4C887.2 690.1 892.3 692.5 895.0 694.6C897.7 696.7 898.0 698.0 898.0 700.7C898.0 703.4 895.9 707.5 895.0 710.9C894.1 714.3 893.4 717.8 892.9 721.2C892.4 724.6 893.8 728.0 891.9 731.4C890.0 734.8 886.7 739.5 881.6 741.6C876.5 743.7 868.0 743.5 861.2 743.7C854.4 743.9 846.7 743.2 840.7 742.7C834.7 742.2 828.6 743.3 825.4 740.6C822.2 737.9 821.8 731.2 821.3 726.3C820.8 721.3 821.8 716.4 822.3 710.9C822.8 705.4 823.3 697.4 824.3 693.5C825.3 689.6 825.7 689.1 828.4 687.4Z" transform="translate(-2.5 3)" fill="#7a8494" opacity="0.45" filter="url(#bsh)"/><g filter="url(#rough)"><path d="M828.4 687.4C831.1 685.7 835.2 683.8 840.7 683.3C846.2 682.8 854.4 683.4 861.2 684.3C868.0 685.1 876.0 686.7 881.6 688.4C887.2 690.1 892.3 692.5 895.0 694.6C897.7 696.7 898.0 698.0 898.0 700.7C898.0 703.4 895.9 707.5 895.0 710.9C894.1 714.3 893.4 717.8 892.9 721.2C892.4 724.6 893.8 728.0 891.9 731.4C890.0 734.8 886.7 739.5 881.6 741.6C876.5 743.7 868.0 743.5 861.2 743.7C854.4 743.9 846.7 743.2 840.7 742.7C834.7 742.2 828.6 743.3 825.4 740.6C822.2 737.9 821.8 731.2 821.3 726.3C820.8 721.3 821.8 716.4 822.3 710.9C822.8 705.4 823.3 697.4 824.3 693.5C825.3 689.6 825.7 689.1 828.4 687.4Z" fill="url(#bg8)"/><g clip-path="url(#bc8)"><rect x="819.3" y="681.3" width="80.7" height="64.4" filter="url(#speck)" opacity="0.25"/><circle cx="881.3" cy="700.2" r="0.90" fill="#dff0ff" opacity="0.64"/><circle cx="849.5" cy="728.4" r="0.62" fill="#dff0ff" opacity="0.44"/><circle cx="877.4" cy="688.0" r="0.81" fill="#dff0ff" opacity="0.48"/><circle cx="869.8" cy="740.8" r="0.69" fill="#dff0ff" opacity="0.68"/><circle cx="846.0" cy="685.4" r="0.42" fill="#dff0ff" opacity="0.42"/><circle cx="868.1" cy="709.7" r="0.66" fill="#dff0ff" opacity="0.80"/><circle cx="832.9" cy="698.1" r="0.73" fill="#dff0ff" opacity="0.36"/><circle cx="823.5" cy="705.3" r="0.45" fill="#dff0ff" opacity="0.53"/><circle cx="839.6" cy="718.2" r="0.69" fill="#dff0ff" opacity="0.45"/><circle cx="868.7" cy="712.1" r="0.47" fill="#dff0ff" opacity="0.82"/><circle cx="841.0" cy="693.7" r="0.45" fill="#dff0ff" opacity="0.67"/><circle cx="886.6" cy="729.4" r="0.60" fill="#dff0ff" opacity="0.48"/><circle cx="824.1" cy="721.7" r="0.68" fill="#dff0ff" opacity="0.53"/><circle cx="870.2" cy="710.3" r="0.87" fill="#dff0ff" opacity="0.72"/><circle cx="841.4" cy="736.3" r="0.42" fill="#dff0ff" opacity="0.62"/><circle cx="852.8" cy="698.7" r="0.43" fill="#dff0ff" opacity="0.74"/><circle cx="824.2" cy="716.4" r="0.87" fill="#dff0ff" opacity="0.42"/><circle cx="837.8" cy="719.6" r="0.65" fill="#dff0ff" opacity="0.67"/><circle cx="882.4" cy="695.1" r="0.55" fill="#dff0ff" opacity="0.50"/><circle cx="826.8" cy="735.5" r="0.79" fill="#dff0ff" opacity="0.71"/><circle cx="823.8" cy="732.9" r="0.77" fill="#dff0ff" opacity="0.58"/><circle cx="877.2" cy="710.8" r="0.51" fill="#dff0ff" opacity="0.40"/><circle cx="840.2" cy="687.5" r="0.57" fill="#dff0ff" opacity="0.72"/><circle cx="873.8" cy="733.0" r="0.76" fill="#dff0ff" opacity="0.48"/><circle cx="863.6" cy="709.9" r="0.79" fill="#dff0ff" opacity="0.61"/><circle cx="842.6" cy="721.5" r="0.88" fill="#dff0ff" opacity="0.46"/><circle cx="887.3" cy="686.2" r="0.53" fill="#dff0ff" opacity="0.47"/><circle cx="877.4" cy="738.6" r="0.77" fill="#dff0ff" opacity="0.51"/><circle cx="887.3" cy="703.8" r="0.52" fill="#dff0ff" opacity="0.80"/><circle cx="869.2" cy="724.4" r="0.73" fill="#dff0ff" opacity="0.84"/><circle cx="857.4" cy="732.7" r="0.75" fill="#dff0ff" opacity="0.78"/><circle cx="855.1" cy="726.2" r="0.69" fill="#dff0ff" opacity="0.50"/><circle cx="838.7" cy="720.4" r="0.44" fill="#dff0ff" opacity="0.81"/><circle cx="833.8" cy="686.8" r="0.45" fill="#dff0ff" opacity="0.81"/><circle cx="848.4" cy="693.3" r="0.41" fill="#dff0ff" opacity="0.37"/></g><path d="M828.4 687.4C831.1 685.7 835.2 683.8 840.7 683.3C846.2 682.8 854.4 683.4 861.2 684.3C868.0 685.1 876.0 686.7 881.6 688.4C887.2 690.1 892.3 692.5 895.0 694.6C897.7 696.7 898.0 698.0 898.0 700.7C898.0 703.4 895.9 707.5 895.0 710.9C894.1 714.3 893.4 717.8 892.9 721.2C892.4 724.6 893.8 728.0 891.9 731.4C890.0 734.8 886.7 739.5 881.6 741.6C876.5 743.7 868.0 743.5 861.2 743.7C854.4 743.9 846.7 743.2 840.7 742.7C834.7 742.2 828.6 743.3 825.4 740.6C822.2 737.9 821.8 731.2 821.3 726.3C820.8 721.3 821.8 716.4 822.3 710.9C822.8 705.4 823.3 697.4 824.3 693.5C825.3 689.6 825.7 689.1 828.4 687.4Z" fill="none" stroke="#0e489a" stroke-width="1.4" opacity="0.7" filter="url(#bed)"/></g><path d="M196.6 795.5C199.5 794.1 207.2 792.2 213.0 791.4C218.8 790.5 225.6 790.9 231.4 790.4C237.2 789.9 244.6 786.6 247.8 788.3C251.1 790.0 250.4 796.0 250.9 800.6C251.4 805.2 250.6 811.3 250.9 815.9C251.2 820.5 253.4 824.4 252.9 828.2C252.4 832.0 251.4 835.6 247.8 838.5C244.2 841.4 237.6 844.4 231.4 845.6C225.2 846.8 217.4 846.1 210.9 845.6C204.4 845.1 197.1 844.5 192.5 842.6C187.9 840.7 184.0 837.8 183.3 834.4C182.6 831.0 186.9 826.4 188.4 822.1C189.9 817.8 191.3 812.5 192.5 808.8C193.7 805.0 194.9 801.8 195.6 799.6C196.3 797.4 193.7 796.9 196.6 795.5Z" transform="translate(-2.5 3)" fill="#7a8494" opacity="0.45" filter="url(#bsh)"/><g filter="url(#rough)"><path d="M196.6 795.5C199.5 794.1 207.2 792.2 213.0 791.4C218.8 790.5 225.6 790.9 231.4 790.4C237.2 789.9 244.6 786.6 247.8 788.3C251.1 790.0 250.4 796.0 250.9 800.6C251.4 805.2 250.6 811.3 250.9 815.9C251.2 820.5 253.4 824.4 252.9 828.2C252.4 832.0 251.4 835.6 247.8 838.5C244.2 841.4 237.6 844.4 231.4 845.6C225.2 846.8 217.4 846.1 210.9 845.6C204.4 845.1 197.1 844.5 192.5 842.6C187.9 840.7 184.0 837.8 183.3 834.4C182.6 831.0 186.9 826.4 188.4 822.1C189.9 817.8 191.3 812.5 192.5 808.8C193.7 805.0 194.9 801.8 195.6 799.6C196.3 797.4 193.7 796.9 196.6 795.5Z" fill="url(#bg9)"/><g clip-path="url(#bc9)"><rect x="181.3" y="786.3" width="73.6" height="61.3" filter="url(#speck)" opacity="0.25"/><circle cx="230.7" cy="824.1" r="0.75" fill="#dff0ff" opacity="0.72"/><circle cx="189.6" cy="821.8" r="0.58" fill="#dff0ff" opacity="0.76"/><circle cx="239.1" cy="837.8" r="0.43" fill="#dff0ff" opacity="0.78"/><circle cx="245.3" cy="840.6" r="0.45" fill="#dff0ff" opacity="0.45"/><circle cx="192.6" cy="792.1" r="0.82" fill="#dff0ff" opacity="0.76"/><circle cx="226.9" cy="834.3" r="0.72" fill="#dff0ff" opacity="0.49"/><circle cx="191.9" cy="795.5" r="0.78" fill="#dff0ff" opacity="0.45"/><circle cx="206.2" cy="812.9" r="0.41" fill="#dff0ff" opacity="0.48"/><circle cx="203.8" cy="828.5" r="0.58" fill="#dff0ff" opacity="0.51"/><circle cx="248.5" cy="817.1" r="0.83" fill="#dff0ff" opacity="0.66"/><circle cx="187.3" cy="812.3" r="0.62" fill="#dff0ff" opacity="0.74"/><circle cx="208.0" cy="827.9" r="0.67" fill="#dff0ff" opacity="0.46"/><circle cx="241.9" cy="795.1" r="0.81" fill="#dff0ff" opacity="0.44"/><circle cx="185.4" cy="801.1" r="0.78" fill="#dff0ff" opacity="0.84"/><circle cx="185.6" cy="816.5" r="0.65" fill="#dff0ff" opacity="0.75"/><circle cx="197.4" cy="816.7" r="0.57" fill="#dff0ff" opacity="0.77"/><circle cx="202.4" cy="840.6" r="0.54" fill="#dff0ff" opacity="0.46"/><circle cx="231.2" cy="816.9" r="0.45" fill="#dff0ff" opacity="0.67"/><circle cx="190.6" cy="832.3" r="0.75" fill="#dff0ff" opacity="0.74"/><circle cx="226.5" cy="809.3" r="0.60" fill="#dff0ff" opacity="0.55"/><circle cx="243.7" cy="794.9" r="0.84" fill="#dff0ff" opacity="0.36"/><circle cx="198.8" cy="804.3" r="0.85" fill="#dff0ff" opacity="0.60"/><circle cx="210.2" cy="837.4" r="0.52" fill="#dff0ff" opacity="0.58"/><circle cx="220.2" cy="830.5" r="0.78" fill="#dff0ff" opacity="0.67"/><circle cx="208.2" cy="807.7" r="0.48" fill="#dff0ff" opacity="0.77"/><circle cx="228.7" cy="829.8" r="0.48" fill="#dff0ff" opacity="0.57"/><circle cx="236.0" cy="821.2" r="0.46" fill="#dff0ff" opacity="0.58"/><circle cx="243.4" cy="803.0" r="0.50" fill="#dff0ff" opacity="0.50"/><circle cx="231.4" cy="835.3" r="0.48" fill="#dff0ff" opacity="0.43"/><circle cx="201.5" cy="807.7" r="0.66" fill="#dff0ff" opacity="0.43"/><circle cx="206.8" cy="800.4" r="0.89" fill="#dff0ff" opacity="0.71"/><circle cx="192.0" cy="841.6" r="0.45" fill="#dff0ff" opacity="0.54"/><circle cx="249.8" cy="832.7" r="0.77" fill="#dff0ff" opacity="0.57"/><circle cx="198.2" cy="824.3" r="0.45" fill="#dff0ff" opacity="0.45"/><circle cx="210.8" cy="792.1" r="0.60" fill="#dff0ff" opacity="0.75"/></g><path d="M196.6 795.5C199.5 794.1 207.2 792.2 213.0 791.4C218.8 790.5 225.6 790.9 231.4 790.4C237.2 789.9 244.6 786.6 247.8 788.3C251.1 790.0 250.4 796.0 250.9 800.6C251.4 805.2 250.6 811.3 250.9 815.9C251.2 820.5 253.4 824.4 252.9 828.2C252.4 832.0 251.4 835.6 247.8 838.5C244.2 841.4 237.6 844.4 231.4 845.6C225.2 846.8 217.4 846.1 210.9 845.6C204.4 845.1 197.1 844.5 192.5 842.6C187.9 840.7 184.0 837.8 183.3 834.4C182.6 831.0 186.9 826.4 188.4 822.1C189.9 817.8 191.3 812.5 192.5 808.8C193.7 805.0 194.9 801.8 195.6 799.6C196.3 797.4 193.7 796.9 196.6 795.5Z" fill="none" stroke="#126eb7" stroke-width="1.4" opacity="0.7" filter="url(#bed)"/></g><path d="M323.7 779.7C327.8 778.7 339.8 778.1 345.2 779.2C350.6 780.3 352.5 784.0 356.4 786.4C360.3 788.8 364.9 791.1 368.7 793.5C372.4 795.9 376.7 797.5 378.9 800.7C381.1 804.0 380.8 809.6 382.0 813.0C383.2 816.4 386.1 818.5 386.1 821.2C386.1 823.9 384.9 827.0 382.0 829.4C379.1 831.8 374.7 834.8 368.7 835.5C362.7 836.2 353.4 834.0 346.2 833.5C339.0 833.0 331.7 832.8 325.7 832.4C319.7 832.0 313.6 832.6 310.4 831.4C307.2 830.2 306.5 828.7 306.3 825.3C306.1 821.9 307.8 816.0 309.3 811.0C310.8 806.0 313.6 799.9 315.5 795.6C317.4 791.3 319.2 788.0 320.6 785.4C322.0 782.8 319.6 780.7 323.7 779.7Z" transform="translate(-2.5 3)" fill="#7a8494" opacity="0.45" filter="url(#bsh)"/><g filter="url(#rough)"><path d="M323.7 779.7C327.8 778.7 339.8 778.1 345.2 779.2C350.6 780.3 352.5 784.0 356.4 786.4C360.3 788.8 364.9 791.1 368.7 793.5C372.4 795.9 376.7 797.5 378.9 800.7C381.1 804.0 380.8 809.6 382.0 813.0C383.2 816.4 386.1 818.5 386.1 821.2C386.1 823.9 384.9 827.0 382.0 829.4C379.1 831.8 374.7 834.8 368.7 835.5C362.7 836.2 353.4 834.0 346.2 833.5C339.0 833.0 331.7 832.8 325.7 832.4C319.7 832.0 313.6 832.6 310.4 831.4C307.2 830.2 306.5 828.7 306.3 825.3C306.1 821.9 307.8 816.0 309.3 811.0C310.8 806.0 313.6 799.9 315.5 795.6C317.4 791.3 319.2 788.0 320.6 785.4C322.0 782.8 319.6 780.7 323.7 779.7Z" fill="url(#bg10)"/><g clip-path="url(#bc10)"><rect x="304.3" y="777.2" width="83.8" height="60.3" filter="url(#speck)" opacity="0.25"/><circle cx="360.9" cy="807.4" r="0.72" fill="#dff0ff" opacity="0.58"/><circle cx="319.0" cy="812.8" r="0.60" fill="#dff0ff" opacity="0.72"/><circle cx="377.1" cy="803.7" r="0.69" fill="#dff0ff" opacity="0.72"/><circle cx="340.2" cy="793.2" r="0.76" fill="#dff0ff" opacity="0.79"/><circle cx="367.0" cy="817.8" r="0.83" fill="#dff0ff" opacity="0.69"/><circle cx="356.9" cy="804.9" r="0.56" fill="#dff0ff" opacity="0.66"/><circle cx="315.7" cy="803.1" r="0.79" fill="#dff0ff" opacity="0.71"/><circle cx="356.0" cy="794.3" r="0.61" fill="#dff0ff" opacity="0.58"/><circle cx="355.4" cy="802.6" r="0.74" fill="#dff0ff" opacity="0.82"/><circle cx="322.2" cy="815.4" r="0.79" fill="#dff0ff" opacity="0.54"/><circle cx="345.4" cy="832.2" r="0.42" fill="#dff0ff" opacity="0.62"/><circle cx="320.5" cy="822.1" r="0.87" fill="#dff0ff" opacity="0.61"/><circle cx="316.0" cy="811.2" r="0.67" fill="#dff0ff" opacity="0.71"/><circle cx="347.1" cy="814.6" r="0.81" fill="#dff0ff" opacity="0.61"/><circle cx="339.4" cy="830.8" r="0.51" fill="#dff0ff" opacity="0.69"/><circle cx="338.1" cy="821.1" r="0.46" fill="#dff0ff" opacity="0.84"/><circle cx="335.2" cy="784.2" r="0.54" fill="#dff0ff" opacity="0.55"/><circle cx="309.3" cy="803.1" r="0.61" fill="#dff0ff" opacity="0.70"/><circle cx="335.0" cy="795.1" r="0.51" fill="#dff0ff" opacity="0.72"/><circle cx="379.5" cy="808.8" r="0.51" fill="#dff0ff" opacity="0.75"/><circle cx="338.0" cy="792.3" r="0.46" fill="#dff0ff" opacity="0.74"/><circle cx="369.7" cy="814.4" r="0.63" fill="#dff0ff" opacity="0.63"/><circle cx="325.4" cy="831.6" r="0.58" fill="#dff0ff" opacity="0.67"/><circle cx="370.4" cy="823.9" r="0.63" fill="#dff0ff" opacity="0.50"/><circle cx="349.9" cy="787.7" r="0.82" fill="#dff0ff" opacity="0.53"/><circle cx="372.8" cy="795.2" r="0.59" fill="#dff0ff" opacity="0.48"/><circle cx="340.6" cy="790.9" r="0.40" fill="#dff0ff" opacity="0.71"/><circle cx="329.6" cy="794.0" r="0.55" fill="#dff0ff" opacity="0.59"/><circle cx="340.8" cy="814.5" r="0.73" fill="#dff0ff" opacity="0.53"/><circle cx="378.7" cy="825.9" r="0.43" fill="#dff0ff" opacity="0.76"/><circle cx="377.0" cy="822.2" r="0.47" fill="#dff0ff" opacity="0.77"/><circle cx="356.3" cy="782.0" r="0.41" fill="#dff0ff" opacity="0.83"/><circle cx="358.0" cy="794.3" r="0.45" fill="#dff0ff" opacity="0.42"/><circle cx="326.0" cy="821.8" r="0.57" fill="#dff0ff" opacity="0.43"/><circle cx="376.8" cy="822.6" r="0.48" fill="#dff0ff" opacity="0.80"/></g><path d="M323.7 779.7C327.8 778.7 339.8 778.1 345.2 779.2C350.6 780.3 352.5 784.0 356.4 786.4C360.3 788.8 364.9 791.1 368.7 793.5C372.4 795.9 376.7 797.5 378.9 800.7C381.1 804.0 380.8 809.6 382.0 813.0C383.2 816.4 386.1 818.5 386.1 821.2C386.1 823.9 384.9 827.0 382.0 829.4C379.1 831.8 374.7 834.8 368.7 835.5C362.7 836.2 353.4 834.0 346.2 833.5C339.0 833.0 331.7 832.8 325.7 832.4C319.7 832.0 313.6 832.6 310.4 831.4C307.2 830.2 306.5 828.7 306.3 825.3C306.1 821.9 307.8 816.0 309.3 811.0C310.8 806.0 313.6 799.9 315.5 795.6C317.4 791.3 319.2 788.0 320.6 785.4C322.0 782.8 319.6 780.7 323.7 779.7Z" fill="none" stroke="#1047a0" stroke-width="1.4" opacity="0.7" filter="url(#bed)"/></g><path d="M448.4 782.9C451.9 781.8 460.6 780.5 466.8 780.1C473.0 779.7 479.3 780.3 485.3 780.6C491.3 780.9 499.3 780.7 502.8 782.0C506.3 783.3 505.9 784.3 506.5 788.4C507.1 792.5 506.4 800.6 506.5 806.8C506.6 812.9 507.9 819.8 507.4 825.3C506.9 830.8 507.4 836.9 503.7 840.0C500.0 843.1 491.4 842.6 485.3 843.7C479.2 844.8 472.6 846.8 466.8 846.5C461.0 846.2 454.4 844.1 450.3 841.8C446.2 839.5 443.5 836.9 442.0 832.6C440.5 828.3 441.1 821.9 441.1 816.1C441.1 810.3 441.2 802.5 442.0 797.6C442.8 792.7 444.6 789.1 445.7 786.6C446.8 784.1 444.9 784.0 448.4 782.9Z" transform="translate(-2.5 3)" fill="#7a8494" opacity="0.45" filter="url(#bsh)"/><g filter="url(#rough)"><path d="M448.4 782.9C451.9 781.8 460.6 780.5 466.8 780.1C473.0 779.7 479.3 780.3 485.3 780.6C491.3 780.9 499.3 780.7 502.8 782.0C506.3 783.3 505.9 784.3 506.5 788.4C507.1 792.5 506.4 800.6 506.5 806.8C506.6 812.9 507.9 819.8 507.4 825.3C506.9 830.8 507.4 836.9 503.7 840.0C500.0 843.1 491.4 842.6 485.3 843.7C479.2 844.8 472.6 846.8 466.8 846.5C461.0 846.2 454.4 844.1 450.3 841.8C446.2 839.5 443.5 836.9 442.0 832.6C440.5 828.3 441.1 821.9 441.1 816.1C441.1 810.3 441.2 802.5 442.0 797.6C442.8 792.7 444.6 789.1 445.7 786.6C446.8 784.1 444.9 784.0 448.4 782.9Z" fill="url(#bg11)"/><g clip-path="url(#bc11)"><rect x="439.1" y="778.1" width="70.3" height="70.4" filter="url(#speck)" opacity="0.25"/><circle cx="481.0" cy="830.9" r="0.73" fill="#dff0ff" opacity="0.80"/><circle cx="492.2" cy="834.4" r="0.50" fill="#dff0ff" opacity="0.70"/><circle cx="476.2" cy="828.4" r="0.62" fill="#dff0ff" opacity="0.79"/><circle cx="477.7" cy="798.6" r="0.52" fill="#dff0ff" opacity="0.42"/><circle cx="473.8" cy="785.7" r="0.63" fill="#dff0ff" opacity="0.42"/><circle cx="473.7" cy="813.2" r="0.67" fill="#dff0ff" opacity="0.78"/><circle cx="443.5" cy="834.6" r="0.63" fill="#dff0ff" opacity="0.63"/><circle cx="484.5" cy="834.6" r="0.59" fill="#dff0ff" opacity="0.56"/><circle cx="502.9" cy="786.8" r="0.72" fill="#dff0ff" opacity="0.67"/><circle cx="444.9" cy="820.1" r="0.74" fill="#dff0ff" opacity="0.82"/><circle cx="463.7" cy="843.4" r="0.66" fill="#dff0ff" opacity="0.59"/><circle cx="499.0" cy="784.2" r="0.76" fill="#dff0ff" opacity="0.66"/><circle cx="464.2" cy="835.9" r="0.58" fill="#dff0ff" opacity="0.59"/><circle cx="475.8" cy="830.2" r="0.51" fill="#dff0ff" opacity="0.57"/><circle cx="469.4" cy="816.7" r="0.81" fill="#dff0ff" opacity="0.50"/><circle cx="494.7" cy="807.3" r="0.65" fill="#dff0ff" opacity="0.49"/><circle cx="474.7" cy="842.9" r="0.73" fill="#dff0ff" opacity="0.75"/><circle cx="463.7" cy="801.9" r="0.55" fill="#dff0ff" opacity="0.64"/><circle cx="482.6" cy="831.0" r="0.42" fill="#dff0ff" opacity="0.71"/><circle cx="498.3" cy="816.1" r="0.42" fill="#dff0ff" opacity="0.50"/><circle cx="443.5" cy="794.0" r="0.86" fill="#dff0ff" opacity="0.65"/><circle cx="484.1" cy="831.3" r="0.85" fill="#dff0ff" opacity="0.66"/><circle cx="481.5" cy="821.2" r="0.75" fill="#dff0ff" opacity="0.65"/><circle cx="485.5" cy="795.4" r="0.73" fill="#dff0ff" opacity="0.58"/><circle cx="490.6" cy="788.4" r="0.49" fill="#dff0ff" opacity="0.37"/><circle cx="491.4" cy="839.1" r="0.73" fill="#dff0ff" opacity="0.53"/><circle cx="494.3" cy="831.2" r="0.68" fill="#dff0ff" opacity="0.48"/><circle cx="461.9" cy="808.4" r="0.56" fill="#dff0ff" opacity="0.57"/><circle cx="483.1" cy="840.4" r="0.43" fill="#dff0ff" opacity="0.63"/><circle cx="445.6" cy="789.5" r="0.81" fill="#dff0ff" opacity="0.64"/><circle cx="500.3" cy="810.0" r="0.41" fill="#dff0ff" opacity="0.54"/><circle cx="480.0" cy="840.6" r="0.89" fill="#dff0ff" opacity="0.59"/><circle cx="468.8" cy="788.5" r="0.72" fill="#dff0ff" opacity="0.46"/><circle cx="452.6" cy="783.1" r="0.40" fill="#dff0ff" opacity="0.69"/><circle cx="450.7" cy="842.4" r="0.44" fill="#dff0ff" opacity="0.78"/><circle cx="451.1" cy="783.2" r="0.76" fill="#dff0ff" opacity="0.47"/><circle cx="488.8" cy="793.8" r="0.43" fill="#dff0ff" opacity="0.74"/><circle cx="487.6" cy="835.5" r="0.76" fill="#dff0ff" opacity="0.39"/><circle cx="482.3" cy="826.4" r="0.63" fill="#dff0ff" opacity="0.82"/><circle cx="458.9" cy="842.3" r="0.76" fill="#dff0ff" opacity="0.36"/><circle cx="444.0" cy="822.7" r="0.81" fill="#dff0ff" opacity="0.39"/><circle cx="462.5" cy="827.6" r="0.48" fill="#dff0ff" opacity="0.78"/><circle cx="473.4" cy="785.8" r="0.58" fill="#dff0ff" opacity="0.64"/><circle cx="470.4" cy="824.3" r="0.47" fill="#dff0ff" opacity="0.75"/><circle cx="465.7" cy="822.3" r="0.71" fill="#dff0ff" opacity="0.56"/><circle cx="467.1" cy="831.2" r="0.87" fill="#dff0ff" opacity="0.74"/><circle cx="478.4" cy="800.3" r="0.43" fill="#dff0ff" opacity="0.84"/><circle cx="486.9" cy="833.7" r="0.57" fill="#dff0ff" opacity="0.65"/><circle cx="504.0" cy="834.0" r="0.70" fill="#dff0ff" opacity="0.50"/><circle cx="469.8" cy="837.5" r="0.59" fill="#dff0ff" opacity="0.69"/></g><path d="M448.4 782.9C451.9 781.8 460.6 780.5 466.8 780.1C473.0 779.7 479.3 780.3 485.3 780.6C491.3 780.9 499.3 780.7 502.8 782.0C506.3 783.3 505.9 784.3 506.5 788.4C507.1 792.5 506.4 800.6 506.5 806.8C506.6 812.9 507.9 819.8 507.4 825.3C506.9 830.8 507.4 836.9 503.7 840.0C500.0 843.1 491.4 842.6 485.3 843.7C479.2 844.8 472.6 846.8 466.8 846.5C461.0 846.2 454.4 844.1 450.3 841.8C446.2 839.5 443.5 836.9 442.0 832.6C440.5 828.3 441.1 821.9 441.1 816.1C441.1 810.3 441.2 802.5 442.0 797.6C442.8 792.7 444.6 789.1 445.7 786.6C446.8 784.1 444.9 784.0 448.4 782.9Z" fill="none" stroke="#2d92bf" stroke-width="1.4" opacity="0.7" filter="url(#bed)"/></g><path d="M574.4 791.5C578.1 789.5 587.4 788.1 593.9 787.6C600.4 787.1 607.1 788.4 613.3 788.6C619.4 788.8 627.1 787.3 630.8 788.6C634.5 789.9 634.7 792.2 635.7 796.4C636.7 800.6 637.0 808.1 636.7 813.9C636.4 819.7 635.8 826.9 633.8 831.4C631.8 835.9 630.0 839.8 625.0 841.1C620.0 842.4 609.8 838.9 603.6 839.2C597.5 839.5 593.0 843.3 588.1 843.1C583.2 842.9 577.8 840.5 574.4 838.2C571.0 835.9 568.6 833.5 567.6 829.5C566.6 825.5 568.0 818.9 568.6 813.9C569.2 808.9 570.5 803.0 571.5 799.3C572.5 795.6 570.7 793.5 574.4 791.5Z" transform="translate(-2.5 3)" fill="#7a8494" opacity="0.45" filter="url(#bsh)"/><g filter="url(#rough)"><path d="M574.4 791.5C578.1 789.5 587.4 788.1 593.9 787.6C600.4 787.1 607.1 788.4 613.3 788.6C619.4 788.8 627.1 787.3 630.8 788.6C634.5 789.9 634.7 792.2 635.7 796.4C636.7 800.6 637.0 808.1 636.7 813.9C636.4 819.7 635.8 826.9 633.8 831.4C631.8 835.9 630.0 839.8 625.0 841.1C620.0 842.4 609.8 838.9 603.6 839.2C597.5 839.5 593.0 843.3 588.1 843.1C583.2 842.9 577.8 840.5 574.4 838.2C571.0 835.9 568.6 833.5 567.6 829.5C566.6 825.5 568.0 818.9 568.6 813.9C569.2 808.9 570.5 803.0 571.5 799.3C572.5 795.6 570.7 793.5 574.4 791.5Z" fill="url(#bg12)"/><g clip-path="url(#bc12)"><rect x="565.6" y="785.6" width="73.1" height="59.5" filter="url(#speck)" opacity="0.25"/><circle cx="608.8" cy="835.7" r="0.80" fill="#dff0ff" opacity="0.49"/><circle cx="569.7" cy="803.1" r="0.61" fill="#dff0ff" opacity="0.64"/><circle cx="622.7" cy="835.3" r="0.42" fill="#dff0ff" opacity="0.77"/><circle cx="622.4" cy="834.3" r="0.69" fill="#dff0ff" opacity="0.49"/><circle cx="625.0" cy="831.2" r="0.74" fill="#dff0ff" opacity="0.81"/><circle cx="592.2" cy="794.0" r="0.68" fill="#dff0ff" opacity="0.75"/><circle cx="582.6" cy="828.2" r="0.87" fill="#dff0ff" opacity="0.47"/><circle cx="609.1" cy="824.5" r="0.63" fill="#dff0ff" opacity="0.45"/><circle cx="586.2" cy="828.3" r="0.80" fill="#dff0ff" opacity="0.58"/><circle cx="575.3" cy="831.1" r="0.79" fill="#dff0ff" opacity="0.47"/><circle cx="607.3" cy="835.8" r="0.84" fill="#dff0ff" opacity="0.61"/><circle cx="600.6" cy="820.0" r="0.49" fill="#dff0ff" opacity="0.45"/><circle cx="581.4" cy="825.7" r="0.58" fill="#dff0ff" opacity="0.63"/><circle cx="595.8" cy="816.2" r="0.47" fill="#dff0ff" opacity="0.37"/><circle cx="634.5" cy="808.9" r="0.45" fill="#dff0ff" opacity="0.67"/><circle cx="620.9" cy="797.6" r="0.70" fill="#dff0ff" opacity="0.52"/><circle cx="603.4" cy="790.7" r="0.42" fill="#dff0ff" opacity="0.85"/><circle cx="626.0" cy="814.6" r="0.68" fill="#dff0ff" opacity="0.48"/><circle cx="620.3" cy="811.5" r="0.87" fill="#dff0ff" opacity="0.73"/><circle cx="622.9" cy="839.2" r="0.53" fill="#dff0ff" opacity="0.37"/><circle cx="582.7" cy="798.9" r="0.44" fill="#dff0ff" opacity="0.38"/><circle cx="605.9" cy="834.4" r="0.63" fill="#dff0ff" opacity="0.82"/><circle cx="628.8" cy="792.9" r="0.70" fill="#dff0ff" opacity="0.55"/><circle cx="577.4" cy="839.0" r="0.53" fill="#dff0ff" opacity="0.63"/><circle cx="611.3" cy="838.9" r="0.73" fill="#dff0ff" opacity="0.55"/><circle cx="598.8" cy="797.8" r="0.88" fill="#dff0ff" opacity="0.85"/><circle cx="584.0" cy="791.6" r="0.53" fill="#dff0ff" opacity="0.53"/><circle cx="628.4" cy="836.2" r="0.82" fill="#dff0ff" opacity="0.37"/><circle cx="620.8" cy="826.1" r="0.72" fill="#dff0ff" opacity="0.84"/><circle cx="573.2" cy="797.1" r="0.78" fill="#dff0ff" opacity="0.82"/><circle cx="613.7" cy="805.0" r="0.70" fill="#dff0ff" opacity="0.73"/><circle cx="576.5" cy="806.3" r="0.53" fill="#dff0ff" opacity="0.41"/><circle cx="600.9" cy="798.3" r="0.52" fill="#dff0ff" opacity="0.42"/><circle cx="613.7" cy="790.2" r="0.76" fill="#dff0ff" opacity="0.45"/><circle cx="571.9" cy="837.4" r="0.51" fill="#dff0ff" opacity="0.82"/></g><path d="M574.4 791.5C578.1 789.5 587.4 788.1 593.9 787.6C600.4 787.1 607.1 788.4 613.3 788.6C619.4 788.8 627.1 787.3 630.8 788.6C634.5 789.9 634.7 792.2 635.7 796.4C636.7 800.6 637.0 808.1 636.7 813.9C636.4 819.7 635.8 826.9 633.8 831.4C631.8 835.9 630.0 839.8 625.0 841.1C620.0 842.4 609.8 838.9 603.6 839.2C597.5 839.5 593.0 843.3 588.1 843.1C583.2 842.9 577.8 840.5 574.4 838.2C571.0 835.9 568.6 833.5 567.6 829.5C566.6 825.5 568.0 818.9 568.6 813.9C569.2 808.9 570.5 803.0 571.5 799.3C572.5 795.6 570.7 793.5 574.4 791.5Z" fill="none" stroke="#1677bb" stroke-width="1.4" opacity="0.7" filter="url(#bed)"/></g><path d="M703.4 798.0C706.0 795.5 711.0 795.1 714.5 793.4C718.0 791.7 720.6 788.2 724.6 787.9C728.6 787.6 734.2 789.6 738.4 791.6C742.5 793.6 747.0 796.8 749.5 799.9C752.0 803.0 751.8 807.1 753.2 810.0C754.6 812.9 757.5 815.1 757.8 817.4C758.1 819.7 757.1 822.1 755.0 823.8C752.9 825.5 748.9 826.6 744.9 827.5C740.9 828.4 735.2 828.7 731.1 829.3C727.0 829.9 723.9 831.2 720.0 831.2C716.1 831.2 711.1 831.0 708.0 829.3C704.9 827.6 703.1 824.6 701.6 821.1C700.1 817.6 698.5 812.1 698.8 808.2C699.1 804.4 700.8 800.5 703.4 798.0Z" transform="translate(-2.5 3)" fill="#7a8494" opacity="0.45" filter="url(#bsh)"/><g filter="url(#rough)"><path d="M703.4 798.0C706.0 795.5 711.0 795.1 714.5 793.4C718.0 791.7 720.6 788.2 724.6 787.9C728.6 787.6 734.2 789.6 738.4 791.6C742.5 793.6 747.0 796.8 749.5 799.9C752.0 803.0 751.8 807.1 753.2 810.0C754.6 812.9 757.5 815.1 757.8 817.4C758.1 819.7 757.1 822.1 755.0 823.8C752.9 825.5 748.9 826.6 744.9 827.5C740.9 828.4 735.2 828.7 731.1 829.3C727.0 829.9 723.9 831.2 720.0 831.2C716.1 831.2 711.1 831.0 708.0 829.3C704.9 827.6 703.1 824.6 701.6 821.1C700.1 817.6 698.5 812.1 698.8 808.2C699.1 804.4 700.8 800.5 703.4 798.0Z" fill="url(#bg13)"/><g clip-path="url(#bc13)"><rect x="696.8" y="785.9" width="63.0" height="47.3" filter="url(#speck)" opacity="0.25"/><circle cx="748.5" cy="824.8" r="0.47" fill="#dff0ff" opacity="0.57"/><circle cx="706.1" cy="826.4" r="0.82" fill="#dff0ff" opacity="0.66"/><circle cx="725.7" cy="803.3" r="0.81" fill="#dff0ff" opacity="0.59"/><circle cx="735.4" cy="795.5" r="0.51" fill="#dff0ff" opacity="0.38"/><circle cx="740.1" cy="811.6" r="0.47" fill="#dff0ff" opacity="0.79"/><circle cx="715.5" cy="806.1" r="0.48" fill="#dff0ff" opacity="0.49"/><circle cx="747.0" cy="803.0" r="0.48" fill="#dff0ff" opacity="0.60"/><circle cx="718.3" cy="825.4" r="0.46" fill="#dff0ff" opacity="0.84"/><circle cx="703.9" cy="825.1" r="0.73" fill="#dff0ff" opacity="0.46"/><circle cx="727.1" cy="801.1" r="0.53" fill="#dff0ff" opacity="0.45"/><circle cx="720.8" cy="828.8" r="0.90" fill="#dff0ff" opacity="0.81"/><circle cx="706.2" cy="801.3" r="0.85" fill="#dff0ff" opacity="0.38"/><circle cx="740.8" cy="801.4" r="0.89" fill="#dff0ff" opacity="0.36"/><circle cx="745.2" cy="803.3" r="0.47" fill="#dff0ff" opacity="0.35"/><circle cx="746.6" cy="810.6" r="0.49" fill="#dff0ff" opacity="0.57"/><circle cx="751.0" cy="798.5" r="0.69" fill="#dff0ff" opacity="0.42"/><circle cx="710.7" cy="820.2" r="0.76" fill="#dff0ff" opacity="0.45"/><circle cx="705.2" cy="793.3" r="0.70" fill="#dff0ff" opacity="0.60"/><circle cx="715.9" cy="798.0" r="0.71" fill="#dff0ff" opacity="0.70"/><circle cx="745.4" cy="812.8" r="0.50" fill="#dff0ff" opacity="0.38"/></g><path d="M703.4 798.0C706.0 795.5 711.0 795.1 714.5 793.4C718.0 791.7 720.6 788.2 724.6 787.9C728.6 787.6 734.2 789.6 738.4 791.6C742.5 793.6 747.0 796.8 749.5 799.9C752.0 803.0 751.8 807.1 753.2 810.0C754.6 812.9 757.5 815.1 757.8 817.4C758.1 819.7 757.1 822.1 755.0 823.8C752.9 825.5 748.9 826.6 744.9 827.5C740.9 828.4 735.2 828.7 731.1 829.3C727.0 829.9 723.9 831.2 720.0 831.2C716.1 831.2 711.1 831.0 708.0 829.3C704.9 827.6 703.1 824.6 701.6 821.1C700.1 817.6 698.5 812.1 698.8 808.2C699.1 804.4 700.8 800.5 703.4 798.0Z" fill="none" stroke="#104ba2" stroke-width="1.4" opacity="0.7" filter="url(#bed)"/></g><path d="M834.1 791.5C836.4 790.2 841.4 789.6 845.5 788.9C849.6 788.2 854.1 786.9 858.5 787.2C862.9 787.5 867.8 788.8 871.6 790.7C875.4 792.6 879.1 796.2 881.1 798.5C883.1 800.8 884.3 802.0 883.7 804.6C883.1 807.2 878.3 810.7 877.6 814.2C876.9 817.7 878.8 821.9 879.4 825.5C880.0 829.1 882.4 833.1 881.1 835.9C879.8 838.6 875.1 840.5 871.6 842.0C868.1 843.5 863.8 844.8 860.2 844.6C856.6 844.5 854.1 843.3 849.8 841.1C845.4 838.9 837.6 835.4 834.1 831.6C830.6 827.8 829.8 822.9 828.9 818.5C828.0 814.1 828.5 809.1 828.9 805.5C829.3 801.9 830.6 799.1 831.5 796.8C832.4 794.5 831.8 792.8 834.1 791.5Z" transform="translate(-2.5 3)" fill="#7a8494" opacity="0.45" filter="url(#bsh)"/><g filter="url(#rough)"><path d="M834.1 791.5C836.4 790.2 841.4 789.6 845.5 788.9C849.6 788.2 854.1 786.9 858.5 787.2C862.9 787.5 867.8 788.8 871.6 790.7C875.4 792.6 879.1 796.2 881.1 798.5C883.1 800.8 884.3 802.0 883.7 804.6C883.1 807.2 878.3 810.7 877.6 814.2C876.9 817.7 878.8 821.9 879.4 825.5C880.0 829.1 882.4 833.1 881.1 835.9C879.8 838.6 875.1 840.5 871.6 842.0C868.1 843.5 863.8 844.8 860.2 844.6C856.6 844.5 854.1 843.3 849.8 841.1C845.4 838.9 837.6 835.4 834.1 831.6C830.6 827.8 829.8 822.9 828.9 818.5C828.0 814.1 828.5 809.1 828.9 805.5C829.3 801.9 830.6 799.1 831.5 796.8C832.4 794.5 831.8 792.8 834.1 791.5Z" fill="url(#bg14)"/><g clip-path="url(#bc14)"><rect x="826.9" y="785.2" width="58.8" height="61.4" filter="url(#speck)" opacity="0.25"/><circle cx="868.1" cy="811.0" r="0.76" fill="#dff0ff" opacity="0.38"/><circle cx="872.1" cy="807.1" r="0.82" fill="#dff0ff" opacity="0.78"/><circle cx="855.9" cy="790.0" r="0.86" fill="#dff0ff" opacity="0.59"/><circle cx="875.2" cy="803.4" r="0.49" fill="#dff0ff" opacity="0.77"/><circle cx="849.5" cy="797.9" r="0.59" fill="#dff0ff" opacity="0.65"/><circle cx="831.1" cy="817.0" r="0.62" fill="#dff0ff" opacity="0.61"/><circle cx="837.0" cy="827.4" r="0.81" fill="#dff0ff" opacity="0.78"/><circle cx="847.2" cy="827.2" r="0.59" fill="#dff0ff" opacity="0.73"/><circle cx="834.0" cy="835.8" r="0.88" fill="#dff0ff" opacity="0.60"/><circle cx="857.0" cy="817.5" r="0.67" fill="#dff0ff" opacity="0.36"/><circle cx="880.0" cy="801.1" r="0.49" fill="#dff0ff" opacity="0.40"/><circle cx="843.6" cy="832.8" r="0.42" fill="#dff0ff" opacity="0.40"/><circle cx="866.4" cy="799.6" r="0.41" fill="#dff0ff" opacity="0.65"/><circle cx="860.2" cy="817.1" r="0.75" fill="#dff0ff" opacity="0.40"/><circle cx="875.1" cy="827.5" r="0.42" fill="#dff0ff" opacity="0.41"/></g><path d="M834.1 791.5C836.4 790.2 841.4 789.6 845.5 788.9C849.6 788.2 854.1 786.9 858.5 787.2C862.9 787.5 867.8 788.8 871.6 790.7C875.4 792.6 879.1 796.2 881.1 798.5C883.1 800.8 884.3 802.0 883.7 804.6C883.1 807.2 878.3 810.7 877.6 814.2C876.9 817.7 878.8 821.9 879.4 825.5C880.0 829.1 882.4 833.1 881.1 835.9C879.8 838.6 875.1 840.5 871.6 842.0C868.1 843.5 863.8 844.8 860.2 844.6C856.6 844.5 854.1 843.3 849.8 841.1C845.4 838.9 837.6 835.4 834.1 831.6C830.6 827.8 829.8 822.9 828.9 818.5C828.0 814.1 828.5 809.1 828.9 805.5C829.3 801.9 830.6 799.1 831.5 796.8C832.4 794.5 831.8 792.8 834.1 791.5Z" fill="none" stroke="#0e4ba2" stroke-width="1.4" opacity="0.7" filter="url(#bed)"/></g><path d="M192.4 895.7C195.3 894.2 201.2 893.8 205.5 893.1C209.8 892.4 213.7 891.6 218.5 891.3C223.3 891.0 230.4 890.6 234.2 891.3C238.0 892.0 239.4 893.0 241.1 895.7C242.8 898.5 243.3 903.4 244.6 907.8C245.9 912.1 248.7 918.2 249.0 921.8C249.3 925.4 248.5 927.3 246.3 929.6C244.1 931.9 240.5 934.2 235.9 935.7C231.3 937.2 224.3 938.1 218.5 938.3C212.7 938.4 205.7 937.5 201.1 936.6C196.5 935.7 193.3 935.3 190.7 933.1C188.1 930.9 186.3 927.3 185.4 923.5C184.5 919.7 185.0 914.1 185.4 910.5C185.8 906.9 186.9 904.3 188.1 901.8C189.3 899.3 189.5 897.2 192.4 895.7Z" transform="translate(-2.5 3)" fill="#7a8494" opacity="0.45" filter="url(#bsh)"/><g filter="url(#rough)"><path d="M192.4 895.7C195.3 894.2 201.2 893.8 205.5 893.1C209.8 892.4 213.7 891.6 218.5 891.3C223.3 891.0 230.4 890.6 234.2 891.3C238.0 892.0 239.4 893.0 241.1 895.7C242.8 898.5 243.3 903.4 244.6 907.8C245.9 912.1 248.7 918.2 249.0 921.8C249.3 925.4 248.5 927.3 246.3 929.6C244.1 931.9 240.5 934.2 235.9 935.7C231.3 937.2 224.3 938.1 218.5 938.3C212.7 938.4 205.7 937.5 201.1 936.6C196.5 935.7 193.3 935.3 190.7 933.1C188.1 930.9 186.3 927.3 185.4 923.5C184.5 919.7 185.0 914.1 185.4 910.5C185.8 906.9 186.9 904.3 188.1 901.8C189.3 899.3 189.5 897.2 192.4 895.7Z" fill="url(#bg15)"/><g clip-path="url(#bc15)"><rect x="183.4" y="889.3" width="67.6" height="51.0" filter="url(#speck)" opacity="0.25"/><circle cx="216.8" cy="914.8" r="0.54" fill="#dff0ff" opacity="0.41"/><circle cx="211.6" cy="899.2" r="0.70" fill="#dff0ff" opacity="0.78"/><circle cx="196.2" cy="917.9" r="0.77" fill="#dff0ff" opacity="0.43"/><circle cx="236.6" cy="933.6" r="0.59" fill="#dff0ff" opacity="0.56"/><circle cx="237.4" cy="915.9" r="0.60" fill="#dff0ff" opacity="0.82"/><circle cx="233.7" cy="907.9" r="0.52" fill="#dff0ff" opacity="0.52"/><circle cx="213.4" cy="935.5" r="0.80" fill="#dff0ff" opacity="0.81"/><circle cx="236.0" cy="929.7" r="0.43" fill="#dff0ff" opacity="0.61"/><circle cx="244.5" cy="933.5" r="0.52" fill="#dff0ff" opacity="0.56"/><circle cx="225.1" cy="909.0" r="0.67" fill="#dff0ff" opacity="0.38"/><circle cx="213.2" cy="915.0" r="0.41" fill="#dff0ff" opacity="0.42"/><circle cx="245.2" cy="926.7" r="0.87" fill="#dff0ff" opacity="0.67"/><circle cx="235.6" cy="931.3" r="0.84" fill="#dff0ff" opacity="0.37"/><circle cx="225.6" cy="904.7" r="0.74" fill="#dff0ff" opacity="0.49"/><circle cx="219.7" cy="933.0" r="0.71" fill="#dff0ff" opacity="0.48"/><circle cx="218.4" cy="911.9" r="0.88" fill="#dff0ff" opacity="0.49"/><circle cx="205.6" cy="921.1" r="0.46" fill="#dff0ff" opacity="0.65"/><circle cx="244.4" cy="915.4" r="0.53" fill="#dff0ff" opacity="0.58"/><circle cx="219.2" cy="899.7" r="0.46" fill="#dff0ff" opacity="0.42"/><circle cx="204.9" cy="910.8" r="0.54" fill="#dff0ff" opacity="0.47"/><circle cx="192.6" cy="916.8" r="0.82" fill="#dff0ff" opacity="0.65"/><circle cx="221.4" cy="921.3" r="0.50" fill="#dff0ff" opacity="0.71"/><circle cx="214.9" cy="916.9" r="0.71" fill="#dff0ff" opacity="0.58"/><circle cx="205.9" cy="903.7" r="0.51" fill="#dff0ff" opacity="0.61"/><circle cx="210.2" cy="918.5" r="0.41" fill="#dff0ff" opacity="0.53"/><circle cx="238.8" cy="903.6" r="0.68" fill="#dff0ff" opacity="0.60"/><circle cx="204.4" cy="935.8" r="0.55" fill="#dff0ff" opacity="0.74"/><circle cx="196.9" cy="896.2" r="0.84" fill="#dff0ff" opacity="0.57"/><circle cx="191.1" cy="910.0" r="0.62" fill="#dff0ff" opacity="0.72"/><circle cx="193.9" cy="903.0" r="0.88" fill="#dff0ff" opacity="0.72"/><circle cx="196.6" cy="907.8" r="0.58" fill="#dff0ff" opacity="0.69"/><circle cx="224.1" cy="929.8" r="0.81" fill="#dff0ff" opacity="0.61"/><circle cx="231.4" cy="925.3" r="0.78" fill="#dff0ff" opacity="0.59"/><circle cx="234.2" cy="923.8" r="0.86" fill="#dff0ff" opacity="0.41"/><circle cx="239.3" cy="893.5" r="0.78" fill="#dff0ff" opacity="0.64"/></g><path d="M192.4 895.7C195.3 894.2 201.2 893.8 205.5 893.1C209.8 892.4 213.7 891.6 218.5 891.3C223.3 891.0 230.4 890.6 234.2 891.3C238.0 892.0 239.4 893.0 241.1 895.7C242.8 898.5 243.3 903.4 244.6 907.8C245.9 912.1 248.7 918.2 249.0 921.8C249.3 925.4 248.5 927.3 246.3 929.6C244.1 931.9 240.5 934.2 235.9 935.7C231.3 937.2 224.3 938.1 218.5 938.3C212.7 938.4 205.7 937.5 201.1 936.6C196.5 935.7 193.3 935.3 190.7 933.1C188.1 930.9 186.3 927.3 185.4 923.5C184.5 919.7 185.0 914.1 185.4 910.5C185.8 906.9 186.9 904.3 188.1 901.8C189.3 899.3 189.5 897.2 192.4 895.7Z" fill="none" stroke="#10439c" stroke-width="1.4" opacity="0.7" filter="url(#bed)"/></g><path d="M322.9 894.5C324.9 892.8 328.5 889.8 332.9 888.7C337.3 887.6 344.8 887.6 349.4 888.0C353.9 888.4 357.2 889.5 360.2 890.9C363.2 892.3 366.1 894.2 367.3 896.6C368.5 899.0 367.9 902.3 367.3 905.2C366.7 908.1 365.1 911.2 363.7 913.8C362.3 916.4 361.1 919.3 358.7 921.0C356.3 922.7 352.3 924.0 349.4 923.9C346.5 923.8 343.3 920.1 341.5 920.3C339.7 920.5 340.8 924.6 338.7 925.3C336.6 926.0 331.1 925.8 328.6 924.6C326.1 923.4 325.0 920.9 323.6 918.1C322.2 915.4 320.5 911.3 320.0 908.1C319.5 904.9 320.2 901.1 320.7 898.8C321.2 896.5 320.9 896.2 322.9 894.5Z" transform="translate(-2.5 3)" fill="#7a8494" opacity="0.45" filter="url(#bsh)"/><g filter="url(#rough)"><path d="M322.9 894.5C324.9 892.8 328.5 889.8 332.9 888.7C337.3 887.6 344.8 887.6 349.4 888.0C353.9 888.4 357.2 889.5 360.2 890.9C363.2 892.3 366.1 894.2 367.3 896.6C368.5 899.0 367.9 902.3 367.3 905.2C366.7 908.1 365.1 911.2 363.7 913.8C362.3 916.4 361.1 919.3 358.7 921.0C356.3 922.7 352.3 924.0 349.4 923.9C346.5 923.8 343.3 920.1 341.5 920.3C339.7 920.5 340.8 924.6 338.7 925.3C336.6 926.0 331.1 925.8 328.6 924.6C326.1 923.4 325.0 920.9 323.6 918.1C322.2 915.4 320.5 911.3 320.0 908.1C319.5 904.9 320.2 901.1 320.7 898.8C321.2 896.5 320.9 896.2 322.9 894.5Z" fill="url(#bg16)"/><g clip-path="url(#bc16)"><rect x="318.0" y="886.0" width="51.3" height="41.3" filter="url(#speck)" opacity="0.25"/><circle cx="343.6" cy="922.1" r="0.69" fill="#dff0ff" opacity="0.56"/><circle cx="355.9" cy="919.1" r="0.70" fill="#dff0ff" opacity="0.54"/><circle cx="341.6" cy="905.2" r="0.76" fill="#dff0ff" opacity="0.50"/><circle cx="338.9" cy="908.5" r="0.59" fill="#dff0ff" opacity="0.51"/><circle cx="356.1" cy="918.3" r="0.65" fill="#dff0ff" opacity="0.57"/><circle cx="330.0" cy="900.1" r="0.47" fill="#dff0ff" opacity="0.64"/><circle cx="347.2" cy="892.9" r="0.86" fill="#dff0ff" opacity="0.51"/><circle cx="358.5" cy="917.9" r="0.88" fill="#dff0ff" opacity="0.45"/><circle cx="340.5" cy="920.3" r="0.41" fill="#dff0ff" opacity="0.37"/><circle cx="346.5" cy="906.6" r="0.86" fill="#dff0ff" opacity="0.74"/><circle cx="345.3" cy="923.2" r="0.66" fill="#dff0ff" opacity="0.61"/><circle cx="351.7" cy="903.0" r="0.58" fill="#dff0ff" opacity="0.65"/><circle cx="337.2" cy="921.6" r="0.74" fill="#dff0ff" opacity="0.61"/><circle cx="326.3" cy="902.5" r="0.60" fill="#dff0ff" opacity="0.63"/><circle cx="346.9" cy="919.3" r="0.88" fill="#dff0ff" opacity="0.59"/><circle cx="341.1" cy="910.8" r="0.90" fill="#dff0ff" opacity="0.52"/><circle cx="345.0" cy="917.2" r="0.49" fill="#dff0ff" opacity="0.51"/><circle cx="364.4" cy="917.5" r="0.66" fill="#dff0ff" opacity="0.41"/><circle cx="360.7" cy="913.0" r="0.81" fill="#dff0ff" opacity="0.85"/><circle cx="360.5" cy="904.0" r="0.48" fill="#dff0ff" opacity="0.49"/><circle cx="344.2" cy="906.8" r="0.49" fill="#dff0ff" opacity="0.44"/><circle cx="349.3" cy="910.1" r="0.58" fill="#dff0ff" opacity="0.85"/><circle cx="349.6" cy="891.4" r="0.61" fill="#dff0ff" opacity="0.74"/><circle cx="335.3" cy="913.0" r="0.40" fill="#dff0ff" opacity="0.50"/><circle cx="358.5" cy="909.5" r="0.73" fill="#dff0ff" opacity="0.45"/><circle cx="343.6" cy="908.4" r="0.53" fill="#dff0ff" opacity="0.67"/><circle cx="345.0" cy="923.2" r="0.69" fill="#dff0ff" opacity="0.56"/><circle cx="327.3" cy="895.2" r="0.78" fill="#dff0ff" opacity="0.40"/><circle cx="326.3" cy="895.7" r="0.66" fill="#dff0ff" opacity="0.76"/><circle cx="348.5" cy="916.9" r="0.43" fill="#dff0ff" opacity="0.36"/></g><path d="M322.9 894.5C324.9 892.8 328.5 889.8 332.9 888.7C337.3 887.6 344.8 887.6 349.4 888.0C353.9 888.4 357.2 889.5 360.2 890.9C363.2 892.3 366.1 894.2 367.3 896.6C368.5 899.0 367.9 902.3 367.3 905.2C366.7 908.1 365.1 911.2 363.7 913.8C362.3 916.4 361.1 919.3 358.7 921.0C356.3 922.7 352.3 924.0 349.4 923.9C346.5 923.8 343.3 920.1 341.5 920.3C339.7 920.5 340.8 924.6 338.7 925.3C336.6 926.0 331.1 925.8 328.6 924.6C326.1 923.4 325.0 920.9 323.6 918.1C322.2 915.4 320.5 911.3 320.0 908.1C319.5 904.9 320.2 901.1 320.7 898.8C321.2 896.5 320.9 896.2 322.9 894.5Z" fill="none" stroke="#1c256a" stroke-width="1.4" opacity="0.7" filter="url(#bed)"/></g><path d="M447.4 890.0C451.4 886.4 460.7 882.8 466.5 881.3C472.3 879.8 477.8 880.7 482.2 881.3C486.6 881.9 489.9 883.0 492.6 884.8C495.4 886.5 497.2 888.5 498.7 891.8C500.1 895.1 500.9 900.0 501.3 904.8C501.7 909.6 501.9 916.1 501.3 920.5C500.7 924.9 501.1 928.7 497.9 930.9C494.7 933.1 487.0 932.9 482.2 933.5C477.4 934.1 473.5 933.8 469.2 934.4C464.9 935.0 459.9 937.6 456.1 937.0C452.3 936.4 448.7 934.1 446.5 930.9C444.3 927.7 443.8 922.5 443.1 917.9C442.4 913.3 441.5 907.8 442.2 903.1C442.9 898.5 443.3 893.6 447.4 890.0Z" transform="translate(-2.5 3)" fill="#7a8494" opacity="0.45" filter="url(#bsh)"/><g filter="url(#rough)"><path d="M447.4 890.0C451.4 886.4 460.7 882.8 466.5 881.3C472.3 879.8 477.8 880.7 482.2 881.3C486.6 881.9 489.9 883.0 492.6 884.8C495.4 886.5 497.2 888.5 498.7 891.8C500.1 895.1 500.9 900.0 501.3 904.8C501.7 909.6 501.9 916.1 501.3 920.5C500.7 924.9 501.1 928.7 497.9 930.9C494.7 933.1 487.0 932.9 482.2 933.5C477.4 934.1 473.5 933.8 469.2 934.4C464.9 935.0 459.9 937.6 456.1 937.0C452.3 936.4 448.7 934.1 446.5 930.9C444.3 927.7 443.8 922.5 443.1 917.9C442.4 913.3 441.5 907.8 442.2 903.1C442.9 898.5 443.3 893.6 447.4 890.0Z" fill="url(#bg17)"/><g clip-path="url(#bc17)"><rect x="440.2" y="879.3" width="63.1" height="59.7" filter="url(#speck)" opacity="0.25"/><circle cx="486.7" cy="900.0" r="0.76" fill="#dff0ff" opacity="0.53"/><circle cx="453.5" cy="897.1" r="0.45" fill="#dff0ff" opacity="0.80"/><circle cx="476.3" cy="901.3" r="0.62" fill="#dff0ff" opacity="0.54"/><circle cx="447.2" cy="929.3" r="0.69" fill="#dff0ff" opacity="0.83"/><circle cx="468.4" cy="915.4" r="0.52" fill="#dff0ff" opacity="0.37"/><circle cx="495.5" cy="927.5" r="0.56" fill="#dff0ff" opacity="0.80"/><circle cx="489.2" cy="899.0" r="0.70" fill="#dff0ff" opacity="0.83"/><circle cx="471.5" cy="932.4" r="0.52" fill="#dff0ff" opacity="0.54"/><circle cx="483.8" cy="894.7" r="0.55" fill="#dff0ff" opacity="0.79"/><circle cx="470.9" cy="924.3" r="0.52" fill="#dff0ff" opacity="0.44"/><circle cx="463.9" cy="892.9" r="0.89" fill="#dff0ff" opacity="0.50"/><circle cx="475.1" cy="889.2" r="0.67" fill="#dff0ff" opacity="0.54"/><circle cx="466.4" cy="886.7" r="0.46" fill="#dff0ff" opacity="0.76"/><circle cx="463.6" cy="896.0" r="0.50" fill="#dff0ff" opacity="0.49"/><circle cx="457.3" cy="885.1" r="0.73" fill="#dff0ff" opacity="0.52"/><circle cx="452.8" cy="919.8" r="0.45" fill="#dff0ff" opacity="0.48"/><circle cx="490.2" cy="889.9" r="0.62" fill="#dff0ff" opacity="0.77"/><circle cx="488.6" cy="891.5" r="0.58" fill="#dff0ff" opacity="0.71"/><circle cx="465.0" cy="932.8" r="0.50" fill="#dff0ff" opacity="0.83"/><circle cx="472.0" cy="895.1" r="0.63" fill="#dff0ff" opacity="0.42"/><circle cx="483.1" cy="896.8" r="0.85" fill="#dff0ff" opacity="0.64"/><circle cx="464.5" cy="896.0" r="0.70" fill="#dff0ff" opacity="0.46"/><circle cx="492.3" cy="889.6" r="0.66" fill="#dff0ff" opacity="0.62"/><circle cx="459.1" cy="923.2" r="0.59" fill="#dff0ff" opacity="0.68"/><circle cx="475.5" cy="899.4" r="0.59" fill="#dff0ff" opacity="0.39"/></g><path d="M447.4 890.0C451.4 886.4 460.7 882.8 466.5 881.3C472.3 879.8 477.8 880.7 482.2 881.3C486.6 881.9 489.9 883.0 492.6 884.8C495.4 886.5 497.2 888.5 498.7 891.8C500.1 895.1 500.9 900.0 501.3 904.8C501.7 909.6 501.9 916.1 501.3 920.5C500.7 924.9 501.1 928.7 497.9 930.9C494.7 933.1 487.0 932.9 482.2 933.5C477.4 934.1 473.5 933.8 469.2 934.4C464.9 935.0 459.9 937.6 456.1 937.0C452.3 936.4 448.7 934.1 446.5 930.9C444.3 927.7 443.8 922.5 443.1 917.9C442.4 913.3 441.5 907.8 442.2 903.1C442.9 898.5 443.3 893.6 447.4 890.0Z" fill="none" stroke="#1069b7" stroke-width="1.4" opacity="0.7" filter="url(#bed)"/></g><path d="M579.3 892.3C582.3 890.3 589.7 887.3 595.1 886.6C600.5 885.9 607.8 886.8 611.6 888.0C615.4 889.2 616.7 891.4 618.0 893.8C619.3 896.2 618.5 899.7 619.5 902.4C620.5 905.1 623.8 907.8 623.8 910.2C623.8 912.6 622.1 914.4 619.5 916.7C616.9 919.0 612.1 922.5 608.0 923.9C603.9 925.3 599.1 925.5 595.1 925.3C591.1 925.0 587.3 924.1 584.3 922.4C581.3 920.7 578.6 917.9 577.2 915.3C575.8 912.7 575.7 909.5 575.7 906.7C575.7 904.0 576.6 901.2 577.2 898.8C577.8 896.4 576.3 894.3 579.3 892.3Z" transform="translate(-2.5 3)" fill="#7a8494" opacity="0.45" filter="url(#bsh)"/><g filter="url(#rough)"><path d="M579.3 892.3C582.3 890.3 589.7 887.3 595.1 886.6C600.5 885.9 607.8 886.8 611.6 888.0C615.4 889.2 616.7 891.4 618.0 893.8C619.3 896.2 618.5 899.7 619.5 902.4C620.5 905.1 623.8 907.8 623.8 910.2C623.8 912.6 622.1 914.4 619.5 916.7C616.9 919.0 612.1 922.5 608.0 923.9C603.9 925.3 599.1 925.5 595.1 925.3C591.1 925.0 587.3 924.1 584.3 922.4C581.3 920.7 578.6 917.9 577.2 915.3C575.8 912.7 575.7 909.5 575.7 906.7C575.7 904.0 576.6 901.2 577.2 898.8C577.8 896.4 576.3 894.3 579.3 892.3Z" fill="url(#bg18)"/><g clip-path="url(#bc18)"><rect x="573.7" y="884.6" width="52.1" height="42.7" filter="url(#speck)" opacity="0.25"/><circle cx="585.5" cy="918.1" r="0.56" fill="#dff0ff" opacity="0.68"/><circle cx="582.5" cy="908.1" r="0.58" fill="#dff0ff" opacity="0.60"/><circle cx="590.8" cy="890.9" r="0.56" fill="#dff0ff" opacity="0.46"/><circle cx="583.3" cy="913.5" r="0.54" fill="#dff0ff" opacity="0.55"/><circle cx="617.8" cy="915.5" r="0.84" fill="#dff0ff" opacity="0.78"/><circle cx="583.5" cy="898.2" r="0.41" fill="#dff0ff" opacity="0.69"/><circle cx="607.0" cy="900.8" r="0.61" fill="#dff0ff" opacity="0.68"/><circle cx="608.5" cy="897.2" r="0.82" fill="#dff0ff" opacity="0.53"/><circle cx="605.4" cy="894.9" r="0.46" fill="#dff0ff" opacity="0.81"/><circle cx="610.1" cy="913.3" r="0.42" fill="#dff0ff" opacity="0.37"/><circle cx="584.8" cy="895.5" r="0.55" fill="#dff0ff" opacity="0.54"/><circle cx="579.4" cy="899.4" r="0.72" fill="#dff0ff" opacity="0.44"/><circle cx="614.7" cy="908.4" r="0.76" fill="#dff0ff" opacity="0.48"/><circle cx="596.9" cy="912.3" r="0.57" fill="#dff0ff" opacity="0.35"/><circle cx="614.5" cy="915.5" r="0.54" fill="#dff0ff" opacity="0.37"/></g><path d="M579.3 892.3C582.3 890.3 589.7 887.3 595.1 886.6C600.5 885.9 607.8 886.8 611.6 888.0C615.4 889.2 616.7 891.4 618.0 893.8C619.3 896.2 618.5 899.7 619.5 902.4C620.5 905.1 623.8 907.8 623.8 910.2C623.8 912.6 622.1 914.4 619.5 916.7C616.9 919.0 612.1 922.5 608.0 923.9C603.9 925.3 599.1 925.5 595.1 925.3C591.1 925.0 587.3 924.1 584.3 922.4C581.3 920.7 578.6 917.9 577.2 915.3C575.8 912.7 575.7 909.5 575.7 906.7C575.7 904.0 576.6 901.2 577.2 898.8C577.8 896.4 576.3 894.3 579.3 892.3Z" fill="none" stroke="#16348d" stroke-width="1.4" opacity="0.7" filter="url(#bed)"/></g><path d="M703.9 900.5C704.6 898.0 704.6 897.1 708.0 896.4C711.4 895.6 719.8 895.6 724.4 896.0C729.0 896.4 732.1 897.6 735.9 898.8C739.7 899.9 744.3 901.5 747.3 902.9C750.3 904.3 752.9 905.1 753.9 907.0C754.9 908.9 755.3 912.5 753.1 914.4C750.9 916.3 745.2 917.3 740.8 918.5C736.4 919.7 731.2 920.8 726.8 921.8C722.4 922.8 717.7 924.6 714.6 924.2C711.5 923.8 709.8 921.5 708.0 919.3C706.2 917.1 704.6 914.2 703.9 911.1C703.2 908.0 703.2 903.0 703.9 900.5Z" transform="translate(-2.5 3)" fill="#7a8494" opacity="0.45" filter="url(#bsh)"/><g filter="url(#rough)"><path d="M703.9 900.5C704.6 898.0 704.6 897.1 708.0 896.4C711.4 895.6 719.8 895.6 724.4 896.0C729.0 896.4 732.1 897.6 735.9 898.8C739.7 899.9 744.3 901.5 747.3 902.9C750.3 904.3 752.9 905.1 753.9 907.0C754.9 908.9 755.3 912.5 753.1 914.4C750.9 916.3 745.2 917.3 740.8 918.5C736.4 919.7 731.2 920.8 726.8 921.8C722.4 922.8 717.7 924.6 714.6 924.2C711.5 923.8 709.8 921.5 708.0 919.3C706.2 917.1 704.6 914.2 703.9 911.1C703.2 908.0 703.2 903.0 703.9 900.5Z" fill="url(#bg19)"/><g clip-path="url(#bc19)"><rect x="701.9" y="894.0" width="54.0" height="32.2" filter="url(#speck)" opacity="0.25"/><circle cx="745.2" cy="912.7" r="0.42" fill="#dff0ff" opacity="0.47"/><circle cx="711.0" cy="917.2" r="0.51" fill="#dff0ff" opacity="0.81"/><circle cx="740.4" cy="900.1" r="0.75" fill="#dff0ff" opacity="0.55"/><circle cx="740.3" cy="918.1" r="0.54" fill="#dff0ff" opacity="0.39"/><circle cx="749.4" cy="908.3" r="0.87" fill="#dff0ff" opacity="0.70"/><circle cx="739.9" cy="918.1" r="0.71" fill="#dff0ff" opacity="0.58"/><circle cx="708.4" cy="914.9" r="0.61" fill="#dff0ff" opacity="0.61"/><circle cx="748.6" cy="901.1" r="0.78" fill="#dff0ff" opacity="0.37"/><circle cx="738.2" cy="917.5" r="0.53" fill="#dff0ff" opacity="0.62"/><circle cx="750.5" cy="913.4" r="0.67" fill="#dff0ff" opacity="0.47"/><circle cx="708.6" cy="906.7" r="0.61" fill="#dff0ff" opacity="0.45"/><circle cx="720.2" cy="901.3" r="0.75" fill="#dff0ff" opacity="0.69"/></g><path d="M703.9 900.5C704.6 898.0 704.6 897.1 708.0 896.4C711.4 895.6 719.8 895.6 724.4 896.0C729.0 896.4 732.1 897.6 735.9 898.8C739.7 899.9 744.3 901.5 747.3 902.9C750.3 904.3 752.9 905.1 753.9 907.0C754.9 908.9 755.3 912.5 753.1 914.4C750.9 916.3 745.2 917.3 740.8 918.5C736.4 919.7 731.2 920.8 726.8 921.8C722.4 922.8 717.7 924.6 714.6 924.2C711.5 923.8 709.8 921.5 708.0 919.3C706.2 917.1 704.6 914.2 703.9 911.1C703.2 908.0 703.2 903.0 703.9 900.5Z" fill="none" stroke="#1b2974" stroke-width="1.4" opacity="0.7" filter="url(#bed)"/></g><path d="M839.1 903.4C841.4 902.1 847.0 899.6 850.8 899.1C854.6 898.6 858.1 899.8 861.8 900.4C865.5 901.0 870.8 901.7 872.9 902.8C875.0 903.9 874.3 905.1 874.1 907.1C873.9 909.1 873.2 912.5 871.7 914.5C870.2 916.5 867.8 918.1 864.9 919.4C862.0 920.7 857.9 922.0 854.5 922.5C851.1 923.0 847.5 922.8 844.7 922.5C841.9 922.2 839.2 922.1 837.9 920.6C836.6 919.1 836.8 915.5 836.7 913.3C836.6 911.0 836.9 908.8 837.3 907.1C837.7 905.5 836.9 904.7 839.1 903.4Z" transform="translate(-2.5 3)" fill="#7a8494" opacity="0.45" filter="url(#bsh)"/><g filter="url(#rough)"><path d="M839.1 903.4C841.4 902.1 847.0 899.6 850.8 899.1C854.6 898.6 858.1 899.8 861.8 900.4C865.5 901.0 870.8 901.7 872.9 902.8C875.0 903.9 874.3 905.1 874.1 907.1C873.9 909.1 873.2 912.5 871.7 914.5C870.2 916.5 867.8 918.1 864.9 919.4C862.0 920.7 857.9 922.0 854.5 922.5C851.1 923.0 847.5 922.8 844.7 922.5C841.9 922.2 839.2 922.1 837.9 920.6C836.6 919.1 836.8 915.5 836.7 913.3C836.6 911.0 836.9 908.8 837.3 907.1C837.7 905.5 836.9 904.7 839.1 903.4Z" fill="url(#bg20)"/><g clip-path="url(#bc20)"><rect x="834.7" y="897.1" width="41.4" height="27.4" filter="url(#speck)" opacity="0.25"/><circle cx="846.6" cy="905.8" r="0.66" fill="#dff0ff" opacity="0.57"/><circle cx="870.0" cy="907.9" r="0.55" fill="#dff0ff" opacity="0.79"/><circle cx="843.4" cy="912.0" r="0.57" fill="#dff0ff" opacity="0.76"/><circle cx="857.0" cy="915.9" r="0.48" fill="#dff0ff" opacity="0.68"/><circle cx="858.7" cy="910.0" r="0.78" fill="#dff0ff" opacity="0.77"/><circle cx="842.5" cy="906.7" r="0.58" fill="#dff0ff" opacity="0.45"/><circle cx="840.7" cy="906.5" r="0.50" fill="#dff0ff" opacity="0.70"/><circle cx="853.7" cy="903.3" r="0.56" fill="#dff0ff" opacity="0.58"/><circle cx="850.8" cy="904.4" r="0.44" fill="#dff0ff" opacity="0.36"/><circle cx="871.8" cy="915.7" r="0.44" fill="#dff0ff" opacity="0.71"/></g><path d="M839.1 903.4C841.4 902.1 847.0 899.6 850.8 899.1C854.6 898.6 858.1 899.8 861.8 900.4C865.5 901.0 870.8 901.7 872.9 902.8C875.0 903.9 874.3 905.1 874.1 907.1C873.9 909.1 873.2 912.5 871.7 914.5C870.2 916.5 867.8 918.1 864.9 919.4C862.0 920.7 857.9 922.0 854.5 922.5C851.1 923.0 847.5 922.8 844.7 922.5C841.9 922.2 839.2 922.1 837.9 920.6C836.6 919.1 836.8 915.5 836.7 913.3C836.6 911.0 836.9 908.8 837.3 907.1C837.7 905.5 836.9 904.7 839.1 903.4Z" fill="none" stroke="#192359" stroke-width="1.4" opacity="0.7" filter="url(#bed)"/></g><text x="213.8" y="544.1" font-size="24.2" text-anchor="middle" font-weight="normal" >Cell-free</text><text x="213.8" y="572.8" font-size="24.2" text-anchor="middle" font-weight="normal" >control</text><text x="346.5" y="558.5" font-size="24.2" text-anchor="middle" font-weight="normal" >7 days</text><text x="473.4" y="558.5" font-size="24.2" text-anchor="middle" font-weight="normal" >10 days</text><text x="600.6" y="558.5" font-size="24.2" text-anchor="middle" font-weight="normal" >14 days</text><text x="728" y="558.5" font-size="24.2" text-anchor="middle" font-weight="normal" >21 days</text><text x="855" y="558.5" font-size="24.2" text-anchor="middle" font-weight="normal" >28 days</text><text x="71.3" y="623" font-size="24.2">Hμ-S<tspan font-size="15" dy="3">L</tspan><tspan dy="-3">2</tspan></text><text x="71.3" y="720.9" font-size="24.2">Hμ-S<tspan font-size="15" dy="3">L</tspan><tspan dy="-3">4</tspan></text><text x="63.6" y="817.8" font-size="24.2">SHμ-S<tspan font-size="15" dy="3">L</tspan><tspan dy="-3">2</tspan></text><text x="63.6" y="915.1" font-size="24.2">SHμ-S<tspan font-size="15" dy="3">L</tspan><tspan dy="-3">4</tspan></text><text x="487" y="1001" font-size="26.5" text-anchor="middle">(<tspan font-weight="bold">b</tspan>)</text><text x="185.7" y="1035.4" font-size="27" text-anchor="middle" font-weight="normal" >Cell-free</text><text x="185.7" y="1067.6" font-size="27" text-anchor="middle" font-weight="normal" >control</text><text x="328.7" y="1064.5" font-size="27" text-anchor="middle" font-weight="normal" >7 days</text><text x="471.2" y="1064.5" font-size="27" text-anchor="middle" font-weight="normal" >10 days</text><text x="613.7" y="1064.5" font-size="27" text-anchor="middle" font-weight="normal" >14 days</text><text x="756.2" y="1064.5" font-size="27" text-anchor="middle" font-weight="normal" >21 days</text><text x="898.7" y="1064.5" font-size="27" text-anchor="middle" font-weight="normal" >28 days</text><text x="20.3" y="1136" font-size="27">Hμ-S<tspan font-size="17" dy="3.5">L</tspan><tspan dy="-3.5">2</tspan></text><text x="20.3" y="1244.1" font-size="27">Hμ-S<tspan font-size="17" dy="3.5">L</tspan><tspan dy="-3.5">4</tspan></text><text x="13.0" y="1353.4" font-size="27">SHμ-S<tspan font-size="17" dy="3.5">L</tspan><tspan dy="-3.5">2</tspan></text><text x="13.0" y="1462.5" font-size="27">SHμ-S<tspan font-size="17" dy="3.5">L</tspan><tspan dy="-3.5">4</tspan></text><g clip-path="url(#tc00)"><g filter="url(#tf00)"><rect x="89.4" y="1048.4" width="75.0" height="63.8" fill="#506e96"/><rect x="163.9" y="1048.4" width="45.0" height="63.8" fill="#286496"/><rect x="208.5" y="1048.4" width="75.0" height="63.8" fill="#3c96d2"/><rect x="89.4" y="1111.7" width="75.0" height="33.8" fill="#3278aa"/><rect x="163.9" y="1111.7" width="45.0" height="33.8" fill="#1e5a8c"/><rect x="208.5" y="1111.7" width="75.0" height="33.8" fill="#46a5d7"/><rect x="89.4" y="1144.9" width="75.0" height="63.8" fill="#286ea0"/><rect x="163.9" y="1144.9" width="45.0" height="63.8" fill="#286ea0"/><rect x="208.5" y="1144.9" width="75.0" height="63.8" fill="#50aad7"/></g><rect x="119.4" y="1078.4" width="133.6" height="99.8" filter="url(#vein0)" opacity="0.21"/><path d="M119.4 1078.4L136.8 1078.4L132.8 1088.4L127.4 1100.4L125.4 1116.3L119.4 1123.3Z" fill="#f2f2f0" opacity="1.0"/><ellipse cx="130.1" cy="1108.3" rx="6.7" ry="14.0" fill="#051830" opacity="0.8" filter="url(#fb1_00)"/><ellipse cx="163.5" cy="1113.3" rx="20.0" ry="20.0" fill="#0a2a50" opacity="0.55" filter="url(#fb2_00)"/><ellipse cx="135.4" cy="1140.3" rx="8.0" ry="10.0" fill="#0a2a50" opacity="0.5" filter="url(#fb1_00)"/><ellipse cx="156.8" cy="1168.2" rx="9.4" ry="9.0" fill="#081830" opacity="0.9" filter="url(#fb1_00)"/><ellipse cx="192.9" cy="1164.2" rx="8.0" ry="7.0" fill="#081828" opacity="0.9" filter="url(#fb1_00)"/><ellipse cx="155.5" cy="1085.4" rx="8.0" ry="8.0" fill="#d0f0f8" opacity="0.7" filter="url(#fb1_00)"/><ellipse cx="192.9" cy="1103.4" rx="5.3" ry="15.0" fill="#a0e0f0" opacity="0.5" filter="url(#fb1_00)"/><ellipse cx="207.6" cy="1153.2" rx="10.7" ry="15.0" fill="#c0ecf8" opacity="0.5" filter="url(#fb1_00)"/><ellipse cx="179.5" cy="1138.3" rx="6.7" ry="10.0" fill="#a0d8e8" opacity="0.4" filter="url(#fb1_00)"/><ellipse cx="233.0" cy="1113.3" rx="8.0" ry="20.0" fill="#90d8f0" opacity="0.4" filter="url(#fb1_00)"/><rect x="238.0" y="1171.2" width="12.5" height="5" fill="#f6f6f6" stroke="#888" stroke-width="0.6"/></g><g clip-path="url(#tc01)"><g filter="url(#tf01)"><rect x="231.9" y="1048.4" width="75.0" height="63.8" fill="#3264d7"/><rect x="306.4" y="1048.4" width="45.0" height="63.8" fill="#2855cd"/><rect x="351.0" y="1048.4" width="75.0" height="63.8" fill="#2d5fd2"/><rect x="231.9" y="1111.7" width="75.0" height="33.8" fill="#3269dc"/><rect x="306.4" y="1111.7" width="45.0" height="33.8" fill="#2855cd"/><rect x="351.0" y="1111.7" width="75.0" height="33.8" fill="#3269dc"/><rect x="231.9" y="1144.9" width="75.0" height="63.8" fill="#2855c8"/><rect x="306.4" y="1144.9" width="45.0" height="63.8" fill="#1c37a0"/><rect x="351.0" y="1144.9" width="75.0" height="63.8" fill="#264bbe"/></g><rect x="261.9" y="1078.4" width="133.6" height="99.8" filter="url(#vein1)" opacity="0.30"/><ellipse cx="265.9" cy="1140.3" rx="5.3" ry="12.0" fill="#5a9af0" opacity="0.5" filter="url(#fb1_01)"/><ellipse cx="335.4" cy="1153.2" rx="16.0" ry="10.0" fill="#182a80" opacity="0.5" filter="url(#fb2_01)"/><rect x="380.5" y="1171.2" width="12.5" height="5" fill="#f6f6f6" stroke="#888" stroke-width="0.6"/></g><g clip-path="url(#tc02)"><g filter="url(#tf02)"><rect x="374.4" y="1048.4" width="75.0" height="63.8" fill="#3296eb"/><rect x="448.9" y="1048.4" width="45.0" height="63.8" fill="#1e6edc"/><rect x="493.5" y="1048.4" width="75.0" height="63.8" fill="#2882e6"/><rect x="374.4" y="1111.7" width="75.0" height="33.8" fill="#2d8ce6"/><rect x="448.9" y="1111.7" width="45.0" height="33.8" fill="#1455c8"/><rect x="493.5" y="1111.7" width="75.0" height="33.8" fill="#3296eb"/><rect x="374.4" y="1144.9" width="75.0" height="63.8" fill="#1e6ed7"/><rect x="448.9" y="1144.9" width="45.0" height="63.8" fill="#1450be"/><rect x="493.5" y="1144.9" width="75.0" height="63.8" fill="#2373d7"/></g><rect x="404.4" y="1078.4" width="133.6" height="99.8" filter="url(#vein2)" opacity="0.18"/><ellipse cx="433.8" cy="1173.2" rx="10.7" ry="7.0" fill="#102c80" opacity="0.7" filter="url(#fb1_02)"/><ellipse cx="420.4" cy="1113.3" rx="13.4" ry="20.0" fill="#60c0f4" opacity="0.6" filter="url(#fb2_02)"/><ellipse cx="518.0" cy="1123.3" rx="13.4" ry="15.0" fill="#60c0f4" opacity="0.5" filter="url(#fb2_02)"/><ellipse cx="484.6" cy="1086.4" rx="13.4" ry="8.0" fill="#50b0f0" opacity="0.5" filter="url(#fb2_02)"/><ellipse cx="464.5" cy="1128.3" rx="18.7" ry="24.9" fill="#0a3a9a" opacity="0.4" filter="url(#fb2_02)"/><path d="M444.5 1108.3L451.2 1093.4L471.2 1090.4L484.6 1103.4L487.2 1128.3L477.9 1153.2" fill="none" stroke="#0a3080" stroke-width="4" stroke-linecap="round" stroke-linejoin="round" opacity="0.35" filter="url(#fb1_02)"/><rect x="523.0" y="1171.2" width="12.5" height="5" fill="#f6f6f6" stroke="#888" stroke-width="0.6"/></g><g clip-path="url(#tc10)"><g filter="url(#tf10)"><rect x="89.4" y="1157.0" width="75.0" height="63.8" fill="#1e5587"/><rect x="163.9" y="1157.0" width="45.0" height="63.8" fill="#3c78a0"/><rect x="208.5" y="1157.0" width="75.0" height="63.8" fill="#28699b"/><rect x="89.4" y="1220.3" width="75.0" height="33.8" fill="#3278a0"/><rect x="163.9" y="1220.3" width="45.0" height="33.8" fill="#4b87aa"/><rect x="208.5" y="1220.3" width="75.0" height="33.8" fill="#285f87"/><rect x="89.4" y="1253.5" width="75.0" height="63.8" fill="#1e557d"/><rect x="163.9" y="1253.5" width="45.0" height="63.8" fill="#326e91"/><rect x="208.5" y="1253.5" width="75.0" height="63.8" fill="#3c789b"/></g><rect x="119.4" y="1187.0" width="133.6" height="99.8" filter="url(#vein6)" opacity="0.15"/><ellipse cx="182.2" cy="1207.0" rx="12.0" ry="12.0" fill="#7a9cb0" fill-opacity="0.3" stroke="#0a1a28" stroke-width="2.2" stroke-opacity="0.85" filter="url(#fb0_10)"/><ellipse cx="156.8" cy="1214.9" rx="5.3" ry="6.0" fill="#5a80a0" fill-opacity="0.25" stroke="#0a1a28" stroke-width="1.8" stroke-opacity="0.8" filter="url(#fb0_10)"/><ellipse cx="199.6" cy="1213.9" rx="6.7" ry="7.0" fill="#5a80a0" fill-opacity="0.25" stroke="#0a1a28" stroke-width="1.8" stroke-opacity="0.8" filter="url(#fb0_10)"/><ellipse cx="223.6" cy="1236.9" rx="10.7" ry="12.0" fill="#6a90a8" fill-opacity="0.25" stroke="#0a1a28" stroke-width="2.2" stroke-opacity="0.85" filter="url(#fb0_10)"/><ellipse cx="215.6" cy="1261.8" rx="10.7" ry="11.0" fill="#6a90a8" fill-opacity="0.25" stroke="#0a1a28" stroke-width="2.2" stroke-opacity="0.85" filter="url(#fb0_10)"/><ellipse cx="188.9" cy="1261.8" rx="8.0" ry="8.0" fill="#4a7090" fill-opacity="0.25" stroke="#0a1a28" stroke-width="1.8" stroke-opacity="0.8" filter="url(#fb0_10)"/><ellipse cx="179.5" cy="1244.9" rx="6.7" ry="6.0" fill="#4a7090" fill-opacity="0.25" stroke="#0a1a28" stroke-width="1.8" stroke-opacity="0.8" filter="url(#fb0_10)"/><ellipse cx="151.5" cy="1251.9" rx="6.7" ry="7.0" fill="#4a7090" fill-opacity="0.25" stroke="#0a1a28" stroke-width="1.8" stroke-opacity="0.8" filter="url(#fb0_10)"/><ellipse cx="172.8" cy="1274.8" rx="6.7" ry="7.0" fill="#4a7090" fill-opacity="0.25" stroke="#0a1a28" stroke-width="1.8" stroke-opacity="0.8" filter="url(#fb0_10)"/><ellipse cx="126.1" cy="1256.9" rx="6.7" ry="7.0" fill="#4a7090" fill-opacity="0.25" stroke="#0a1a28" stroke-width="1.8" stroke-opacity="0.8" filter="url(#fb0_10)"/><ellipse cx="146.1" cy="1231.9" rx="8.0" ry="10.0" fill="#b0d8e8" opacity="0.5" filter="url(#fb1_10)"/><ellipse cx="159.5" cy="1241.9" rx="13.4" ry="12.0" fill="#a0d8f0" opacity="0.5" filter="url(#fb2_10)"/><ellipse cx="206.2" cy="1221.9" rx="10.7" ry="10.0" fill="#90d0ec" opacity="0.45" filter="url(#fb2_10)"/><ellipse cx="132.8" cy="1271.8" rx="16.0" ry="15.0" fill="#0a2a48" opacity="0.5" filter="url(#fb2_10)"/><ellipse cx="239.6" cy="1197.0" rx="13.4" ry="12.0" fill="#0a3050" opacity="0.4" filter="url(#fb2_10)"/><rect x="238.0" y="1279.8" width="12.5" height="5" fill="#f6f6f6" stroke="#888" stroke-width="0.6"/></g><g clip-path="url(#tc11)"><g filter="url(#tf11)"><rect x="231.9" y="1157.0" width="75.0" height="63.8" fill="#50646e"/><rect x="306.4" y="1157.0" width="45.0" height="63.8" fill="#64787d"/><rect x="351.0" y="1157.0" width="75.0" height="63.8" fill="#505a5a"/><rect x="231.9" y="1220.3" width="75.0" height="33.8" fill="#647887"/><rect x="306.4" y="1220.3" width="45.0" height="33.8" fill="#829696"/><rect x="351.0" y="1220.3" width="75.0" height="33.8" fill="#5a6464"/><rect x="231.9" y="1253.5" width="75.0" height="63.8" fill="#465564"/><rect x="306.4" y="1253.5" width="45.0" height="63.8" fill="#788787"/><rect x="351.0" y="1253.5" width="75.0" height="63.8" fill="#6e7373"/></g><rect x="261.9" y="1187.0" width="133.6" height="99.8" filter="url(#vein7)" opacity="0.36"/><path d="M275.3 1187.0L277.9 1207.0L272.6 1221.9L268.6 1236.9" fill="none" stroke="#101818" stroke-width="3" stroke-linecap="round" stroke-linejoin="round" opacity="0.7" filter="url(#fb0_11)"/><path d="M348.7 1197.0L362.1 1216.9L358.1 1236.9L366.1 1251.9L375.5 1246.9" fill="none" stroke="#101818" stroke-width="3" stroke-linecap="round" stroke-linejoin="round" opacity="0.7" filter="url(#fb0_11)"/><path d="M382.1 1187.0L384.8 1212.0L388.8 1231.9" fill="none" stroke="#101818" stroke-width="3" stroke-linecap="round" stroke-linejoin="round" opacity="0.7" filter="url(#fb0_11)"/><path d="M261.9 1266.8L272.6 1271.8L275.3 1281.8" fill="none" stroke="#101818" stroke-width="3" stroke-linecap="round" stroke-linejoin="round" opacity="0.6" filter="url(#fb0_11)"/><path d="M335.4 1266.8L339.4 1281.8" fill="none" stroke="#101818" stroke-width="2.5" stroke-linecap="round" stroke-linejoin="round" opacity="0.6" filter="url(#fb0_11)"/><ellipse cx="355.4" cy="1216.9" rx="5.3" ry="5.0" fill="#403020" opacity="0.7" filter="url(#fb0_11)"/><rect x="380.5" y="1279.8" width="12.5" height="5" fill="#f6f6f6" stroke="#888" stroke-width="0.6"/></g><g clip-path="url(#tc12)"><g filter="url(#tf12)"><rect x="374.4" y="1157.0" width="75.0" height="63.8" fill="#787a73"/><rect x="448.9" y="1157.0" width="45.0" height="63.8" fill="#64645f"/><rect x="493.5" y="1157.0" width="75.0" height="63.8" fill="#96968c"/><rect x="374.4" y="1220.3" width="75.0" height="33.8" fill="#5f645f"/><rect x="448.9" y="1220.3" width="45.0" height="33.8" fill="#7d8273"/><rect x="493.5" y="1220.3" width="75.0" height="33.8" fill="#96968c"/><rect x="374.4" y="1253.5" width="75.0" height="63.8" fill="#6e696e"/><rect x="448.9" y="1253.5" width="45.0" height="63.8" fill="#64695f"/><rect x="493.5" y="1253.5" width="75.0" height="63.8" fill="#96968c"/></g><rect x="404.4" y="1187.0" width="133.6" height="99.8" filter="url(#vein8)" opacity="0.36"/><path d="M404.4 1221.9L417.8 1226.9L428.4 1241.9L433.8 1261.8L441.8 1281.8" fill="none" stroke="#181c1c" stroke-width="3" stroke-linecap="round" stroke-linejoin="round" opacity="0.6" filter="url(#fb0_12)"/><path d="M464.5 1226.9L460.5 1246.9L457.8 1271.8" fill="none" stroke="#181c1c" stroke-width="2.5" stroke-linecap="round" stroke-linejoin="round" opacity="0.55" filter="url(#fb0_12)"/><path d="M497.9 1197.0L508.6 1212.0L518.0 1221.9" fill="none" stroke="#181c1c" stroke-width="2.5" stroke-linecap="round" stroke-linejoin="round" opacity="0.5" filter="url(#fb0_12)"/><ellipse cx="467.2" cy="1234.9" rx="4.0" ry="4.0" fill="#1a6a80" opacity="0.8" filter="url(#fb0_12)"/><rect x="523.0" y="1279.8" width="12.5" height="5" fill="#f6f6f6" stroke="#888" stroke-width="0.6"/></g><g clip-path="url(#tc13)"><g filter="url(#tf13)"><rect x="516.9" y="1157.0" width="75.0" height="63.8" fill="#6e7373"/><rect x="591.4" y="1157.0" width="45.0" height="63.8" fill="#8c9696"/><rect x="636.0" y="1157.0" width="75.0" height="63.8" fill="#969691"/><rect x="516.9" y="1220.3" width="75.0" height="33.8" fill="#5a6e73"/><rect x="591.4" y="1220.3" width="45.0" height="33.8" fill="#788c8c"/><rect x="636.0" y="1220.3" width="75.0" height="33.8" fill="#919691"/><rect x="516.9" y="1253.5" width="75.0" height="63.8" fill="#647373"/><rect x="591.4" y="1253.5" width="45.0" height="63.8" fill="#6e7878"/><rect x="636.0" y="1253.5" width="75.0" height="63.8" fill="#8c918c"/></g><rect x="546.9" y="1187.0" width="133.6" height="99.8" filter="url(#vein9)" opacity="0.24"/><ellipse cx="550.9" cy="1231.9" rx="4.0" ry="20.0" fill="#101414" opacity="0.7" filter="url(#fb1_13)"/><ellipse cx="620.4" cy="1283.8" rx="13.4" ry="6.0" fill="#101010" opacity="0.8" filter="url(#fb1_13)"/><ellipse cx="632.4" cy="1191.0" rx="4.0" ry="4.0" fill="#201818" opacity="0.8" filter="url(#fb0_13)"/><ellipse cx="596.3" cy="1236.9" rx="3.3" ry="3.5" fill="#302820" opacity="0.8" filter="url(#fb0_13)"/><rect x="665.5" y="1279.8" width="12.5" height="5" fill="#f6f6f6" stroke="#888" stroke-width="0.6"/></g><g clip-path="url(#tc14)"><g filter="url(#tf14)"><rect x="659.4" y="1157.0" width="75.0" height="63.8" fill="#78736e"/><rect x="733.9" y="1157.0" width="45.0" height="63.8" fill="#6e8287"/><rect x="778.5" y="1157.0" width="75.0" height="63.8" fill="#505050"/><rect x="659.4" y="1220.3" width="75.0" height="33.8" fill="#5a5f5f"/><rect x="733.9" y="1220.3" width="45.0" height="33.8" fill="#788282"/><rect x="778.5" y="1220.3" width="75.0" height="33.8" fill="#64645f"/><rect x="659.4" y="1253.5" width="75.0" height="63.8" fill="#646969"/><rect x="733.9" y="1253.5" width="45.0" height="63.8" fill="#6e736e"/><rect x="778.5" y="1253.5" width="75.0" height="63.8" fill="#6e736e"/></g><rect x="689.4" y="1187.0" width="133.6" height="99.8" filter="url(#vein10)" opacity="0.36"/><path d="M689.4 1202.0L702.8 1207.0L709.4 1221.9L722.8 1231.9L736.2 1246.9" fill="none" stroke="#101414" stroke-width="3" stroke-linecap="round" stroke-linejoin="round" opacity="0.7" filter="url(#fb0_14)"/><path d="M789.6 1202.0L796.3 1216.9L807.0 1231.9" fill="none" stroke="#101414" stroke-width="2.5" stroke-linecap="round" stroke-linejoin="round" opacity="0.6" filter="url(#fb0_14)"/><ellipse cx="816.3" cy="1192.0" rx="10.7" ry="12.0" fill="#202020" opacity="0.6" filter="url(#fb1_14)"/><ellipse cx="813.6" cy="1236.9" rx="6.7" ry="12.0" fill="#302820" opacity="0.5" filter="url(#fb1_14)"/><rect x="808.0" y="1279.8" width="12.5" height="5" fill="#f6f6f6" stroke="#888" stroke-width="0.6"/></g><g clip-path="url(#tc15)"><g filter="url(#tf15)"><rect x="801.9" y="1157.0" width="75.0" height="63.8" fill="#1e4696"/><rect x="876.4" y="1157.0" width="45.0" height="63.8" fill="#6e7378"/><rect x="921.0" y="1157.0" width="75.0" height="63.8" fill="#827d73"/><rect x="801.9" y="1220.3" width="75.0" height="33.8" fill="#64788c"/><rect x="876.4" y="1220.3" width="45.0" height="33.8" fill="#969182"/><rect x="921.0" y="1220.3" width="75.0" height="33.8" fill="#918c7d"/><rect x="801.9" y="1253.5" width="75.0" height="63.8" fill="#78737d"/><rect x="876.4" y="1253.5" width="45.0" height="63.8" fill="#827d73"/><rect x="921.0" y="1253.5" width="75.0" height="63.8" fill="#969182"/></g><rect x="831.9" y="1187.0" width="133.6" height="99.8" filter="url(#vein11)" opacity="0.30"/><ellipse cx="851.9" cy="1207.0" rx="24.0" ry="22.0" fill="#1848a8" opacity="0.8" filter="url(#fb2_15)"/><ellipse cx="851.9" cy="1226.9" rx="13.4" ry="10.0" fill="#8aa8c0" opacity="0.5" filter="url(#fb1_15)"/><path d="M865.3 1236.9L872.0 1251.9L865.3 1271.8L872.0 1286.8" fill="none" stroke="#101010" stroke-width="2.5" stroke-linecap="round" stroke-linejoin="round" opacity="0.6" filter="url(#fb0_15)"/><path d="M878.7 1221.9L898.7 1216.9L909.4 1231.9" fill="none" stroke="#202020" stroke-width="2" stroke-linecap="round" stroke-linejoin="round" opacity="0.5" filter="url(#fb0_15)"/><path d="M892.0 1276.8L912.1 1271.8L938.8 1276.8" fill="none" stroke="#202020" stroke-width="2" stroke-linecap="round" stroke-linejoin="round" opacity="0.5" filter="url(#fb0_15)"/><rect x="950.5" y="1279.8" width="12.5" height="5" fill="#f6f6f6" stroke="#888" stroke-width="0.6"/></g><g clip-path="url(#tc20)"><g filter="url(#tf20)"><rect x="89.4" y="1265.6" width="75.0" height="63.8" fill="#646469"/><rect x="163.9" y="1265.6" width="45.0" height="63.8" fill="#6e6969"/><rect x="208.5" y="1265.6" width="75.0" height="63.8" fill="#787d82"/><rect x="89.4" y="1328.9" width="75.0" height="33.8" fill="#555a64"/><rect x="163.9" y="1328.9" width="45.0" height="33.8" fill="#787373"/><rect x="208.5" y="1328.9" width="75.0" height="33.8" fill="#7d7d7d"/><rect x="89.4" y="1362.1" width="75.0" height="63.8" fill="#a09691"/><rect x="163.9" y="1362.1" width="45.0" height="63.8" fill="#5a5555"/><rect x="208.5" y="1362.1" width="75.0" height="63.8" fill="#464646"/></g><rect x="119.4" y="1295.6" width="133.6" height="99.8" filter="url(#vein12)" opacity="0.27"/><ellipse cx="132.8" cy="1380.4" rx="13.4" ry="13.0" fill="#d8ccc4" opacity="0.7" filter="url(#fb1_20)"/><ellipse cx="159.5" cy="1385.4" rx="10.7" ry="8.0" fill="#c8bcb4" opacity="0.6" filter="url(#fb1_20)"/><ellipse cx="142.1" cy="1333.5" rx="18.7" ry="22.0" fill="#8a8a94" fill-opacity="0.5" stroke="#202020" stroke-width="2" stroke-opacity="0.6" filter="url(#fb0_20)"/><ellipse cx="172.8" cy="1307.6" rx="8.0" ry="10.0" fill="#c0bcb8" fill-opacity="0.5" stroke="#202020" stroke-width="1.8" stroke-opacity="0.6" filter="url(#fb0_20)"/><ellipse cx="186.2" cy="1327.5" rx="9.4" ry="11.0" fill="#a89c98" fill-opacity="0.5" stroke="#202020" stroke-width="1.8" stroke-opacity="0.6" filter="url(#fb0_20)"/><ellipse cx="182.2" cy="1350.5" rx="8.0" ry="10.0" fill="#a09490" fill-opacity="0.5" stroke="#202020" stroke-width="1.8" stroke-opacity="0.6" filter="url(#fb0_20)"/><ellipse cx="215.6" cy="1337.5" rx="12.0" ry="13.0" fill="#9c9898" fill-opacity="0.5" stroke="#202020" stroke-width="1.8" stroke-opacity="0.6" filter="url(#fb0_20)"/><ellipse cx="239.6" cy="1355.5" rx="9.4" ry="10.0" fill="#a8a4a4" fill-opacity="0.5" stroke="#202020" stroke-width="1.8" stroke-opacity="0.6" filter="url(#fb0_20)"/><ellipse cx="223.6" cy="1357.5" rx="6.7" ry="7.0" fill="#b0a8a8" fill-opacity="0.5" stroke="#202020" stroke-width="1.6" stroke-opacity="0.6" filter="url(#fb0_20)"/><ellipse cx="156.8" cy="1379.4" rx="8.0" ry="8.0" fill="#d0c4bc" fill-opacity="0.5" stroke="#202020" stroke-width="1.6" stroke-opacity="0.6" filter="url(#fb0_20)"/><ellipse cx="130.1" cy="1377.4" rx="9.4" ry="10.0" fill="#d8ccc4" fill-opacity="0.5" stroke="#202020" stroke-width="1.6" stroke-opacity="0.6" filter="url(#fb0_20)"/><ellipse cx="199.6" cy="1307.6" rx="5.3" ry="6.0" fill="#808080" fill-opacity="0.3" stroke="#101010" stroke-width="2" stroke-opacity="0.8" filter="url(#fb0_20)"/><ellipse cx="199.6" cy="1337.5" rx="4.0" ry="8.0" fill="#c0e0d8" opacity="0.6" filter="url(#fb0_20)"/><ellipse cx="192.9" cy="1380.4" rx="26.7" ry="12.0" fill="#282828" opacity="0.5" filter="url(#fb2_20)"/><rect x="238.0" y="1388.4" width="12.5" height="5" fill="#f6f6f6" stroke="#888" stroke-width="0.6"/></g><g clip-path="url(#tc21)"><g filter="url(#tf21)"><rect x="231.9" y="1265.6" width="75.0" height="63.8" fill="#3282b4"/><rect x="306.4" y="1265.6" width="45.0" height="63.8" fill="#5a8caa"/><rect x="351.0" y="1265.6" width="75.0" height="63.8" fill="#6496b4"/><rect x="231.9" y="1328.9" width="75.0" height="33.8" fill="#2882be"/><rect x="306.4" y="1328.9" width="45.0" height="33.8" fill="#78a0b4"/><rect x="351.0" y="1328.9" width="75.0" height="33.8" fill="#3c8cbe"/><rect x="231.9" y="1362.1" width="75.0" height="63.8" fill="#3c82b4"/><rect x="306.4" y="1362.1" width="45.0" height="63.8" fill="#3c6482"/><rect x="351.0" y="1362.1" width="75.0" height="63.8" fill="#2878b4"/></g><rect x="261.9" y="1295.6" width="133.6" height="99.8" filter="url(#vein13)" opacity="0.18"/><ellipse cx="323.4" cy="1312.6" rx="6.7" ry="9.0" fill="#b09080" fill-opacity="0.6" stroke="#201408" stroke-width="3" stroke-opacity="0.9" filter="url(#fb0_21)"/><ellipse cx="288.6" cy="1340.5" rx="8.0" ry="7.5" fill="#907060" fill-opacity="0.5" stroke="#201408" stroke-width="3" stroke-opacity="0.9" filter="url(#fb0_21)"/><ellipse cx="306.0" cy="1367.5" rx="10.0" ry="11.0" fill="#403830" fill-opacity="0.7" stroke="#181008" stroke-width="3.5" stroke-opacity="0.9" filter="url(#fb0_21)"/><ellipse cx="302.0" cy="1335.5" rx="13.4" ry="20.0" fill="#d0d8dc" opacity="0.4" filter="url(#fb1_21)"/><rect x="380.5" y="1388.4" width="12.5" height="5" fill="#f6f6f6" stroke="#888" stroke-width="0.6"/></g><g clip-path="url(#tc22)"><g filter="url(#tf22)"><rect x="374.4" y="1265.6" width="75.0" height="63.8" fill="#c3b9bc"/><rect x="448.9" y="1265.6" width="45.0" height="63.8" fill="#96a8af"/><rect x="493.5" y="1265.6" width="75.0" height="63.8" fill="#879191"/><rect x="374.4" y="1328.9" width="75.0" height="33.8" fill="#afb4b9"/><rect x="448.9" y="1328.9" width="45.0" height="33.8" fill="#96aab4"/><rect x="493.5" y="1328.9" width="75.0" height="33.8" fill="#6e9bb2"/><rect x="374.4" y="1362.1" width="75.0" height="63.8" fill="#919ba0"/><rect x="448.9" y="1362.1" width="45.0" height="63.8" fill="#649bb9"/><rect x="493.5" y="1362.1" width="75.0" height="63.8" fill="#a5afaf"/></g><rect x="404.4" y="1295.6" width="133.6" height="99.8" filter="url(#vein14)" opacity="0.06"/><path d="M473.9 1305.6L471.2 1320.6L473.9 1340.5" fill="none" stroke="#3a90c8" stroke-width="12" stroke-linecap="round" stroke-linejoin="round" opacity="0.55" filter="url(#fb1_22)"/><path d="M431.1 1390.4L464.5 1370.5L491.2 1353.5L531.3 1337.5" fill="none" stroke="#3a90c8" stroke-width="12" stroke-linecap="round" stroke-linejoin="round" opacity="0.55" filter="url(#fb1_22)"/><ellipse cx="407.1" cy="1325.5" rx="2.7" ry="20.0" fill="#202020" opacity="0.7" filter="url(#fb0_22)"/><ellipse cx="441.8" cy="1320.6" rx="4.0" ry="4.0" fill="#304040" opacity="0.6" filter="url(#fb0_22)"/><ellipse cx="417.8" cy="1377.4" rx="6.7" ry="5.0" fill="#405050" opacity="0.5" filter="url(#fb1_22)"/><rect x="523.0" y="1388.4" width="12.5" height="5" fill="#f6f6f6" stroke="#888" stroke-width="0.6"/></g><g clip-path="url(#tc23)"><g filter="url(#tf23)"><rect x="516.9" y="1265.6" width="75.0" height="63.8" fill="#8c827d"/><rect x="591.4" y="1265.6" width="45.0" height="63.8" fill="#c3b9af"/><rect x="636.0" y="1265.6" width="75.0" height="63.8" fill="#a5a09b"/><rect x="516.9" y="1328.9" width="75.0" height="33.8" fill="#5a8cb4"/><rect x="591.4" y="1328.9" width="45.0" height="33.8" fill="#96afbc"/><rect x="636.0" y="1328.9" width="75.0" height="33.8" fill="#87a5b2"/><rect x="516.9" y="1362.1" width="75.0" height="63.8" fill="#286eaa"/><rect x="591.4" y="1362.1" width="45.0" height="63.8" fill="#879ba5"/><rect x="636.0" y="1362.1" width="75.0" height="63.8" fill="#6496b4"/></g><rect x="546.9" y="1295.6" width="133.6" height="99.8" filter="url(#vein15)" opacity="0.06"/><ellipse cx="550.9" cy="1325.5" rx="5.3" ry="29.9" fill="#101010" opacity="0.8" filter="url(#fb1_23)"/><path d="M587.0 1392.4L620.4 1388.4L653.8 1390.4" fill="none" stroke="#080808" stroke-width="4" stroke-linecap="round" stroke-linejoin="round" opacity="0.85" filter="url(#fb0_23)"/><path d="M560.3 1350.5L593.7 1365.5L613.7 1355.5" fill="none" stroke="#2a80c0" stroke-width="12" stroke-linecap="round" stroke-linejoin="round" opacity="0.5" filter="url(#fb1_23)"/><rect x="665.5" y="1388.4" width="12.5" height="5" fill="#f6f6f6" stroke="#888" stroke-width="0.6"/></g><g clip-path="url(#tc24)"><g filter="url(#tf24)"><rect x="659.4" y="1265.6" width="75.0" height="63.8" fill="#466e82"/><rect x="733.9" y="1265.6" width="45.0" height="63.8" fill="#46a0c8"/><rect x="778.5" y="1265.6" width="75.0" height="63.8" fill="#968c7d"/><rect x="659.4" y="1328.9" width="75.0" height="33.8" fill="#3c96be"/><rect x="733.9" y="1328.9" width="45.0" height="33.8" fill="#5aaac8"/><rect x="778.5" y="1328.9" width="75.0" height="33.8" fill="#2878a0"/><rect x="659.4" y="1362.1" width="75.0" height="63.8" fill="#6e6e73"/><rect x="733.9" y="1362.1" width="45.0" height="63.8" fill="#3c96be"/><rect x="778.5" y="1362.1" width="75.0" height="63.8" fill="#3c8cb4"/></g><rect x="689.4" y="1295.6" width="133.6" height="99.8" filter="url(#vein16)" opacity="0.24"/><ellipse cx="718.8" cy="1365.5" rx="17.4" ry="20.0" fill="#c8b0a8" opacity="0.9" filter="url(#fb1_24)"/><ellipse cx="803.0" cy="1305.6" rx="20.0" ry="12.0" fill="#d8ccb8" opacity="0.7" filter="url(#fb1_24)"/><path d="M749.5 1323.5L769.6 1317.6L789.6 1320.6L809.6 1335.5L823.0 1345.5" fill="none" stroke="#101818" stroke-width="3" stroke-linecap="round" stroke-linejoin="round" opacity="0.7" filter="url(#fb0_24)"/><path d="M696.1 1350.5L702.8 1365.5L700.1 1385.4" fill="none" stroke="#101818" stroke-width="2.5" stroke-linecap="round" stroke-linejoin="round" opacity="0.6" filter="url(#fb0_24)"/><ellipse cx="789.6" cy="1383.4" rx="10.7" ry="6.0" fill="#d0d0c8" opacity="0.6" filter="url(#fb1_24)"/><rect x="808.0" y="1388.4" width="12.5" height="5" fill="#f6f6f6" stroke="#888" stroke-width="0.6"/></g><g clip-path="url(#tc25)"><g filter="url(#tf25)"><rect x="801.9" y="1265.6" width="75.0" height="63.8" fill="#3c78aa"/><rect x="876.4" y="1265.6" width="45.0" height="63.8" fill="#5a82a0"/><rect x="921.0" y="1265.6" width="75.0" height="63.8" fill="#5a8296"/><rect x="801.9" y="1328.9" width="75.0" height="33.8" fill="#5a8caa"/><rect x="876.4" y="1328.9" width="45.0" height="33.8" fill="#508cb4"/><rect x="921.0" y="1328.9" width="75.0" height="33.8" fill="#508caa"/><rect x="801.9" y="1362.1" width="75.0" height="63.8" fill="#3c6e96"/><rect x="876.4" y="1362.1" width="45.0" height="63.8" fill="#507896"/><rect x="921.0" y="1362.1" width="75.0" height="63.8" fill="#827878"/></g><rect x="831.9" y="1295.6" width="133.6" height="99.8" filter="url(#vein17)" opacity="0.33"/><path d="M831.9 1350.5L851.9 1345.5L872.0 1340.5" fill="none" stroke="#101010" stroke-width="2" stroke-linecap="round" stroke-linejoin="round" opacity="0.6" filter="url(#fb0_25)"/><path d="M885.3 1370.5L905.4 1355.5L912.1 1335.5" fill="none" stroke="#101010" stroke-width="2" stroke-linecap="round" stroke-linejoin="round" opacity="0.5" filter="url(#fb0_25)"/><path d="M912.1 1305.6L918.7 1325.5L925.4 1315.6" fill="none" stroke="#101010" stroke-width="2" stroke-linecap="round" stroke-linejoin="round" opacity="0.5" filter="url(#fb0_25)"/><ellipse cx="949.5" cy="1380.4" rx="13.4" ry="10.0" fill="#c8a8a0" opacity="0.6" filter="url(#fb1_25)"/><ellipse cx="837.2" cy="1310.6" rx="6.7" ry="4.0" fill="#e0d0d0" opacity="0.6" filter="url(#fb0_25)"/><rect x="950.5" y="1388.4" width="12.5" height="5" fill="#f6f6f6" stroke="#888" stroke-width="0.6"/></g><g clip-path="url(#tc30)"><g filter="url(#tf30)"><rect x="89.4" y="1374.2" width="75.0" height="63.8" fill="#0a3264"/><rect x="163.9" y="1374.2" width="45.0" height="63.8" fill="#3c96c8"/><rect x="208.5" y="1374.2" width="75.0" height="63.8" fill="#4bafdc"/><rect x="89.4" y="1437.5" width="75.0" height="33.8" fill="#0f4178"/><rect x="163.9" y="1437.5" width="45.0" height="33.8" fill="#5fb9dc"/><rect x="208.5" y="1437.5" width="75.0" height="33.8" fill="#41a5d7"/><rect x="89.4" y="1470.7" width="75.0" height="63.8" fill="#144b82"/><rect x="163.9" y="1470.7" width="45.0" height="63.8" fill="#3c96be"/><rect x="208.5" y="1470.7" width="75.0" height="63.8" fill="#379bd7"/></g><rect x="119.4" y="1404.2" width="133.6" height="99.8" filter="url(#vein18)" opacity="0.15"/><ellipse cx="148.8" cy="1446.1" rx="13.4" ry="22.0" fill="#80c0d8" fill-opacity="0.45" stroke="#0a2030" stroke-width="2.4" stroke-opacity="0.85" filter="url(#fb0_30)"/><ellipse cx="196.9" cy="1476.1" rx="9.4" ry="12.0" fill="#3a7a98" fill-opacity="0.5" stroke="#0a2030" stroke-width="3" stroke-opacity="0.85" filter="url(#fb0_30)"/><ellipse cx="182.2" cy="1492.0" rx="8.0" ry="7.0" fill="#4a8aa8" fill-opacity="0.4" stroke="#0a2030" stroke-width="2" stroke-opacity="0.8" filter="url(#fb0_30)"/><ellipse cx="231.6" cy="1411.2" rx="8.0" ry="8.0" fill="#6aaac8" fill-opacity="0.4" stroke="#0a2030" stroke-width="2" stroke-opacity="0.85" filter="url(#fb0_30)"/><ellipse cx="224.9" cy="1436.1" rx="4.7" ry="4.5" fill="#5aa0c0" fill-opacity="0.4" stroke="#0a2030" stroke-width="1.6" stroke-opacity="0.8" filter="url(#fb0_30)"/><ellipse cx="214.3" cy="1448.1" rx="4.0" ry="4.0" fill="#0a2030" opacity="0.85" filter="url(#fb0_30)"/><ellipse cx="224.9" cy="1452.1" rx="4.0" ry="4.0" fill="#0a2030" opacity="0.85" filter="url(#fb0_30)"/><ellipse cx="187.5" cy="1427.2" rx="3.3" ry="3.0" fill="#0a2030" opacity="0.8" filter="url(#fb0_30)"/><rect x="238.0" y="1497.0" width="12.5" height="5" fill="#f6f6f6" stroke="#888" stroke-width="0.6"/></g><g clip-path="url(#tc31)"><g filter="url(#tf31)"><rect x="231.9" y="1374.2" width="75.0" height="63.8" fill="#1446b4"/><rect x="306.4" y="1374.2" width="45.0" height="63.8" fill="#2882dc"/><rect x="351.0" y="1374.2" width="75.0" height="63.8" fill="#0f2d96"/><rect x="231.9" y="1437.5" width="75.0" height="33.8" fill="#195abe"/><rect x="306.4" y="1437.5" width="45.0" height="33.8" fill="#3ca0e1"/><rect x="351.0" y="1437.5" width="75.0" height="33.8" fill="#2878d2"/><rect x="231.9" y="1470.7" width="75.0" height="63.8" fill="#1446aa"/><rect x="306.4" y="1470.7" width="45.0" height="63.8" fill="#2882d7"/><rect x="351.0" y="1470.7" width="75.0" height="63.8" fill="#1e64c3"/></g><rect x="261.9" y="1404.2" width="133.6" height="99.8" filter="url(#vein19)" opacity="0.15"/><ellipse cx="295.3" cy="1442.1" rx="8.0" ry="6.0" fill="#90e0f0" opacity="0.6" filter="url(#fb1_31)"/><ellipse cx="275.3" cy="1474.1" rx="8.0" ry="4.0" fill="#90e0f0" opacity="0.5" filter="url(#fb1_31)"/><rect x="380.5" y="1497.0" width="12.5" height="5" fill="#f6f6f6" stroke="#888" stroke-width="0.6"/></g><g clip-path="url(#tc32)"><g filter="url(#tf32)"><rect x="374.4" y="1374.2" width="75.0" height="63.8" fill="#3c96be"/><rect x="448.9" y="1374.2" width="45.0" height="63.8" fill="#328cbe"/><rect x="493.5" y="1374.2" width="75.0" height="63.8" fill="#2878aa"/><rect x="374.4" y="1437.5" width="75.0" height="33.8" fill="#3282aa"/><rect x="448.9" y="1437.5" width="45.0" height="33.8" fill="#3c96be"/><rect x="493.5" y="1437.5" width="75.0" height="33.8" fill="#3c96be"/><rect x="374.4" y="1470.7" width="75.0" height="63.8" fill="#4696b4"/><rect x="448.9" y="1470.7" width="45.0" height="63.8" fill="#328cb4"/><rect x="493.5" y="1470.7" width="75.0" height="63.8" fill="#3c96be"/></g><rect x="404.4" y="1404.2" width="133.6" height="99.8" filter="url(#vein20)" opacity="0.18"/><ellipse cx="481.9" cy="1459.1" rx="18.7" ry="12.0" fill="#5ab0d0" fill-opacity="0.3" stroke="#0a3050" stroke-width="2" stroke-opacity="0.7" filter="url(#fb0_32)"/><path d="M420.4 1434.1L417.8 1454.1L424.4 1474.1" fill="none" stroke="#0a3050" stroke-width="2.5" stroke-linecap="round" stroke-linejoin="round" opacity="0.6" filter="url(#fb0_32)"/><path d="M464.5 1409.2L463.2 1429.2L465.9 1444.1" fill="none" stroke="#0a3050" stroke-width="2.5" stroke-linecap="round" stroke-linejoin="round" opacity="0.6" filter="url(#fb0_32)"/><path d="M504.6 1409.2L524.6 1419.2L538.0 1424.2" fill="none" stroke="#0a3050" stroke-width="2.5" stroke-linecap="round" stroke-linejoin="round" opacity="0.5" filter="url(#fb0_32)"/><rect x="523.0" y="1497.0" width="12.5" height="5" fill="#f6f6f6" stroke="#888" stroke-width="0.6"/></g><g clip-path="url(#tc33)"><g filter="url(#tf33)"><rect x="516.9" y="1374.2" width="75.0" height="63.8" fill="#286ec8"/><rect x="591.4" y="1374.2" width="45.0" height="63.8" fill="#1946aa"/><rect x="636.0" y="1374.2" width="75.0" height="63.8" fill="#1e50b4"/><rect x="516.9" y="1437.5" width="75.0" height="33.8" fill="#1e64be"/><rect x="591.4" y="1437.5" width="45.0" height="33.8" fill="#3c96b4"/><rect x="636.0" y="1437.5" width="75.0" height="33.8" fill="#46a0be"/><rect x="516.9" y="1470.7" width="75.0" height="63.8" fill="#1e64be"/><rect x="591.4" y="1470.7" width="45.0" height="63.8" fill="#328cb4"/><rect x="636.0" y="1470.7" width="75.0" height="63.8" fill="#2878be"/></g><rect x="546.9" y="1404.2" width="133.6" height="99.8" filter="url(#vein21)" opacity="0.15"/><ellipse cx="560.3" cy="1416.2" rx="13.4" ry="12.0" fill="#3a98e0" opacity="0.6" filter="url(#fb1_33)"/><ellipse cx="560.3" cy="1424.2" rx="5.3" ry="5.0" fill="#0a2050" opacity="0.6" filter="url(#fb1_33)"/><ellipse cx="566.9" cy="1442.1" rx="4.0" ry="6.0" fill="#b0f0ff" opacity="0.6" filter="url(#fb1_33)"/><rect x="665.5" y="1497.0" width="12.5" height="5" fill="#f6f6f6" stroke="#888" stroke-width="0.6"/></g><g clip-path="url(#tc34)"><g filter="url(#tf34)"><rect x="659.4" y="1374.2" width="75.0" height="63.8" fill="#1946b4"/><rect x="733.9" y="1374.2" width="45.0" height="63.8" fill="#3c96dc"/><rect x="778.5" y="1374.2" width="75.0" height="63.8" fill="#1946b4"/><rect x="659.4" y="1437.5" width="75.0" height="33.8" fill="#1950b9"/><rect x="733.9" y="1437.5" width="45.0" height="33.8" fill="#3c96d7"/><rect x="778.5" y="1437.5" width="75.0" height="33.8" fill="#1e64c8"/><rect x="659.4" y="1470.7" width="75.0" height="63.8" fill="#143caa"/><rect x="733.9" y="1470.7" width="45.0" height="63.8" fill="#3c96d7"/><rect x="778.5" y="1470.7" width="75.0" height="63.8" fill="#1e64c8"/></g><rect x="689.4" y="1404.2" width="133.6" height="99.8" filter="url(#vein22)" opacity="0.15"/><ellipse cx="742.8" cy="1429.2" rx="8.0" ry="12.0" fill="#a8e8f4" opacity="0.7" filter="url(#fb1_34)"/><ellipse cx="762.9" cy="1484.0" rx="10.7" ry="10.0" fill="#80d8ec" opacity="0.5" filter="url(#fb1_34)"/><ellipse cx="793.6" cy="1469.1" rx="2.7" ry="6.0" fill="#0a1a40" opacity="0.6" filter="url(#fb0_34)"/><rect x="808.0" y="1497.0" width="12.5" height="5" fill="#f6f6f6" stroke="#888" stroke-width="0.6"/></g><g clip-path="url(#tc35)"><g filter="url(#tf35)"><rect x="801.9" y="1374.2" width="75.0" height="63.8" fill="#326edc"/><rect x="876.4" y="1374.2" width="45.0" height="63.8" fill="#325ac8"/><rect x="921.0" y="1374.2" width="75.0" height="63.8" fill="#3250be"/><rect x="801.9" y="1437.5" width="75.0" height="33.8" fill="#3c96e6"/><rect x="876.4" y="1437.5" width="45.0" height="33.8" fill="#3264d2"/><rect x="921.0" y="1437.5" width="75.0" height="33.8" fill="#3255c3"/><rect x="801.9" y="1470.7" width="75.0" height="63.8" fill="#2d4bb4"/><rect x="876.4" y="1470.7" width="45.0" height="63.8" fill="#2d55c3"/><rect x="921.0" y="1470.7" width="75.0" height="63.8" fill="#2d50be"/></g><rect x="831.9" y="1404.2" width="133.6" height="99.8" filter="url(#vein23)" opacity="0.12"/><ellipse cx="842.6" cy="1446.1" rx="13.4" ry="20.0" fill="#60b8f0" opacity="0.6" filter="url(#fb2_35)"/><rect x="950.5" y="1497.0" width="12.5" height="5" fill="#f6f6f6" stroke="#888" stroke-width="0.6"/></g><path d="M921.2 1509.4H967.1" stroke="#111" stroke-width="1.6"/><text x="926" y="1528.7" font-size="24" text-anchor="middle" font-weight="normal" >400 μm</text><text x="487" y="1572" font-size="26.5" text-anchor="middle">(<tspan font-weight="bold">c</tspan>)</text></svg></div>
</body></html>
